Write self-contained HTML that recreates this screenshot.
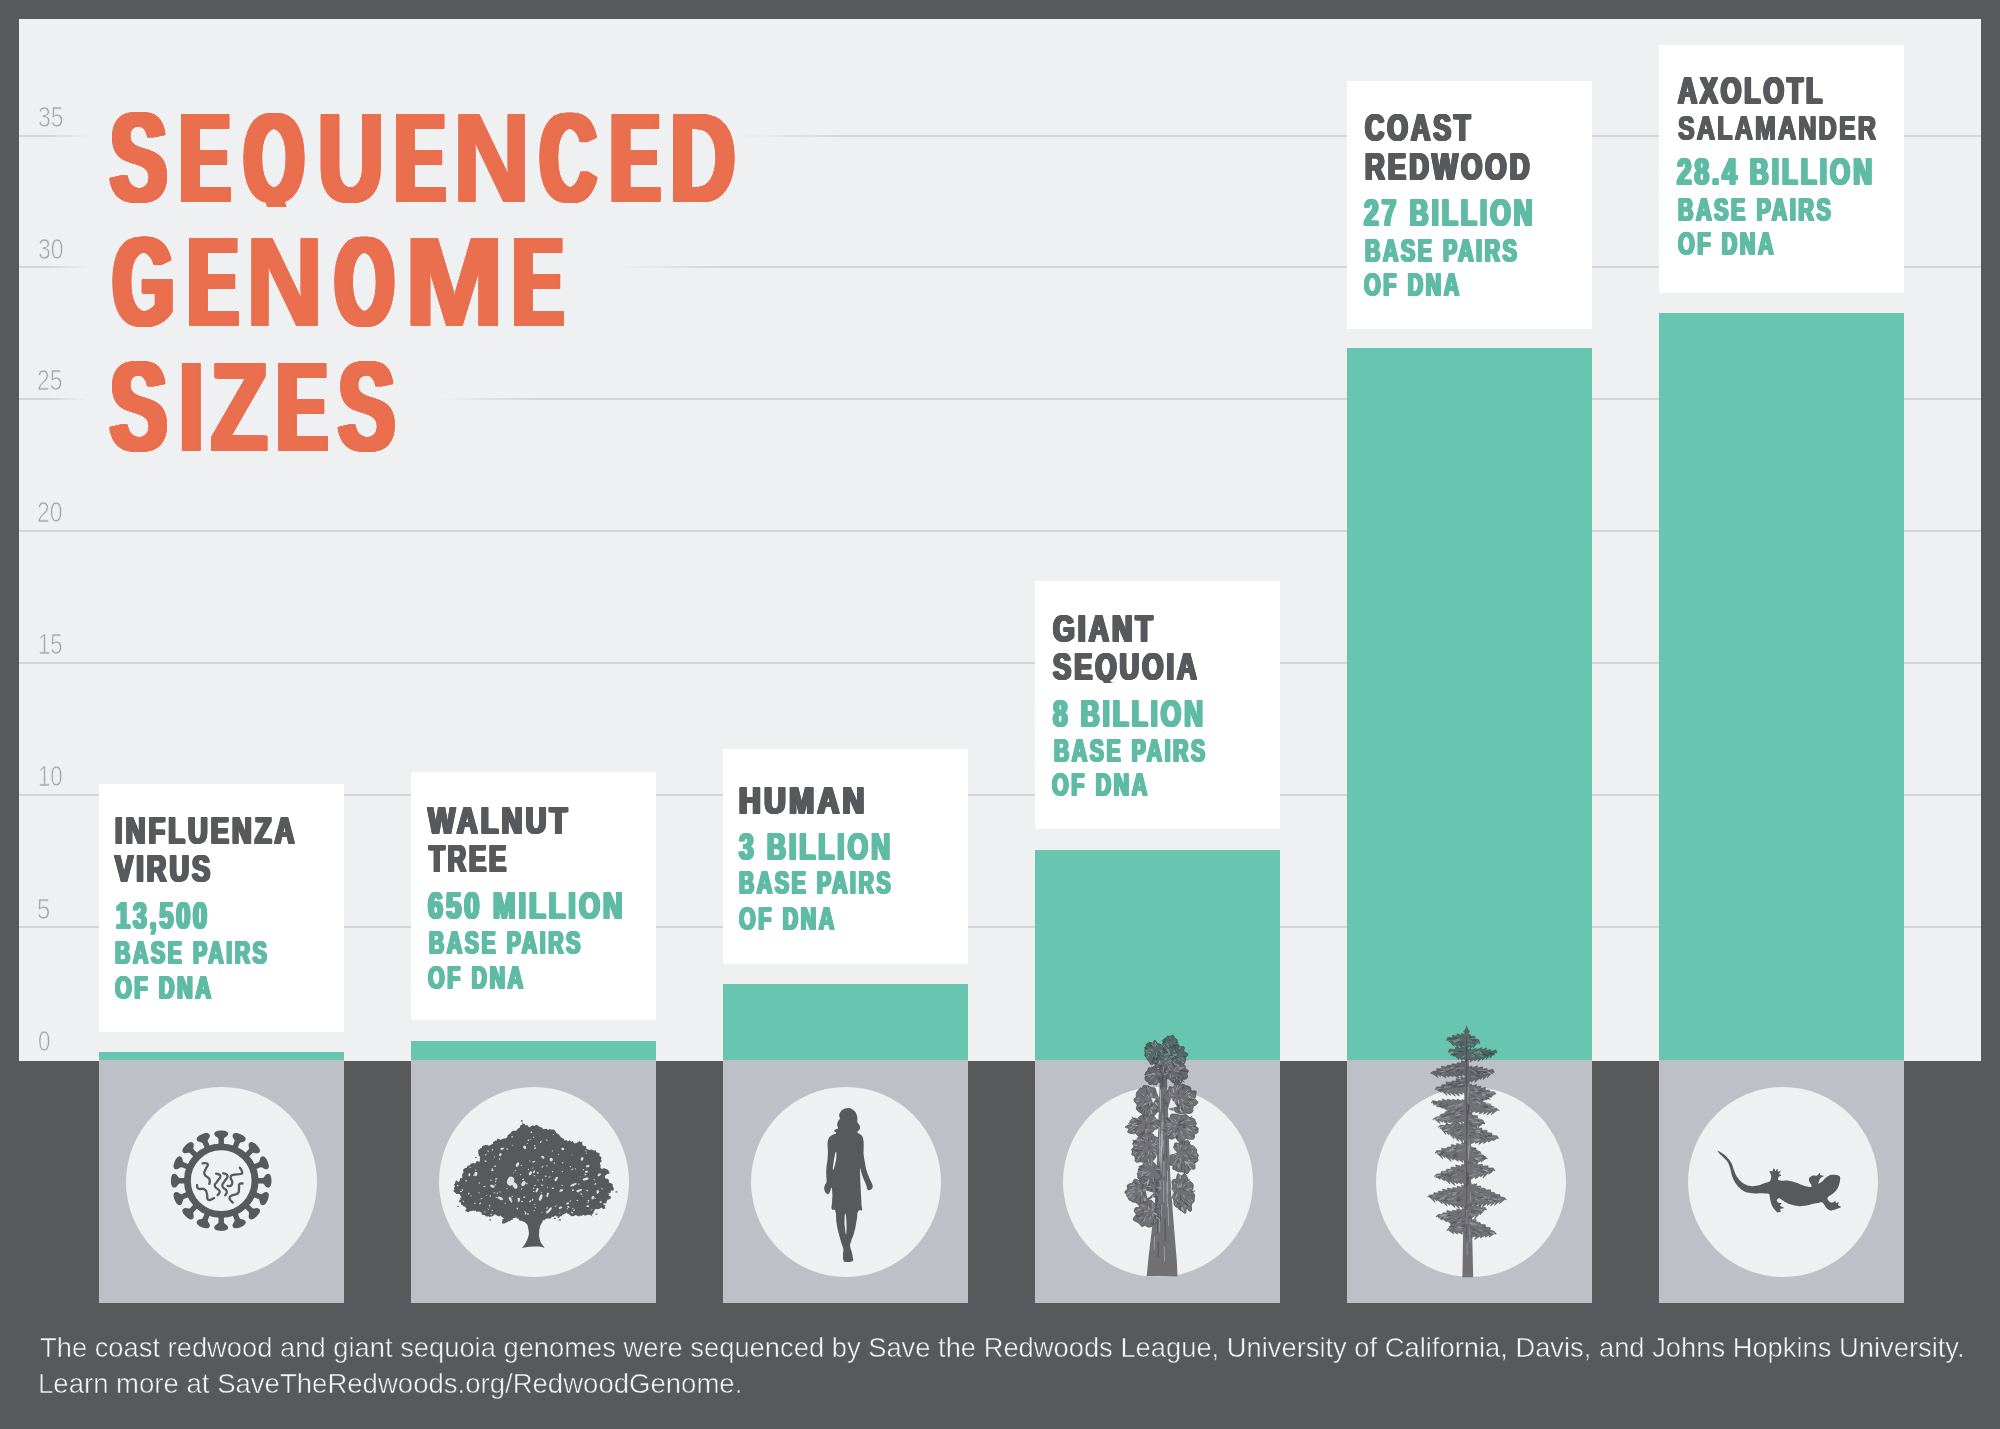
<!DOCTYPE html>
<html lang="en">
<head>
<meta charset="utf-8">
<title>Sequenced Genome Sizes</title>
<style>
html,body{margin:0;padding:0;}
body{width:2000px;height:1429px;background:#58595d;position:relative;overflow:hidden;
 font-family:"Liberation Sans",sans-serif;}
.abs{position:absolute;}
.panel{position:absolute;left:19px;top:19px;width:1962px;height:1041.5px;background:#eff0f2;}
.grid{position:absolute;left:19px;width:1962px;height:2px;background:#d4d5d9;}
.bar{position:absolute;background:#68c5b0;}
.lbl{position:absolute;background:#fff;}
.ibox{position:absolute;background:#bec0c8;}
.circ{position:absolute;width:190.1px;height:190.1px;border-radius:50%;background:#eff0f2;}
.tl{position:absolute;left:0;top:0;width:2000px;height:1429px;will-change:transform;}
.foot{-webkit-text-stroke:0.5px #58595d;}
.ax{-webkit-text-stroke:0.7px #eff0f2;}
.t{position:absolute;white-space:nowrap;line-height:1;transform-origin:0 0;letter-spacing:0;}
svg{position:absolute;overflow:visible;}
</style>
</head>
<body>
<div class="panel"></div>

<div class="grid" style="top:134.6px;background:linear-gradient(to right,#d4d5d9 0,#d4d5d9 30px,rgba(212,213,217,0) 70px,rgba(212,213,217,0) 718px,#d4d5d9 826px);"></div>
<div class="grid" style="top:266.2px;background:linear-gradient(to right,#d4d5d9 0,#d4d5d9 30px,rgba(212,213,217,0) 70px,rgba(212,213,217,0) 597px,#d4d5d9 703px);"></div>
<div class="grid" style="top:398.2px;background:linear-gradient(to right,#d4d5d9 0,#d4d5d9 30px,rgba(212,213,217,0) 70px,rgba(212,213,217,0) 414px,#d4d5d9 522px);"></div>
<div class="grid" style="top:530.2px;"></div>
<div class="grid" style="top:662.2px;"></div>
<div class="grid" style="top:794.2px;"></div>
<div class="grid" style="top:926.2px;"></div>
<div class="ibox" style="left:98.6px;top:1060px;width:245.5px;height:243.1px;"></div>
<div class="circ" style="left:126.45px;top:1086.9px;"></div>
<div class="bar" style="left:98.6px;top:1052.0px;width:245.5px;height:8.4px;"></div>
<div class="lbl" style="left:98.6px;top:784.3px;width:245.5px;height:248.1px;"></div>
<div class="ibox" style="left:410.6px;top:1060px;width:245.5px;height:243.1px;"></div>
<div class="circ" style="left:438.72px;top:1086.9px;"></div>
<div class="bar" style="left:410.6px;top:1041.3px;width:245.5px;height:19.1px;"></div>
<div class="lbl" style="left:410.6px;top:772.3px;width:245.5px;height:248.2px;"></div>
<div class="ibox" style="left:722.6px;top:1060px;width:245.5px;height:243.1px;"></div>
<div class="circ" style="left:750.99px;top:1086.9px;"></div>
<div class="bar" style="left:722.6px;top:984.4px;width:245.5px;height:76.0px;"></div>
<div class="lbl" style="left:722.6px;top:749.3px;width:245.5px;height:215.0px;"></div>
<div class="ibox" style="left:1034.6px;top:1060px;width:245.5px;height:243.1px;"></div>
<div class="circ" style="left:1063.26px;top:1086.9px;"></div>
<div class="bar" style="left:1034.6px;top:849.6px;width:245.5px;height:210.8px;"></div>
<div class="lbl" style="left:1034.6px;top:580.9px;width:245.5px;height:248.3px;"></div>
<div class="ibox" style="left:1346.6px;top:1060px;width:245.5px;height:243.1px;"></div>
<div class="circ" style="left:1375.53px;top:1086.9px;"></div>
<div class="bar" style="left:1346.6px;top:348.0px;width:245.5px;height:712.4px;"></div>
<div class="lbl" style="left:1346.6px;top:80.9px;width:245.5px;height:248.4px;"></div>
<div class="ibox" style="left:1658.6px;top:1060px;width:245.5px;height:243.1px;"></div>
<div class="circ" style="left:1687.80px;top:1086.9px;"></div>
<div class="bar" style="left:1658.6px;top:313.0px;width:245.5px;height:747.4px;"></div>
<div class="lbl" style="left:1658.6px;top:44.9px;width:245.5px;height:248.0px;"></div>
<div class="tl">
<div class="t ax" style="left:37.66px;top:103.29px;font-size:29.07px;font-weight:normal;color:#a4a5a8;transform:scaleX(0.7914);">35</div>
<div class="t ax" style="left:37.66px;top:235.29px;font-size:29.07px;font-weight:normal;color:#a4a5a8;transform:scaleX(0.7888);">30</div>
<div class="t ax" style="left:36.74px;top:366.29px;font-size:29.07px;font-weight:normal;color:#a4a5a8;transform:scaleX(0.7867);">25</div>
<div class="t ax" style="left:36.77px;top:498.29px;font-size:29.07px;font-weight:normal;color:#a4a5a8;transform:scaleX(0.7886);">20</div>
<div class="t ax" style="left:37.62px;top:630.29px;font-size:29.07px;font-weight:normal;color:#a4a5a8;transform:scaleX(0.7621);">15</div>
<div class="t ax" style="left:37.62px;top:762.29px;font-size:29.07px;font-weight:normal;color:#a4a5a8;transform:scaleX(0.7613);">10</div>
<div class="t ax" style="left:36.73px;top:895.29px;font-size:29.07px;font-weight:normal;color:#a4a5a8;transform:scaleX(0.8214);">5</div>
<div class="t ax" style="left:38.32px;top:1027.29px;font-size:29.07px;font-weight:normal;color:#a4a5a8;transform:scaleX(0.7681);">0</div>
<div class="t name" style="left:115.45px;top:811.98px;font-size:37.35px;font-weight:bold;color:#58595d;transform:scaleX(0.7318);letter-spacing:4.2px;text-shadow:-1.75px 0.00px 0 currentColor,-0.88px 0.00px 0 currentColor,0.88px 0.00px 0 currentColor,1.75px 0.00px 0 currentColor,-1.75px 1.00px 0 currentColor,-0.88px 1.00px 0 currentColor,0.00px 1.00px 0 currentColor,0.88px 1.00px 0 currentColor,1.75px 1.00px 0 currentColor;">INFLUENZA</div>
<div class="t name" style="left:115.08px;top:850.16px;font-size:37.50px;font-weight:bold;color:#58595d;transform:scaleX(0.7246);letter-spacing:4.2px;text-shadow:-1.75px 0.00px 0 currentColor,-0.88px 0.00px 0 currentColor,0.88px 0.00px 0 currentColor,1.75px 0.00px 0 currentColor,-1.75px 1.00px 0 currentColor,-0.88px 1.00px 0 currentColor,0.00px 1.00px 0 currentColor,0.88px 1.00px 0 currentColor,1.75px 1.00px 0 currentColor;">VIRUS</div>
<div class="t val" style="left:115.59px;top:897.48px;font-size:37.35px;font-weight:bold;color:#5fbba5;transform:scaleX(0.6734);letter-spacing:4.2px;text-shadow:-1.75px 0.00px 0 currentColor,-0.88px 0.00px 0 currentColor,0.88px 0.00px 0 currentColor,1.75px 0.00px 0 currentColor,-1.75px 1.00px 0 currentColor,-0.88px 1.00px 0 currentColor,0.00px 1.00px 0 currentColor,0.88px 1.00px 0 currentColor,1.75px 1.00px 0 currentColor;">13,500</div>
<div class="t sub" style="left:114.65px;top:938.12px;font-size:30.69px;font-weight:bold;color:#5fbba5;transform:scaleX(0.6918);letter-spacing:3.8px;text-shadow:-1.55px 0.00px 0 currentColor,-0.52px 0.00px 0 currentColor,0.52px 0.00px 0 currentColor,1.55px 0.00px 0 currentColor,-1.55px 1.00px 0 currentColor,-0.52px 1.00px 0 currentColor,0.52px 1.00px 0 currentColor,1.55px 1.00px 0 currentColor;">BASE PAIRS</div>
<div class="t sub" style="left:114.97px;top:972.62px;font-size:30.69px;font-weight:bold;color:#5fbba5;transform:scaleX(0.7019);letter-spacing:3.8px;text-shadow:-1.55px 0.00px 0 currentColor,-0.52px 0.00px 0 currentColor,0.52px 0.00px 0 currentColor,1.55px 0.00px 0 currentColor,-1.55px 1.00px 0 currentColor,-0.52px 1.00px 0 currentColor,0.52px 1.00px 0 currentColor,1.55px 1.00px 0 currentColor;">OF DNA</div>
<div class="t name" style="left:428.06px;top:801.66px;font-size:37.50px;font-weight:bold;color:#58595d;transform:scaleX(0.7674);letter-spacing:4.2px;text-shadow:-1.75px 0.00px 0 currentColor,-0.88px 0.00px 0 currentColor,0.88px 0.00px 0 currentColor,1.75px 0.00px 0 currentColor,-1.75px 1.00px 0 currentColor,-0.88px 1.00px 0 currentColor,0.00px 1.00px 0 currentColor,0.88px 1.00px 0 currentColor,1.75px 1.00px 0 currentColor;">WALNUT</div>
<div class="t name" style="left:428.92px;top:839.98px;font-size:37.35px;font-weight:bold;color:#58595d;transform:scaleX(0.6884);letter-spacing:4.2px;text-shadow:-1.75px 0.00px 0 currentColor,-0.88px 0.00px 0 currentColor,0.88px 0.00px 0 currentColor,1.75px 0.00px 0 currentColor,-1.75px 1.00px 0 currentColor,-0.88px 1.00px 0 currentColor,0.00px 1.00px 0 currentColor,0.88px 1.00px 0 currentColor,1.75px 1.00px 0 currentColor;">TREE</div>
<div class="t val" style="left:428.11px;top:887.48px;font-size:37.35px;font-weight:bold;color:#5fbba5;transform:scaleX(0.7260);letter-spacing:4.2px;text-shadow:-1.75px 0.00px 0 currentColor,-0.88px 0.00px 0 currentColor,0.88px 0.00px 0 currentColor,1.75px 0.00px 0 currentColor,-1.75px 1.00px 0 currentColor,-0.88px 1.00px 0 currentColor,0.00px 1.00px 0 currentColor,0.88px 1.00px 0 currentColor,1.75px 1.00px 0 currentColor;">650 MILLION</div>
<div class="t sub" style="left:429.14px;top:928.30px;font-size:30.84px;font-weight:bold;color:#5fbba5;transform:scaleX(0.6863);letter-spacing:3.8px;text-shadow:-1.55px 0.00px 0 currentColor,-0.52px 0.00px 0 currentColor,0.52px 0.00px 0 currentColor,1.55px 0.00px 0 currentColor,-1.55px 1.00px 0 currentColor,-0.52px 1.00px 0 currentColor,0.52px 1.00px 0 currentColor,1.55px 1.00px 0 currentColor;">BASE PAIRS</div>
<div class="t sub" style="left:428.47px;top:962.62px;font-size:30.69px;font-weight:bold;color:#5fbba5;transform:scaleX(0.6955);letter-spacing:3.8px;text-shadow:-1.55px 0.00px 0 currentColor,-0.52px 0.00px 0 currentColor,0.52px 0.00px 0 currentColor,1.55px 0.00px 0 currentColor,-1.55px 1.00px 0 currentColor,-0.52px 1.00px 0 currentColor,0.52px 1.00px 0 currentColor,1.55px 1.00px 0 currentColor;">OF DNA</div>
<div class="t name" style="left:738.88px;top:781.66px;font-size:37.50px;font-weight:bold;color:#58595d;transform:scaleX(0.8008);letter-spacing:4.2px;text-shadow:-1.75px 0.00px 0 currentColor,-0.88px 0.00px 0 currentColor,0.88px 0.00px 0 currentColor,1.75px 0.00px 0 currentColor,-1.75px 1.00px 0 currentColor,-0.88px 1.00px 0 currentColor,0.00px 1.00px 0 currentColor,0.88px 1.00px 0 currentColor,1.75px 1.00px 0 currentColor;">HUMAN</div>
<div class="t val" style="left:738.63px;top:827.66px;font-size:37.50px;font-weight:bold;color:#5fbba5;transform:scaleX(0.7036);letter-spacing:4.2px;text-shadow:-1.75px 0.00px 0 currentColor,-0.88px 0.00px 0 currentColor,0.88px 0.00px 0 currentColor,1.75px 0.00px 0 currentColor,-1.75px 1.00px 0 currentColor,-0.88px 1.00px 0 currentColor,0.00px 1.00px 0 currentColor,0.88px 1.00px 0 currentColor,1.75px 1.00px 0 currentColor;">3 BILLION</div>
<div class="t sub" style="left:739.15px;top:868.12px;font-size:30.69px;font-weight:bold;color:#5fbba5;transform:scaleX(0.6907);letter-spacing:3.8px;text-shadow:-1.55px 0.00px 0 currentColor,-0.52px 0.00px 0 currentColor,0.52px 0.00px 0 currentColor,1.55px 0.00px 0 currentColor,-1.55px 1.00px 0 currentColor,-0.52px 1.00px 0 currentColor,0.52px 1.00px 0 currentColor,1.55px 1.00px 0 currentColor;">BASE PAIRS</div>
<div class="t sub" style="left:738.97px;top:903.80px;font-size:30.84px;font-weight:bold;color:#5fbba5;transform:scaleX(0.6943);letter-spacing:3.8px;text-shadow:-1.55px 0.00px 0 currentColor,-0.52px 0.00px 0 currentColor,0.52px 0.00px 0 currentColor,1.55px 0.00px 0 currentColor,-1.55px 1.00px 0 currentColor,-0.52px 1.00px 0 currentColor,0.52px 1.00px 0 currentColor,1.55px 1.00px 0 currentColor;">OF DNA</div>
<div class="t name" style="left:1053.46px;top:609.83px;font-size:37.65px;font-weight:bold;color:#58595d;transform:scaleX(0.7437);letter-spacing:4.2px;text-shadow:-1.75px 0.00px 0 currentColor,-0.88px 0.00px 0 currentColor,0.88px 0.00px 0 currentColor,1.75px 0.00px 0 currentColor,-1.75px 1.00px 0 currentColor,-0.88px 1.00px 0 currentColor,0.00px 1.00px 0 currentColor,0.88px 1.00px 0 currentColor,1.75px 1.00px 0 currentColor;">GIANT</div>
<div class="t name" style="left:1053.16px;top:648.16px;font-size:37.50px;font-weight:bold;color:#58595d;transform:scaleX(0.7252);letter-spacing:4.2px;text-shadow:-1.75px 0.00px 0 currentColor,-0.88px 0.00px 0 currentColor,0.88px 0.00px 0 currentColor,1.75px 0.00px 0 currentColor,-1.75px 1.00px 0 currentColor,-0.88px 1.00px 0 currentColor,0.00px 1.00px 0 currentColor,0.88px 1.00px 0 currentColor,1.75px 1.00px 0 currentColor;">SEQUOIA</div>
<div class="t val" style="left:1053.39px;top:694.66px;font-size:37.50px;font-weight:bold;color:#5fbba5;transform:scaleX(0.6984);letter-spacing:4.2px;text-shadow:-1.75px 0.00px 0 currentColor,-0.88px 0.00px 0 currentColor,0.88px 0.00px 0 currentColor,1.75px 0.00px 0 currentColor,-1.75px 1.00px 0 currentColor,-0.88px 1.00px 0 currentColor,0.00px 1.00px 0 currentColor,0.88px 1.00px 0 currentColor,1.75px 1.00px 0 currentColor;">8 BILLION</div>
<div class="t sub" style="left:1053.65px;top:735.80px;font-size:30.84px;font-weight:bold;color:#5fbba5;transform:scaleX(0.6857);letter-spacing:3.8px;text-shadow:-1.55px 0.00px 0 currentColor,-0.52px 0.00px 0 currentColor,0.52px 0.00px 0 currentColor,1.55px 0.00px 0 currentColor,-1.55px 1.00px 0 currentColor,-0.52px 1.00px 0 currentColor,0.52px 1.00px 0 currentColor,1.55px 1.00px 0 currentColor;">BASE PAIRS</div>
<div class="t sub" style="left:1052.47px;top:770.30px;font-size:30.84px;font-weight:bold;color:#5fbba5;transform:scaleX(0.6943);letter-spacing:3.8px;text-shadow:-1.55px 0.00px 0 currentColor,-0.52px 0.00px 0 currentColor,0.52px 0.00px 0 currentColor,1.55px 0.00px 0 currentColor,-1.55px 1.00px 0 currentColor,-0.52px 1.00px 0 currentColor,0.52px 1.00px 0 currentColor,1.55px 1.00px 0 currentColor;">OF DNA</div>
<div class="t name" style="left:1364.65px;top:109.01px;font-size:37.79px;font-weight:bold;color:#58595d;transform:scaleX(0.7071);letter-spacing:4.2px;text-shadow:-1.75px 0.00px 0 currentColor,-0.88px 0.00px 0 currentColor,0.88px 0.00px 0 currentColor,1.75px 0.00px 0 currentColor,-1.75px 1.00px 0 currentColor,-0.88px 1.00px 0 currentColor,0.00px 1.00px 0 currentColor,0.88px 1.00px 0 currentColor,1.75px 1.00px 0 currentColor;">COAST</div>
<div class="t name" style="left:1365.44px;top:148.16px;font-size:37.50px;font-weight:bold;color:#58595d;transform:scaleX(0.7302);letter-spacing:4.2px;text-shadow:-1.75px 0.00px 0 currentColor,-0.88px 0.00px 0 currentColor,0.88px 0.00px 0 currentColor,1.75px 0.00px 0 currentColor,-1.75px 1.00px 0 currentColor,-0.88px 1.00px 0 currentColor,0.00px 1.00px 0 currentColor,0.88px 1.00px 0 currentColor,1.75px 1.00px 0 currentColor;">REDWOOD</div>
<div class="t val" style="left:1363.81px;top:194.48px;font-size:37.35px;font-weight:bold;color:#5fbba5;transform:scaleX(0.7056);letter-spacing:4.2px;text-shadow:-1.75px 0.00px 0 currentColor,-0.88px 0.00px 0 currentColor,0.88px 0.00px 0 currentColor,1.75px 0.00px 0 currentColor,-1.75px 1.00px 0 currentColor,-0.88px 1.00px 0 currentColor,0.00px 1.00px 0 currentColor,0.88px 1.00px 0 currentColor,1.75px 1.00px 0 currentColor;">27 BILLION</div>
<div class="t sub" style="left:1364.64px;top:235.47px;font-size:30.99px;font-weight:bold;color:#5fbba5;transform:scaleX(0.6859);letter-spacing:3.8px;text-shadow:-1.55px 0.00px 0 currentColor,-0.52px 0.00px 0 currentColor,0.52px 0.00px 0 currentColor,1.55px 0.00px 0 currentColor,-1.55px 1.00px 0 currentColor,-0.52px 1.00px 0 currentColor,0.52px 1.00px 0 currentColor,1.55px 1.00px 0 currentColor;">BASE PAIRS</div>
<div class="t sub" style="left:1364.47px;top:270.30px;font-size:30.84px;font-weight:bold;color:#5fbba5;transform:scaleX(0.6943);letter-spacing:3.8px;text-shadow:-1.55px 0.00px 0 currentColor,-0.52px 0.00px 0 currentColor,0.52px 0.00px 0 currentColor,1.55px 0.00px 0 currentColor,-1.55px 1.00px 0 currentColor,-0.52px 1.00px 0 currentColor,0.52px 1.00px 0 currentColor,1.55px 1.00px 0 currentColor;">OF DNA</div>
<div class="t name" style="left:1677.59px;top:72.30px;font-size:37.21px;font-weight:bold;color:#58595d;transform:scaleX(0.7107);letter-spacing:4.2px;text-shadow:-1.75px 0.00px 0 currentColor,-0.88px 0.00px 0 currentColor,0.88px 0.00px 0 currentColor,1.75px 0.00px 0 currentColor,-1.75px 1.00px 0 currentColor,-0.88px 1.00px 0 currentColor,0.00px 1.00px 0 currentColor,0.88px 1.00px 0 currentColor,1.75px 1.00px 0 currentColor;">AXOLOTL</div>
<div class="t name2" style="left:1677.62px;top:111.52px;font-size:32.70px;font-weight:bold;color:#58595d;transform:scaleX(0.7628);letter-spacing:3.0px;text-shadow:-1.10px 0.00px 0 currentColor,1.10px 0.00px 0 currentColor,-1.10px 1.00px 0 currentColor,0.00px 1.00px 0 currentColor,1.10px 1.00px 0 currentColor;">SALAMANDER</div>
<div class="t val" style="left:1677.31px;top:153.16px;font-size:37.50px;font-weight:bold;color:#5fbba5;transform:scaleX(0.6977);letter-spacing:4.2px;text-shadow:-1.75px 0.00px 0 currentColor,-0.88px 0.00px 0 currentColor,0.88px 0.00px 0 currentColor,1.75px 0.00px 0 currentColor,-1.75px 1.00px 0 currentColor,-0.88px 1.00px 0 currentColor,0.00px 1.00px 0 currentColor,0.88px 1.00px 0 currentColor,1.75px 1.00px 0 currentColor;">28.4 BILLION</div>
<div class="t sub" style="left:1678.14px;top:194.80px;font-size:30.84px;font-weight:bold;color:#5fbba5;transform:scaleX(0.6931);letter-spacing:3.8px;text-shadow:-1.55px 0.00px 0 currentColor,-0.52px 0.00px 0 currentColor,0.52px 0.00px 0 currentColor,1.55px 0.00px 0 currentColor,-1.55px 1.00px 0 currentColor,-0.52px 1.00px 0 currentColor,0.52px 1.00px 0 currentColor,1.55px 1.00px 0 currentColor;">BASE PAIRS</div>
<div class="t sub" style="left:1677.96px;top:229.30px;font-size:30.84px;font-weight:bold;color:#5fbba5;transform:scaleX(0.6962);letter-spacing:3.8px;text-shadow:-1.55px 0.00px 0 currentColor,-0.52px 0.00px 0 currentColor,0.52px 0.00px 0 currentColor,1.55px 0.00px 0 currentColor,-1.55px 1.00px 0 currentColor,-0.52px 1.00px 0 currentColor,0.52px 1.00px 0 currentColor,1.55px 1.00px 0 currentColor;">OF DNA</div>
<div class="t title" style="left:110.30px;top:94.96px;font-size:126.45px;font-weight:bold;color:#e96f4f;transform:scaleX(0.6778);text-shadow:-4.85px 0.00px 0 currentColor,-3.96px 0.00px 0 currentColor,-3.08px 0.00px 0 currentColor,-2.20px 0.00px 0 currentColor,-1.32px 0.00px 0 currentColor,-0.44px 0.00px 0 currentColor,0.44px 0.00px 0 currentColor,1.32px 0.00px 0 currentColor,2.20px 0.00px 0 currentColor,3.08px 0.00px 0 currentColor,3.96px 0.00px 0 currentColor,4.85px 0.00px 0 currentColor,-4.85px 1.00px 0 currentColor,-3.96px 1.00px 0 currentColor,-3.08px 1.00px 0 currentColor,-2.20px 1.00px 0 currentColor,-1.32px 1.00px 0 currentColor,-0.44px 1.00px 0 currentColor,0.44px 1.00px 0 currentColor,1.32px 1.00px 0 currentColor,2.20px 1.00px 0 currentColor,3.08px 1.00px 0 currentColor,3.96px 1.00px 0 currentColor,4.85px 1.00px 0 currentColor;">S</div>
<div class="t title" style="left:180.35px;top:94.96px;font-size:126.45px;font-weight:bold;color:#e96f4f;transform:scaleX(0.5899);text-shadow:-6.88px 0.00px 0 currentColor,-5.96px 0.00px 0 currentColor,-5.04px 0.00px 0 currentColor,-4.13px 0.00px 0 currentColor,-3.21px 0.00px 0 currentColor,-2.29px 0.00px 0 currentColor,-1.38px 0.00px 0 currentColor,-0.46px 0.00px 0 currentColor,0.46px 0.00px 0 currentColor,1.38px 0.00px 0 currentColor,2.29px 0.00px 0 currentColor,3.21px 0.00px 0 currentColor,4.13px 0.00px 0 currentColor,5.04px 0.00px 0 currentColor,5.96px 0.00px 0 currentColor,6.88px 0.00px 0 currentColor,-6.88px 1.00px 0 currentColor,-5.96px 1.00px 0 currentColor,-5.04px 1.00px 0 currentColor,-4.13px 1.00px 0 currentColor,-3.21px 1.00px 0 currentColor,-2.29px 1.00px 0 currentColor,-1.38px 1.00px 0 currentColor,-0.46px 1.00px 0 currentColor,0.46px 1.00px 0 currentColor,1.38px 1.00px 0 currentColor,2.29px 1.00px 0 currentColor,3.21px 1.00px 0 currentColor,4.13px 1.00px 0 currentColor,5.04px 1.00px 0 currentColor,5.96px 1.00px 0 currentColor,6.88px 1.00px 0 currentColor;">E</div>
<div class="t title" style="left:243.70px;top:94.96px;font-size:126.45px;font-weight:bold;color:#e96f4f;transform:scaleX(0.6100);text-shadow:-6.34px 0.00px 0 currentColor,-5.43px 0.00px 0 currentColor,-4.53px 0.00px 0 currentColor,-3.62px 0.00px 0 currentColor,-2.72px 0.00px 0 currentColor,-1.81px 0.00px 0 currentColor,-0.91px 0.00px 0 currentColor,0.91px 0.00px 0 currentColor,1.81px 0.00px 0 currentColor,2.72px 0.00px 0 currentColor,3.62px 0.00px 0 currentColor,4.53px 0.00px 0 currentColor,5.43px 0.00px 0 currentColor,6.34px 0.00px 0 currentColor,-6.34px 1.00px 0 currentColor,-5.43px 1.00px 0 currentColor,-4.53px 1.00px 0 currentColor,-3.62px 1.00px 0 currentColor,-2.72px 1.00px 0 currentColor,-1.81px 1.00px 0 currentColor,-0.91px 1.00px 0 currentColor,0.00px 1.00px 0 currentColor,0.91px 1.00px 0 currentColor,1.81px 1.00px 0 currentColor,2.72px 1.00px 0 currentColor,3.62px 1.00px 0 currentColor,4.53px 1.00px 0 currentColor,5.43px 1.00px 0 currentColor,6.34px 1.00px 0 currentColor;">Q</div>
<div class="t title" style="left:317.50px;top:94.96px;font-size:126.45px;font-weight:bold;color:#e96f4f;transform:scaleX(0.7179);text-shadow:-3.95px 0.00px 0 currentColor,-3.07px 0.00px 0 currentColor,-2.19px 0.00px 0 currentColor,-1.32px 0.00px 0 currentColor,-0.44px 0.00px 0 currentColor,0.44px 0.00px 0 currentColor,1.32px 0.00px 0 currentColor,2.19px 0.00px 0 currentColor,3.07px 0.00px 0 currentColor,3.95px 0.00px 0 currentColor,-3.95px 1.00px 0 currentColor,-3.07px 1.00px 0 currentColor,-2.19px 1.00px 0 currentColor,-1.32px 1.00px 0 currentColor,-0.44px 1.00px 0 currentColor,0.44px 1.00px 0 currentColor,1.32px 1.00px 0 currentColor,2.19px 1.00px 0 currentColor,3.07px 1.00px 0 currentColor,3.95px 1.00px 0 currentColor;">U</div>
<div class="t title" style="left:395.35px;top:94.96px;font-size:126.45px;font-weight:bold;color:#e96f4f;transform:scaleX(0.5899);text-shadow:-6.88px 0.00px 0 currentColor,-5.96px 0.00px 0 currentColor,-5.04px 0.00px 0 currentColor,-4.13px 0.00px 0 currentColor,-3.21px 0.00px 0 currentColor,-2.29px 0.00px 0 currentColor,-1.38px 0.00px 0 currentColor,-0.46px 0.00px 0 currentColor,0.46px 0.00px 0 currentColor,1.38px 0.00px 0 currentColor,2.29px 0.00px 0 currentColor,3.21px 0.00px 0 currentColor,4.13px 0.00px 0 currentColor,5.04px 0.00px 0 currentColor,5.96px 0.00px 0 currentColor,6.88px 0.00px 0 currentColor,-6.88px 1.00px 0 currentColor,-5.96px 1.00px 0 currentColor,-5.04px 1.00px 0 currentColor,-4.13px 1.00px 0 currentColor,-3.21px 1.00px 0 currentColor,-2.29px 1.00px 0 currentColor,-1.38px 1.00px 0 currentColor,-0.46px 1.00px 0 currentColor,0.46px 1.00px 0 currentColor,1.38px 1.00px 0 currentColor,2.29px 1.00px 0 currentColor,3.21px 1.00px 0 currentColor,4.13px 1.00px 0 currentColor,5.04px 1.00px 0 currentColor,5.96px 1.00px 0 currentColor,6.88px 1.00px 0 currentColor;">E</div>
<div class="t title" style="left:453.36px;top:94.96px;font-size:126.45px;font-weight:bold;color:#e96f4f;transform:scaleX(0.8460);text-shadow:-2.13px 0.00px 0 currentColor,-1.28px 0.00px 0 currentColor,-0.43px 0.00px 0 currentColor,0.43px 0.00px 0 currentColor,1.28px 0.00px 0 currentColor,2.13px 0.00px 0 currentColor,-2.13px 1.00px 0 currentColor,-1.28px 1.00px 0 currentColor,-0.43px 1.00px 0 currentColor,0.43px 1.00px 0 currentColor,1.28px 1.00px 0 currentColor,2.13px 1.00px 0 currentColor;">N</div>
<div class="t title" style="left:540.17px;top:94.96px;font-size:126.45px;font-weight:bold;color:#e96f4f;transform:scaleX(0.6130);text-shadow:-6.27px 0.00px 0 currentColor,-5.38px 0.00px 0 currentColor,-4.48px 0.00px 0 currentColor,-3.58px 0.00px 0 currentColor,-2.69px 0.00px 0 currentColor,-1.79px 0.00px 0 currentColor,-0.90px 0.00px 0 currentColor,0.90px 0.00px 0 currentColor,1.79px 0.00px 0 currentColor,2.69px 0.00px 0 currentColor,3.58px 0.00px 0 currentColor,4.48px 0.00px 0 currentColor,5.38px 0.00px 0 currentColor,6.27px 0.00px 0 currentColor,-6.27px 1.00px 0 currentColor,-5.38px 1.00px 0 currentColor,-4.48px 1.00px 0 currentColor,-3.58px 1.00px 0 currentColor,-2.69px 1.00px 0 currentColor,-1.79px 1.00px 0 currentColor,-0.90px 1.00px 0 currentColor,0.00px 1.00px 0 currentColor,0.90px 1.00px 0 currentColor,1.79px 1.00px 0 currentColor,2.69px 1.00px 0 currentColor,3.58px 1.00px 0 currentColor,4.48px 1.00px 0 currentColor,5.38px 1.00px 0 currentColor,6.27px 1.00px 0 currentColor;">C</div>
<div class="t title" style="left:610.97px;top:94.96px;font-size:126.45px;font-weight:bold;color:#e96f4f;transform:scaleX(0.5716);text-shadow:-7.26px 0.00px 0 currentColor,-6.35px 0.00px 0 currentColor,-5.44px 0.00px 0 currentColor,-4.54px 0.00px 0 currentColor,-3.63px 0.00px 0 currentColor,-2.72px 0.00px 0 currentColor,-1.81px 0.00px 0 currentColor,-0.91px 0.00px 0 currentColor,0.91px 0.00px 0 currentColor,1.81px 0.00px 0 currentColor,2.72px 0.00px 0 currentColor,3.63px 0.00px 0 currentColor,4.54px 0.00px 0 currentColor,5.44px 0.00px 0 currentColor,6.35px 0.00px 0 currentColor,7.26px 0.00px 0 currentColor,-7.26px 1.00px 0 currentColor,-6.35px 1.00px 0 currentColor,-5.44px 1.00px 0 currentColor,-4.54px 1.00px 0 currentColor,-3.63px 1.00px 0 currentColor,-2.72px 1.00px 0 currentColor,-1.81px 1.00px 0 currentColor,-0.91px 1.00px 0 currentColor,0.00px 1.00px 0 currentColor,0.91px 1.00px 0 currentColor,1.81px 1.00px 0 currentColor,2.72px 1.00px 0 currentColor,3.63px 1.00px 0 currentColor,4.54px 1.00px 0 currentColor,5.44px 1.00px 0 currentColor,6.35px 1.00px 0 currentColor,7.26px 1.00px 0 currentColor;">E</div>
<div class="t title" style="left:669.88px;top:94.96px;font-size:126.45px;font-weight:bold;color:#e96f4f;transform:scaleX(0.7159);text-shadow:-4.12px 0.00px 0 currentColor,-3.21px 0.00px 0 currentColor,-2.29px 0.00px 0 currentColor,-1.37px 0.00px 0 currentColor,-0.46px 0.00px 0 currentColor,0.46px 0.00px 0 currentColor,1.37px 0.00px 0 currentColor,2.29px 0.00px 0 currentColor,3.21px 0.00px 0 currentColor,4.12px 0.00px 0 currentColor,-4.12px 1.00px 0 currentColor,-3.21px 1.00px 0 currentColor,-2.29px 1.00px 0 currentColor,-1.37px 1.00px 0 currentColor,-0.46px 1.00px 0 currentColor,0.46px 1.00px 0 currentColor,1.37px 1.00px 0 currentColor,2.29px 1.00px 0 currentColor,3.21px 1.00px 0 currentColor,4.12px 1.00px 0 currentColor;">D</div>
<div class="t title" style="left:112.69px;top:218.75px;font-size:125.87px;font-weight:bold;color:#e96f4f;transform:scaleX(0.6200);text-shadow:-5.85px 0.00px 0 currentColor,-4.95px 0.00px 0 currentColor,-4.05px 0.00px 0 currentColor,-3.15px 0.00px 0 currentColor,-2.25px 0.00px 0 currentColor,-1.35px 0.00px 0 currentColor,-0.45px 0.00px 0 currentColor,0.45px 0.00px 0 currentColor,1.35px 0.00px 0 currentColor,2.25px 0.00px 0 currentColor,3.15px 0.00px 0 currentColor,4.05px 0.00px 0 currentColor,4.95px 0.00px 0 currentColor,5.85px 0.00px 0 currentColor,-5.85px 1.00px 0 currentColor,-4.95px 1.00px 0 currentColor,-4.05px 1.00px 0 currentColor,-3.15px 1.00px 0 currentColor,-2.25px 1.00px 0 currentColor,-1.35px 1.00px 0 currentColor,-0.45px 1.00px 0 currentColor,0.45px 1.00px 0 currentColor,1.35px 1.00px 0 currentColor,2.25px 1.00px 0 currentColor,3.15px 1.00px 0 currentColor,4.05px 1.00px 0 currentColor,4.95px 1.00px 0 currentColor,5.85px 1.00px 0 currentColor;">G</div>
<div class="t title" style="left:187.85px;top:218.75px;font-size:125.87px;font-weight:bold;color:#e96f4f;transform:scaleX(0.5926);text-shadow:-6.85px 0.00px 0 currentColor,-5.93px 0.00px 0 currentColor,-5.02px 0.00px 0 currentColor,-4.11px 0.00px 0 currentColor,-3.19px 0.00px 0 currentColor,-2.28px 0.00px 0 currentColor,-1.37px 0.00px 0 currentColor,-0.46px 0.00px 0 currentColor,0.46px 0.00px 0 currentColor,1.37px 0.00px 0 currentColor,2.28px 0.00px 0 currentColor,3.19px 0.00px 0 currentColor,4.11px 0.00px 0 currentColor,5.02px 0.00px 0 currentColor,5.93px 0.00px 0 currentColor,6.85px 0.00px 0 currentColor,-6.85px 1.00px 0 currentColor,-5.93px 1.00px 0 currentColor,-5.02px 1.00px 0 currentColor,-4.11px 1.00px 0 currentColor,-3.19px 1.00px 0 currentColor,-2.28px 1.00px 0 currentColor,-1.37px 1.00px 0 currentColor,-0.46px 1.00px 0 currentColor,0.46px 1.00px 0 currentColor,1.37px 1.00px 0 currentColor,2.28px 1.00px 0 currentColor,3.19px 1.00px 0 currentColor,4.11px 1.00px 0 currentColor,5.02px 1.00px 0 currentColor,5.93px 1.00px 0 currentColor,6.85px 1.00px 0 currentColor;">E</div>
<div class="t title" style="left:245.86px;top:218.75px;font-size:125.87px;font-weight:bold;color:#e96f4f;transform:scaleX(0.8500);text-shadow:-2.12px 0.00px 0 currentColor,-1.27px 0.00px 0 currentColor,-0.42px 0.00px 0 currentColor,0.42px 0.00px 0 currentColor,1.27px 0.00px 0 currentColor,2.12px 0.00px 0 currentColor,-2.12px 1.00px 0 currentColor,-1.27px 1.00px 0 currentColor,-0.42px 1.00px 0 currentColor,0.42px 1.00px 0 currentColor,1.27px 1.00px 0 currentColor,2.12px 1.00px 0 currentColor;">N</div>
<div class="t title" style="left:334.50px;top:218.75px;font-size:125.87px;font-weight:bold;color:#e96f4f;transform:scaleX(0.6011);text-shadow:-6.39px 0.00px 0 currentColor,-5.48px 0.00px 0 currentColor,-4.57px 0.00px 0 currentColor,-3.65px 0.00px 0 currentColor,-2.74px 0.00px 0 currentColor,-1.83px 0.00px 0 currentColor,-0.91px 0.00px 0 currentColor,0.91px 0.00px 0 currentColor,1.83px 0.00px 0 currentColor,2.74px 0.00px 0 currentColor,3.65px 0.00px 0 currentColor,4.57px 0.00px 0 currentColor,5.48px 0.00px 0 currentColor,6.39px 0.00px 0 currentColor,-6.39px 1.00px 0 currentColor,-5.48px 1.00px 0 currentColor,-4.57px 1.00px 0 currentColor,-3.65px 1.00px 0 currentColor,-2.74px 1.00px 0 currentColor,-1.83px 1.00px 0 currentColor,-0.91px 1.00px 0 currentColor,0.00px 1.00px 0 currentColor,0.91px 1.00px 0 currentColor,1.83px 1.00px 0 currentColor,2.74px 1.00px 0 currentColor,3.65px 1.00px 0 currentColor,4.57px 1.00px 0 currentColor,5.48px 1.00px 0 currentColor,6.39px 1.00px 0 currentColor;">O</div>
<div class="t title" style="left:404.90px;top:218.75px;font-size:125.87px;font-weight:bold;color:#e96f4f;transform:scaleX(0.9413);text-shadow:-2.32px 0.00px 0 currentColor,-1.39px 0.00px 0 currentColor,-0.46px 0.00px 0 currentColor,0.46px 0.00px 0 currentColor,1.39px 0.00px 0 currentColor,2.32px 0.00px 0 currentColor,-2.32px 1.00px 0 currentColor,-1.39px 1.00px 0 currentColor,-0.46px 1.00px 0 currentColor,0.46px 1.00px 0 currentColor,1.39px 1.00px 0 currentColor,2.32px 1.00px 0 currentColor;">M</div>
<div class="t title" style="left:512.85px;top:218.75px;font-size:125.87px;font-weight:bold;color:#e96f4f;transform:scaleX(0.5926);text-shadow:-6.85px 0.00px 0 currentColor,-5.93px 0.00px 0 currentColor,-5.02px 0.00px 0 currentColor,-4.11px 0.00px 0 currentColor,-3.19px 0.00px 0 currentColor,-2.28px 0.00px 0 currentColor,-1.37px 0.00px 0 currentColor,-0.46px 0.00px 0 currentColor,0.46px 0.00px 0 currentColor,1.37px 0.00px 0 currentColor,2.28px 0.00px 0 currentColor,3.19px 0.00px 0 currentColor,4.11px 0.00px 0 currentColor,5.02px 0.00px 0 currentColor,5.93px 0.00px 0 currentColor,6.85px 0.00px 0 currentColor,-6.85px 1.00px 0 currentColor,-5.93px 1.00px 0 currentColor,-5.02px 1.00px 0 currentColor,-4.11px 1.00px 0 currentColor,-3.19px 1.00px 0 currentColor,-2.28px 1.00px 0 currentColor,-1.37px 1.00px 0 currentColor,-0.46px 1.00px 0 currentColor,0.46px 1.00px 0 currentColor,1.37px 1.00px 0 currentColor,2.28px 1.00px 0 currentColor,3.19px 1.00px 0 currentColor,4.11px 1.00px 0 currentColor,5.02px 1.00px 0 currentColor,5.93px 1.00px 0 currentColor,6.85px 1.00px 0 currentColor;">E</div>
<div class="t title" style="left:110.30px;top:344.43px;font-size:126.02px;font-weight:bold;color:#e96f4f;transform:scaleX(0.6796);text-shadow:-4.83px 0.00px 0 currentColor,-3.95px 0.00px 0 currentColor,-3.07px 0.00px 0 currentColor,-2.20px 0.00px 0 currentColor,-1.32px 0.00px 0 currentColor,-0.44px 0.00px 0 currentColor,0.44px 0.00px 0 currentColor,1.32px 0.00px 0 currentColor,2.20px 0.00px 0 currentColor,3.07px 0.00px 0 currentColor,3.95px 0.00px 0 currentColor,4.83px 0.00px 0 currentColor,-4.83px 1.00px 0 currentColor,-3.95px 1.00px 0 currentColor,-3.07px 1.00px 0 currentColor,-2.20px 1.00px 0 currentColor,-1.32px 1.00px 0 currentColor,-0.44px 1.00px 0 currentColor,0.44px 1.00px 0 currentColor,1.32px 1.00px 0 currentColor,2.20px 1.00px 0 currentColor,3.07px 1.00px 0 currentColor,3.95px 1.00px 0 currentColor,4.83px 1.00px 0 currentColor;">S</div>
<div class="t title" style="left:178.90px;top:344.43px;font-size:126.02px;font-weight:bold;color:#e96f4f;transform:scaleX(0.7005);text-shadow:-4.32px 0.00px 0 currentColor,-3.46px 0.00px 0 currentColor,-2.59px 0.00px 0 currentColor,-1.73px 0.00px 0 currentColor,-0.86px 0.00px 0 currentColor,0.86px 0.00px 0 currentColor,1.73px 0.00px 0 currentColor,2.59px 0.00px 0 currentColor,3.46px 0.00px 0 currentColor,4.32px 0.00px 0 currentColor,-4.32px 1.00px 0 currentColor,-3.46px 1.00px 0 currentColor,-2.59px 1.00px 0 currentColor,-1.73px 1.00px 0 currentColor,-0.86px 1.00px 0 currentColor,0.00px 1.00px 0 currentColor,0.86px 1.00px 0 currentColor,1.73px 1.00px 0 currentColor,2.59px 1.00px 0 currentColor,3.46px 1.00px 0 currentColor,4.32px 1.00px 0 currentColor;">I</div>
<div class="t title" style="left:211.33px;top:344.43px;font-size:126.02px;font-weight:bold;color:#e96f4f;transform:scaleX(0.7329);text-shadow:-3.85px 0.00px 0 currentColor,-2.99px 0.00px 0 currentColor,-2.14px 0.00px 0 currentColor,-1.28px 0.00px 0 currentColor,-0.43px 0.00px 0 currentColor,0.43px 0.00px 0 currentColor,1.28px 0.00px 0 currentColor,2.14px 0.00px 0 currentColor,2.99px 0.00px 0 currentColor,3.85px 0.00px 0 currentColor,-3.85px 1.00px 0 currentColor,-2.99px 1.00px 0 currentColor,-2.14px 1.00px 0 currentColor,-1.28px 1.00px 0 currentColor,-0.43px 1.00px 0 currentColor,0.43px 1.00px 0 currentColor,1.28px 1.00px 0 currentColor,2.14px 1.00px 0 currentColor,2.99px 1.00px 0 currentColor,3.85px 1.00px 0 currentColor;">Z</div>
<div class="t title" style="left:277.06px;top:344.43px;font-size:126.02px;font-weight:bold;color:#e96f4f;transform:scaleX(0.5924);text-shadow:-6.85px 0.00px 0 currentColor,-5.94px 0.00px 0 currentColor,-5.03px 0.00px 0 currentColor,-4.11px 0.00px 0 currentColor,-3.20px 0.00px 0 currentColor,-2.28px 0.00px 0 currentColor,-1.37px 0.00px 0 currentColor,-0.46px 0.00px 0 currentColor,0.46px 0.00px 0 currentColor,1.37px 0.00px 0 currentColor,2.28px 0.00px 0 currentColor,3.20px 0.00px 0 currentColor,4.11px 0.00px 0 currentColor,5.03px 0.00px 0 currentColor,5.94px 0.00px 0 currentColor,6.85px 0.00px 0 currentColor,-6.85px 1.00px 0 currentColor,-5.94px 1.00px 0 currentColor,-5.03px 1.00px 0 currentColor,-4.11px 1.00px 0 currentColor,-3.20px 1.00px 0 currentColor,-2.28px 1.00px 0 currentColor,-1.37px 1.00px 0 currentColor,-0.46px 1.00px 0 currentColor,0.46px 1.00px 0 currentColor,1.37px 1.00px 0 currentColor,2.28px 1.00px 0 currentColor,3.20px 1.00px 0 currentColor,4.11px 1.00px 0 currentColor,5.03px 1.00px 0 currentColor,5.94px 1.00px 0 currentColor,6.85px 1.00px 0 currentColor;">E</div>
<div class="t title" style="left:338.14px;top:344.43px;font-size:126.02px;font-weight:bold;color:#e96f4f;transform:scaleX(0.6808);text-shadow:-4.58px 0.00px 0 currentColor,-3.66px 0.00px 0 currentColor,-2.75px 0.00px 0 currentColor,-1.83px 0.00px 0 currentColor,-0.92px 0.00px 0 currentColor,0.92px 0.00px 0 currentColor,1.83px 0.00px 0 currentColor,2.75px 0.00px 0 currentColor,3.66px 0.00px 0 currentColor,4.58px 0.00px 0 currentColor,-4.58px 1.00px 0 currentColor,-3.66px 1.00px 0 currentColor,-2.75px 1.00px 0 currentColor,-1.83px 1.00px 0 currentColor,-0.92px 1.00px 0 currentColor,0.00px 1.00px 0 currentColor,0.92px 1.00px 0 currentColor,1.83px 1.00px 0 currentColor,2.75px 1.00px 0 currentColor,3.66px 1.00px 0 currentColor,4.58px 1.00px 0 currentColor;">S</div>
<div class="t foot" style="left:39.69px;top:1333.87px;font-size:27.33px;font-weight:normal;color:#f4f4f6;transform:scaleX(1.0002);">The coast redwood and giant sequoia genomes were sequenced by Save the Redwoods League, University of California, Davis, and Johns Hopkins University.</div>
<div class="t foot" style="left:38.32px;top:1371.11px;font-size:27.03px;font-weight:normal;color:#f4f4f6;transform:scaleX(1.0196);">Learn more at SaveTheRedwoods.org/RedwoodGenome.</div>
</div>
<div class="abs" style="left:262px;top:206.5px;width:58px;height:27px;background:#eff0f2;"></div>
<div class="abs" style="left:1085px;top:683.2px;width:40px;height:9px;background:#fff;"></div>
<svg width="2000" height="1429" viewBox="0 0 2000 1429" style="left:0;top:0;">
<g transform="translate(221.2,1180.7)" fill="#58595d" stroke="none">
<circle r="33.8" fill="none" stroke="#58595d" stroke-width="6.9"/>
<g transform="rotate(0.0)"><path d="M-2.7,-35 L-2.7,-41.5 C-2.9,-43.6 -6.9,-43.8 -6.9,-46.9 C-6.9,-49.6 -3.4,-50.3 0,-50.3 C3.4,-50.3 6.9,-49.6 6.9,-46.9 C6.9,-43.8 2.9,-43.6 2.7,-41.5 L2.7,-35Z"/></g>
<g transform="rotate(22.5)"><path d="M-2.7,-35 L-2.7,-41.5 C-2.9,-43.6 -6.9,-43.8 -6.9,-46.9 C-6.9,-49.6 -3.4,-50.3 0,-50.3 C3.4,-50.3 6.9,-49.6 6.9,-46.9 C6.9,-43.8 2.9,-43.6 2.7,-41.5 L2.7,-35Z"/></g>
<g transform="rotate(45.0)"><path d="M-2.7,-35 L-2.7,-41.5 C-2.9,-43.6 -6.9,-43.8 -6.9,-46.9 C-6.9,-49.6 -3.4,-50.3 0,-50.3 C3.4,-50.3 6.9,-49.6 6.9,-46.9 C6.9,-43.8 2.9,-43.6 2.7,-41.5 L2.7,-35Z"/></g>
<g transform="rotate(67.5)"><path d="M-2.7,-35 L-2.7,-41.5 C-2.9,-43.6 -6.9,-43.8 -6.9,-46.9 C-6.9,-49.6 -3.4,-50.3 0,-50.3 C3.4,-50.3 6.9,-49.6 6.9,-46.9 C6.9,-43.8 2.9,-43.6 2.7,-41.5 L2.7,-35Z"/></g>
<g transform="rotate(90.0)"><path d="M-2.7,-35 L-2.7,-41.5 C-2.9,-43.6 -6.9,-43.8 -6.9,-46.9 C-6.9,-49.6 -3.4,-50.3 0,-50.3 C3.4,-50.3 6.9,-49.6 6.9,-46.9 C6.9,-43.8 2.9,-43.6 2.7,-41.5 L2.7,-35Z"/></g>
<g transform="rotate(112.5)"><path d="M-2.7,-35 L-2.7,-41.5 C-2.9,-43.6 -6.9,-43.8 -6.9,-46.9 C-6.9,-49.6 -3.4,-50.3 0,-50.3 C3.4,-50.3 6.9,-49.6 6.9,-46.9 C6.9,-43.8 2.9,-43.6 2.7,-41.5 L2.7,-35Z"/></g>
<g transform="rotate(135.0)"><path d="M-2.7,-35 L-2.7,-41.5 C-2.9,-43.6 -6.9,-43.8 -6.9,-46.9 C-6.9,-49.6 -3.4,-50.3 0,-50.3 C3.4,-50.3 6.9,-49.6 6.9,-46.9 C6.9,-43.8 2.9,-43.6 2.7,-41.5 L2.7,-35Z"/></g>
<g transform="rotate(157.5)"><path d="M-2.7,-35 L-2.7,-41.5 C-2.9,-43.6 -6.9,-43.8 -6.9,-46.9 C-6.9,-49.6 -3.4,-50.3 0,-50.3 C3.4,-50.3 6.9,-49.6 6.9,-46.9 C6.9,-43.8 2.9,-43.6 2.7,-41.5 L2.7,-35Z"/></g>
<g transform="rotate(180.0)"><path d="M-2.7,-35 L-2.7,-41.5 C-2.9,-43.6 -6.9,-43.8 -6.9,-46.9 C-6.9,-49.6 -3.4,-50.3 0,-50.3 C3.4,-50.3 6.9,-49.6 6.9,-46.9 C6.9,-43.8 2.9,-43.6 2.7,-41.5 L2.7,-35Z"/></g>
<g transform="rotate(202.5)"><path d="M-2.7,-35 L-2.7,-41.5 C-2.9,-43.6 -6.9,-43.8 -6.9,-46.9 C-6.9,-49.6 -3.4,-50.3 0,-50.3 C3.4,-50.3 6.9,-49.6 6.9,-46.9 C6.9,-43.8 2.9,-43.6 2.7,-41.5 L2.7,-35Z"/></g>
<g transform="rotate(225.0)"><path d="M-2.7,-35 L-2.7,-41.5 C-2.9,-43.6 -6.9,-43.8 -6.9,-46.9 C-6.9,-49.6 -3.4,-50.3 0,-50.3 C3.4,-50.3 6.9,-49.6 6.9,-46.9 C6.9,-43.8 2.9,-43.6 2.7,-41.5 L2.7,-35Z"/></g>
<g transform="rotate(247.5)"><path d="M-2.7,-35 L-2.7,-41.5 C-2.9,-43.6 -6.9,-43.8 -6.9,-46.9 C-6.9,-49.6 -3.4,-50.3 0,-50.3 C3.4,-50.3 6.9,-49.6 6.9,-46.9 C6.9,-43.8 2.9,-43.6 2.7,-41.5 L2.7,-35Z"/></g>
<g transform="rotate(270.0)"><path d="M-2.7,-35 L-2.7,-41.5 C-2.9,-43.6 -6.9,-43.8 -6.9,-46.9 C-6.9,-49.6 -3.4,-50.3 0,-50.3 C3.4,-50.3 6.9,-49.6 6.9,-46.9 C6.9,-43.8 2.9,-43.6 2.7,-41.5 L2.7,-35Z"/></g>
<g transform="rotate(292.5)"><path d="M-2.7,-35 L-2.7,-41.5 C-2.9,-43.6 -6.9,-43.8 -6.9,-46.9 C-6.9,-49.6 -3.4,-50.3 0,-50.3 C3.4,-50.3 6.9,-49.6 6.9,-46.9 C6.9,-43.8 2.9,-43.6 2.7,-41.5 L2.7,-35Z"/></g>
<g transform="rotate(315.0)"><path d="M-2.7,-35 L-2.7,-41.5 C-2.9,-43.6 -6.9,-43.8 -6.9,-46.9 C-6.9,-49.6 -3.4,-50.3 0,-50.3 C3.4,-50.3 6.9,-49.6 6.9,-46.9 C6.9,-43.8 2.9,-43.6 2.7,-41.5 L2.7,-35Z"/></g>
<g transform="rotate(337.5)"><path d="M-2.7,-35 L-2.7,-41.5 C-2.9,-43.6 -6.9,-43.8 -6.9,-46.9 C-6.9,-49.6 -3.4,-50.3 0,-50.3 C3.4,-50.3 6.9,-49.6 6.9,-46.9 C6.9,-43.8 2.9,-43.6 2.7,-41.5 L2.7,-35Z"/></g>
<path d="M-18.6,-17.4 C-17.0,-17.2 -14.2,-18.5 -13.4,-16.6 C-12.6,-14.7 -14.8,-14.2 -15.8,-11.1 C-16.8,-8.0 -17.8,-9.2 -16.6,-6.3 C-15.4,-3.4 -13.3,-4.5 -11.9,-1.6 C-10.5,1.2 -11.9,1.8 -11.9,3.2" fill="none" stroke="#58595d" stroke-width="2.3" stroke-linecap="round" stroke-linejoin="round"/>
<path d="M-24.1,4.4 C-23.7,5.5 -25.1,6.6 -22.9,7.9 C-20.6,9.2 -19.2,7.0 -16.6,8.7 C-14.0,10.3 -15.2,10.3 -14.2,13.4 C-13.1,16.5 -15.2,17.8 -13.1,19.0 C-11.0,20.2 -8.9,17.9 -7.1,17.4" fill="none" stroke="#58595d" stroke-width="2.3" stroke-linecap="round" stroke-linejoin="round"/>
<path d="M-5.1,-7.1 C-3.8,-6.4 -1.1,-7.1 -0.8,-4.7 C-0.5,-2.3 -2.3,-2.3 -4.0,0.8 C-5.7,3.9 -7.0,2.6 -6.3,5.5 C-5.6,8.3 -2.4,7.6 -1.6,10.3 C-0.8,13.0 -3.0,13.3 -3.6,14.6" fill="none" stroke="#58595d" stroke-width="2.3" stroke-linecap="round" stroke-linejoin="round"/>
<path d="M2.0,-7.5 C3.3,-6.7 5.9,-7.2 6.3,-4.7 C6.7,-2.2 4.7,-2.3 3.2,0.8 C1.7,3.9 0.5,2.6 1.2,5.5 C1.9,8.3 4.7,7.6 5.5,10.3 C6.3,13.0 4.5,13.3 4.0,14.6" fill="none" stroke="#58595d" stroke-width="2.3" stroke-linecap="round" stroke-linejoin="round"/>
<path d="M18.6,-13.1 C19.3,-11.8 20.9,-10.6 21.0,-8.7 C21.1,-6.8 21.7,-7.5 19.0,-6.7 C16.3,-5.9 14.8,-7.0 11.9,-5.9 C9.1,-4.9 9.7,-5.5 9.5,-3.2 C9.3,-1.0 11.1,-0.9 11.1,1.6 C11.1,4.1 10.9,4.0 9.5,5.1 C8.1,6.1 7.3,5.1 6.3,5.1" fill="none" stroke="#58595d" stroke-width="2.3" stroke-linecap="round" stroke-linejoin="round"/>
<path d="M21.4,2.8 C20.4,3.0 19.3,2.1 18.2,3.6 C17.1,5.1 18.3,5.2 17.8,7.9 C17.3,10.6 18.6,10.7 16.6,12.7 C14.6,14.7 13.6,13.2 11.1,14.6 C8.6,16.0 8.2,15.2 8.3,17.4 C8.4,19.6 10.5,20.5 11.5,21.8" fill="none" stroke="#58595d" stroke-width="2.3" stroke-linecap="round" stroke-linejoin="round"/>
</g>
<path d="M521.6,1121.8 L522.9,1123.6 L524.7,1123.9 L525.4,1125.4 L527.4,1125.1 L528.7,1126.9 L529.8,1127.2 L531.4,1125.7 L533.0,1125.5 L534.6,1126.1 L536.2,1124.7 L537.6,1125.3 L539.2,1126.5 L539.9,1126.8 L541.0,1127.5 L542.6,1127.8 L542.6,1129.5 L543.9,1128.8 L544.3,1128.9 L546.3,1128.7 L548.2,1129.9 L549.3,1128.9 L550.9,1129.4 L552.2,1129.6 L553.4,1129.6 L555.2,1130.5 L555.7,1131.9 L556.5,1133.3 L557.4,1133.2 L558.0,1134.4 L559.0,1134.2 L559.9,1136.1 L561.0,1137.3 L562.3,1138.2 L563.9,1138.7 L564.5,1140.4 L566.6,1139.9 L567.7,1141.6 L569.8,1140.3 L571.2,1141.8 L572.9,1141.1 L573.6,1142.6 L574.2,1143.4 L576.5,1143.0 L577.8,1142.3 L579.7,1141.1 L580.1,1141.8 L581.0,1141.9 L582.2,1141.6 L582.2,1143.4 L582.4,1145.0 L584.2,1146.2 L586.1,1146.0 L586.2,1148.4 L588.0,1149.6 L589.5,1149.9 L591.7,1149.5 L593.4,1150.5 L595.6,1150.2 L596.3,1152.2 L597.4,1152.6 L599.7,1153.6 L599.4,1156.0 L600.5,1156.4 L601.7,1157.8 L600.8,1159.4 L601.5,1160.3 L601.5,1161.8 L599.8,1162.7 L600.4,1165.2 L600.9,1165.4 L600.5,1166.5 L600.5,1168.1 L602.1,1168.9 L604.2,1168.0 L605.3,1168.8 L607.4,1169.5 L608.0,1171.0 L609.4,1171.5 L609.2,1173.8 L607.3,1173.9 L606.0,1175.1 L605.0,1175.5 L604.9,1176.4 L605.0,1177.7 L606.0,1178.7 L607.9,1178.8 L609.2,1180.8 L608.7,1181.8 L609.4,1182.8 L610.6,1183.1 L612.8,1184.3 L612.7,1186.9 L613.7,1187.7 L613.8,1189.9 L612.6,1190.7 L610.8,1190.5 L610.7,1193.0 L609.3,1193.1 L607.3,1193.1 L609.6,1193.7 L608.5,1196.0 L610.2,1196.0 L611.0,1197.1 L610.7,1198.1 L610.6,1198.5 L609.1,1199.4 L607.4,1199.7 L606.7,1201.6 L606.2,1203.2 L605.0,1203.5 L603.4,1203.0 L603.6,1204.7 L605.3,1205.1 L604.6,1207.2 L605.3,1207.4 L605.8,1208.3 L605.1,1208.4 L603.1,1208.9 L601.4,1207.4 L599.8,1208.7 L598.0,1209.3 L596.5,1209.0 L594.5,1209.5 L594.7,1210.5 L593.5,1211.5 L593.6,1212.7 L592.8,1213.9 L591.6,1214.6 L592.6,1216.7 L590.8,1215.2 L589.3,1214.7 L587.1,1214.9 L586.2,1215.3 L584.9,1215.8 L582.8,1214.5 L582.1,1216.1 L580.0,1215.4 L579.1,1216.5 L576.9,1215.6 L575.2,1215.1 L574.1,1216.1 L571.6,1216.3 L570.2,1215.3 L568.4,1213.7 L567.6,1213.8 L566.4,1212.6 L565.3,1213.4 L563.8,1214.2 L562.4,1214.7 L561.4,1216.5 L560.7,1216.0 L559.7,1216.5 L559.5,1217.7 L557.7,1217.9 L557.6,1215.9 L556.0,1216.4 L555.2,1215.2 L554.4,1216.3 L553.2,1216.9 L551.8,1216.8 L550.8,1218.5 L548.5,1218.4 L547.5,1218.4 L546.0,1218.7 L544.3,1220.3 L543.3,1220.0 L542.7,1221.1 L542.2,1222.3 L540.5,1224.9 L539.3,1229.9 L539.0,1234.9 L539.6,1238.9 L540.5,1242.1 L542.6,1245.3 L544.8,1247.8 L539.0,1246.4 L533.3,1246.4 L527.5,1247.1 L521.8,1248.1 L524.4,1245.0 L526.1,1242.1 L528.0,1237.8 L529.0,1233.5 L528.4,1229.2 L527.5,1224.9 L525.0,1222.3 L521.6,1220.7 L520.1,1220.8 L519.0,1220.1 L518.9,1218.8 L517.0,1218.4 L516.1,1216.9 L514.5,1218.2 L513.1,1218.1 L512.6,1219.8 L510.7,1220.0 L510.2,1221.5 L508.5,1221.1 L507.5,1222.0 L504.3,1223.5 L501.7,1223.5 L502.5,1220.5 L502.0,1219.5 L504.1,1218.8 L503.0,1217.7 L501.8,1217.1 L500.7,1215.6 L498.7,1216.6 L497.4,1215.7 L496.1,1215.0 L494.6,1214.2 L493.5,1215.6 L492.4,1216.3 L490.3,1216.7 L489.8,1217.2 L488.6,1216.2 L487.7,1216.4 L485.8,1216.2 L484.8,1215.0 L483.4,1215.0 L481.7,1214.5 L481.5,1212.6 L479.8,1211.7 L479.1,1211.4 L477.9,1211.6 L476.7,1212.1 L475.7,1210.5 L474.3,1210.9 L473.2,1210.5 L471.7,1211.1 L470.0,1210.9 L468.7,1212.0 L467.3,1212.2 L465.9,1210.8 L464.7,1212.5 L465.7,1211.4 L465.0,1209.9 L465.9,1209.7 L466.5,1208.2 L465.2,1207.2 L465.3,1206.2 L464.1,1206.7 L463.0,1205.5 L461.2,1204.8 L461.1,1203.3 L460.4,1202.0 L458.2,1202.2 L459.5,1201.1 L459.2,1199.7 L461.0,1199.7 L459.8,1198.0 L461.9,1197.3 L460.7,1196.2 L460.0,1194.6 L458.7,1194.0 L456.5,1193.9 L455.8,1193.2 L454.6,1192.3 L453.2,1190.9 L454.5,1189.7 L453.8,1187.7 L455.3,1186.4 L454.0,1185.0 L454.9,1183.4 L455.3,1181.9 L456.1,1180.2 L458.4,1181.9 L459.8,1180.8 L460.0,1178.4 L461.5,1178.1 L462.3,1177.9 L462.2,1176.2 L462.1,1174.8 L462.6,1173.8 L463.6,1172.0 L463.0,1170.3 L463.2,1169.5 L465.1,1168.1 L466.9,1167.8 L467.4,1165.7 L469.4,1165.5 L470.4,1164.3 L471.0,1163.8 L473.1,1163.1 L474.8,1163.6 L475.6,1163.0 L477.0,1160.8 L479.3,1161.9 L480.1,1160.1 L479.7,1158.9 L480.3,1157.1 L478.4,1155.5 L478.7,1154.6 L478.3,1153.2 L478.2,1151.2 L478.3,1150.1 L479.4,1149.4 L480.2,1148.3 L481.7,1148.0 L482.0,1146.6 L483.1,1145.5 L484.5,1145.4 L485.9,1144.8 L487.0,1145.0 L488.9,1145.7 L490.3,1145.2 L491.2,1144.5 L493.2,1144.1 L492.8,1142.0 L494.7,1141.3 L495.2,1140.4 L496.9,1140.4 L497.3,1138.8 L499.1,1139.0 L500.8,1139.9 L502.2,1139.0 L504.2,1138.5 L505.9,1138.2 L507.3,1137.2 L507.6,1135.3 L509.0,1134.3 L510.0,1133.7 L511.5,1131.8 L512.9,1130.8 L514.0,1130.7 L515.8,1130.7 L516.8,1130.3 L517.5,1129.1 L518.2,1128.3 L519.5,1128.1 L519.9,1127.3 L520.2,1125.5 L522.5,1124.4Z" fill="#58595d"/>
<g fill="#58595d"><ellipse cx="616.5" cy="1191.9" rx="1.29" ry="0.57"/><ellipse cx="607.2" cy="1170.4" rx="1.43" ry="0.57"/><ellipse cx="458.1" cy="1206.2" rx="1.15" ry="0.57"/><ellipse cx="559.8" cy="1219.9" rx="1.43" ry="0.57"/><ellipse cx="554.8" cy="1218.4" rx="1.15" ry="0.57"/><ellipse cx="596.4" cy="1214.1" rx="1.29" ry="0.57"/><ellipse cx="490.2" cy="1219.9" rx="1.15" ry="0.57"/><ellipse cx="475.9" cy="1157.5" rx="1.00" ry="0.57"/><ellipse cx="521.8" cy="1120.9" rx="0.86" ry="0.86"/></g>
<g fill="#eff0f2" opacity="0.9"><ellipse cx="510.6" cy="1181.1" rx="3.44" ry="4.59" transform="rotate(20 510.6 1181.1)"/><ellipse cx="514.9" cy="1185.4" rx="2.15" ry="3.44" transform="rotate(-30 514.9 1185.4)"/><ellipse cx="523.5" cy="1183.6" rx="1.86" ry="2.73" transform="rotate(40 523.5 1183.6)"/><ellipse cx="517.5" cy="1164.6" rx="1.43" ry="2.44" transform="rotate(30 517.5 1164.6)"/><ellipse cx="492.4" cy="1186.2" rx="2.44" ry="1.29" transform="rotate(20 492.4 1186.2)"/><ellipse cx="500.3" cy="1198.3" rx="2.87" ry="1.43" transform="rotate(25 500.3 1198.3)"/><ellipse cx="510.3" cy="1199.1" rx="1.29" ry="2.44" transform="rotate(-20 510.3 1199.1)"/><ellipse cx="518.9" cy="1199.8" rx="1.15" ry="2.15" transform="rotate(10 518.9 1199.8)"/><ellipse cx="540.7" cy="1197.6" rx="1.43" ry="3.44" transform="rotate(20 540.7 1197.6)"/><ellipse cx="547.6" cy="1194.8" rx="1.00" ry="2.44" transform="rotate(15 547.6 1194.8)"/><ellipse cx="549.1" cy="1210.5" rx="1.15" ry="4.02" transform="rotate(40 549.1 1210.5)"/><ellipse cx="536.9" cy="1190.5" rx="1.00" ry="2.15" transform="rotate(30 536.9 1190.5)"/><ellipse cx="556.2" cy="1179.0" rx="1.15" ry="2.44" transform="rotate(35 556.2 1179.0)"/><ellipse cx="561.3" cy="1190.5" rx="2.15" ry="1.00" transform="rotate(-25 561.3 1190.5)"/><ellipse cx="573.5" cy="1184.7" rx="3.44" ry="1.00" transform="rotate(-25 573.5 1184.7)"/><ellipse cx="579.2" cy="1190.5" rx="3.16" ry="1.00" transform="rotate(-20 579.2 1190.5)"/><ellipse cx="585.6" cy="1179.0" rx="3.16" ry="1.29" transform="rotate(-15 585.6 1179.0)"/><ellipse cx="587.8" cy="1166.1" rx="1.86" ry="1.15" transform="rotate(-10 587.8 1166.1)"/><ellipse cx="582.1" cy="1158.9" rx="1.29" ry="1.86" transform="rotate(20 582.1 1158.9)"/><ellipse cx="586.4" cy="1171.8" rx="1.58" ry="1.00" transform="rotate(0 586.4 1171.8)"/><ellipse cx="562.7" cy="1148.9" rx="1.58" ry="1.15" transform="rotate(20 562.7 1148.9)"/><ellipse cx="524.7" cy="1147.4" rx="1.43" ry="1.86" transform="rotate(-30 524.7 1147.4)"/><ellipse cx="501.7" cy="1148.9" rx="1.29" ry="1.15" transform="rotate(0 501.7 1148.9)"/><ellipse cx="500.3" cy="1154.6" rx="1.15" ry="1.58" transform="rotate(30 500.3 1154.6)"/><ellipse cx="551.2" cy="1159.6" rx="1.58" ry="1.86" transform="rotate(0 551.2 1159.6)"/><ellipse cx="543.3" cy="1157.5" rx="1.00" ry="1.29" transform="rotate(0 543.3 1157.5)"/><ellipse cx="475.9" cy="1174.0" rx="1.58" ry="2.15" transform="rotate(20 475.9 1174.0)"/><ellipse cx="469.4" cy="1174.7" rx="1.00" ry="1.58" transform="rotate(10 469.4 1174.7)"/><ellipse cx="599.3" cy="1174.7" rx="1.86" ry="1.15" transform="rotate(-30 599.3 1174.7)"/><ellipse cx="597.8" cy="1191.9" rx="1.29" ry="1.86" transform="rotate(20 597.8 1191.9)"/><ellipse cx="592.8" cy="1197.6" rx="1.15" ry="1.86" transform="rotate(30 592.8 1197.6)"/><ellipse cx="530.4" cy="1173.2" rx="1.29" ry="2.15" transform="rotate(35 530.4 1173.2)"/><ellipse cx="534.0" cy="1171.8" rx="0.86" ry="1.58" transform="rotate(30 534.0 1171.8)"/><ellipse cx="567.7" cy="1203.4" rx="1.58" ry="1.00" transform="rotate(-20 567.7 1203.4)"/><ellipse cx="560.5" cy="1207.7" rx="1.86" ry="1.00" transform="rotate(-25 560.5 1207.7)"/><ellipse cx="587.8" cy="1206.2" rx="1.43" ry="0.86" transform="rotate(-10 587.8 1206.2)"/><ellipse cx="515.5" cy="1170.2" rx="0.90" ry="0.45" transform="rotate(1 515.5 1170.2)"/><ellipse cx="503.4" cy="1148.4" rx="0.92" ry="0.68" transform="rotate(19 503.4 1148.4)"/><ellipse cx="567.8" cy="1206.8" rx="0.81" ry="0.50" transform="rotate(58 567.8 1206.8)"/><ellipse cx="479.2" cy="1192.8" rx="1.01" ry="0.38" transform="rotate(40 479.2 1192.8)"/><ellipse cx="595.3" cy="1184.0" rx="1.08" ry="0.71" transform="rotate(-43 595.3 1184.0)"/><ellipse cx="537.7" cy="1172.9" rx="1.16" ry="0.70" transform="rotate(39 537.7 1172.9)"/><ellipse cx="547.1" cy="1208.0" rx="1.04" ry="0.66" transform="rotate(-32 547.1 1208.0)"/><ellipse cx="512.2" cy="1136.8" rx="0.94" ry="0.63" transform="rotate(15 512.2 1136.8)"/><ellipse cx="562.3" cy="1171.6" rx="0.50" ry="0.70" transform="rotate(30 562.3 1171.6)"/><ellipse cx="534.5" cy="1175.7" rx="1.02" ry="0.39" transform="rotate(28 534.5 1175.7)"/><ellipse cx="497.3" cy="1193.3" rx="0.66" ry="0.68" transform="rotate(57 497.3 1193.3)"/><ellipse cx="533.1" cy="1161.9" rx="1.04" ry="0.69" transform="rotate(14 533.1 1161.9)"/><ellipse cx="572.0" cy="1154.9" rx="0.51" ry="0.38" transform="rotate(-28 572.0 1154.9)"/><ellipse cx="560.9" cy="1189.9" rx="1.04" ry="0.48" transform="rotate(2 560.9 1189.9)"/><ellipse cx="528.5" cy="1169.5" rx="0.60" ry="0.74" transform="rotate(-36 528.5 1169.5)"/><ellipse cx="546.7" cy="1140.1" rx="1.25" ry="0.42" transform="rotate(38 546.7 1140.1)"/><ellipse cx="535.4" cy="1207.5" rx="1.06" ry="0.46" transform="rotate(48 535.4 1207.5)"/><ellipse cx="532.7" cy="1168.1" rx="0.74" ry="0.42" transform="rotate(-19 532.7 1168.1)"/><ellipse cx="505.2" cy="1203.3" rx="0.50" ry="0.68" transform="rotate(41 505.2 1203.3)"/><ellipse cx="567.3" cy="1208.8" rx="0.73" ry="0.52" transform="rotate(-13 567.3 1208.8)"/><ellipse cx="586.3" cy="1153.2" rx="0.70" ry="0.47" transform="rotate(1 586.3 1153.2)"/><ellipse cx="485.5" cy="1161.1" rx="1.20" ry="0.71" transform="rotate(16 485.5 1161.1)"/><ellipse cx="541.7" cy="1192.4" rx="0.54" ry="0.67" transform="rotate(-6 541.7 1192.4)"/><ellipse cx="573.5" cy="1185.6" rx="0.73" ry="0.38" transform="rotate(51 573.5 1185.6)"/><ellipse cx="475.7" cy="1170.0" rx="0.77" ry="0.49" transform="rotate(29 475.7 1170.0)"/><ellipse cx="558.4" cy="1154.5" rx="0.81" ry="0.43" transform="rotate(-41 558.4 1154.5)"/><ellipse cx="488.3" cy="1209.2" rx="0.89" ry="0.45" transform="rotate(49 488.3 1209.2)"/><ellipse cx="496.2" cy="1178.8" rx="1.20" ry="0.68" transform="rotate(-10 496.2 1178.8)"/><ellipse cx="520.5" cy="1174.7" rx="0.80" ry="0.50" transform="rotate(-53 520.5 1174.7)"/><ellipse cx="475.5" cy="1172.8" rx="1.00" ry="0.73" transform="rotate(-34 475.5 1172.8)"/><ellipse cx="525.5" cy="1213.6" rx="1.17" ry="0.73" transform="rotate(-57 525.5 1213.6)"/><ellipse cx="460.9" cy="1191.5" rx="1.21" ry="0.56" transform="rotate(10 460.9 1191.5)"/><ellipse cx="600.7" cy="1202.0" rx="1.18" ry="0.78" transform="rotate(-30 600.7 1202.0)"/><ellipse cx="537.5" cy="1189.0" rx="1.24" ry="0.67" transform="rotate(18 537.5 1189.0)"/><ellipse cx="575.4" cy="1168.7" rx="0.94" ry="0.38" transform="rotate(34 575.4 1168.7)"/><ellipse cx="492.2" cy="1210.5" rx="1.01" ry="0.49" transform="rotate(-45 492.2 1210.5)"/><ellipse cx="495.2" cy="1184.8" rx="1.05" ry="0.41" transform="rotate(-52 495.2 1184.8)"/><ellipse cx="537.8" cy="1180.0" rx="0.81" ry="0.45" transform="rotate(12 537.8 1180.0)"/><ellipse cx="527.9" cy="1214.0" rx="1.01" ry="0.74" transform="rotate(-3 527.9 1214.0)"/><ellipse cx="492.5" cy="1149.7" rx="1.06" ry="0.49" transform="rotate(-57 492.5 1149.7)"/><ellipse cx="533.7" cy="1188.3" rx="0.83" ry="0.47" transform="rotate(20 533.7 1188.3)"/><ellipse cx="521.6" cy="1189.0" rx="0.66" ry="0.70" transform="rotate(29 521.6 1189.0)"/><ellipse cx="534.8" cy="1145.9" rx="0.75" ry="0.71" transform="rotate(-32 534.8 1145.9)"/><ellipse cx="490.4" cy="1196.1" rx="0.73" ry="0.77" transform="rotate(-1 490.4 1196.1)"/><ellipse cx="559.8" cy="1213.1" rx="0.62" ry="0.53" transform="rotate(-34 559.8 1213.1)"/><ellipse cx="517.3" cy="1208.5" rx="1.20" ry="0.67" transform="rotate(60 517.3 1208.5)"/><ellipse cx="484.8" cy="1211.9" rx="1.09" ry="0.37" transform="rotate(20 484.8 1211.9)"/><ellipse cx="499.6" cy="1159.1" rx="0.60" ry="0.77" transform="rotate(-35 499.6 1159.1)"/><ellipse cx="511.6" cy="1201.6" rx="1.15" ry="0.54" transform="rotate(-54 511.6 1201.6)"/><ellipse cx="529.9" cy="1161.0" rx="0.65" ry="0.52" transform="rotate(48 529.9 1161.0)"/><ellipse cx="582.8" cy="1196.6" rx="0.53" ry="0.37" transform="rotate(-52 582.8 1196.6)"/><ellipse cx="572.7" cy="1208.5" rx="0.77" ry="0.48" transform="rotate(55 572.7 1208.5)"/><ellipse cx="552.3" cy="1151.0" rx="0.75" ry="0.48" transform="rotate(-60 552.3 1151.0)"/><ellipse cx="574.0" cy="1210.2" rx="1.00" ry="0.76" transform="rotate(-57 574.0 1210.2)"/><ellipse cx="492.4" cy="1170.3" rx="1.26" ry="0.77" transform="rotate(-14 492.4 1170.3)"/><ellipse cx="495.1" cy="1166.2" rx="0.89" ry="0.76" transform="rotate(-38 495.1 1166.2)"/><ellipse cx="581.3" cy="1194.1" rx="1.15" ry="0.69" transform="rotate(13 581.3 1194.1)"/><ellipse cx="486.7" cy="1195.4" rx="0.70" ry="0.39" transform="rotate(-56 486.7 1195.4)"/><ellipse cx="542.2" cy="1156.8" rx="1.20" ry="0.78" transform="rotate(-28 542.2 1156.8)"/><ellipse cx="533.8" cy="1191.5" rx="0.85" ry="0.46" transform="rotate(-10 533.8 1191.5)"/><ellipse cx="552.8" cy="1188.3" rx="1.09" ry="0.72" transform="rotate(20 552.8 1188.3)"/><ellipse cx="474.8" cy="1203.3" rx="0.73" ry="0.60" transform="rotate(-15 474.8 1203.3)"/><ellipse cx="594.1" cy="1179.6" rx="0.76" ry="0.53" transform="rotate(59 594.1 1179.6)"/><ellipse cx="535.1" cy="1148.2" rx="1.02" ry="0.79" transform="rotate(-48 535.1 1148.2)"/><ellipse cx="530.1" cy="1201.4" rx="1.17" ry="0.75" transform="rotate(-55 530.1 1201.4)"/><ellipse cx="547.0" cy="1211.4" rx="0.80" ry="0.73" transform="rotate(-6 547.0 1211.4)"/><ellipse cx="496.5" cy="1197.6" rx="1.25" ry="0.40" transform="rotate(12 496.5 1197.6)"/><ellipse cx="495.7" cy="1181.5" rx="1.02" ry="0.45" transform="rotate(-59 495.7 1181.5)"/><ellipse cx="507.0" cy="1188.6" rx="0.65" ry="0.49" transform="rotate(-36 507.0 1188.6)"/><ellipse cx="580.2" cy="1176.9" rx="0.55" ry="0.40" transform="rotate(-13 580.2 1176.9)"/><ellipse cx="541.8" cy="1185.1" rx="0.57" ry="0.43" transform="rotate(23 541.8 1185.1)"/><ellipse cx="512.7" cy="1145.2" rx="0.66" ry="0.36" transform="rotate(48 512.7 1145.2)"/><ellipse cx="522.1" cy="1201.5" rx="0.82" ry="0.74" transform="rotate(-5 522.1 1201.5)"/><ellipse cx="542.1" cy="1185.2" rx="1.22" ry="0.40" transform="rotate(15 542.1 1185.2)"/><ellipse cx="513.8" cy="1172.9" rx="0.62" ry="0.48" transform="rotate(3 513.8 1172.9)"/><ellipse cx="532.5" cy="1200.1" rx="1.26" ry="0.44" transform="rotate(-45 532.5 1200.1)"/><ellipse cx="531.3" cy="1132.2" rx="0.81" ry="0.75" transform="rotate(14 531.3 1132.2)"/><ellipse cx="588.2" cy="1202.3" rx="0.65" ry="0.45" transform="rotate(-12 588.2 1202.3)"/><ellipse cx="494.5" cy="1192.8" rx="1.21" ry="0.38" transform="rotate(7 494.5 1192.8)"/><ellipse cx="549.6" cy="1177.0" rx="1.00" ry="0.49" transform="rotate(-10 549.6 1177.0)"/><ellipse cx="546.9" cy="1165.8" rx="0.85" ry="0.55" transform="rotate(-57 546.9 1165.8)"/><ellipse cx="552.6" cy="1171.6" rx="0.69" ry="0.69" transform="rotate(34 552.6 1171.6)"/><ellipse cx="527.5" cy="1143.6" rx="0.59" ry="0.41" transform="rotate(-8 527.5 1143.6)"/><ellipse cx="470.2" cy="1167.3" rx="0.90" ry="0.38" transform="rotate(16 470.2 1167.3)"/><ellipse cx="468.7" cy="1193.6" rx="1.12" ry="0.58" transform="rotate(-53 468.7 1193.6)"/><ellipse cx="534.6" cy="1161.5" rx="0.61" ry="0.73" transform="rotate(60 534.6 1161.5)"/><ellipse cx="570.3" cy="1201.0" rx="0.65" ry="0.78" transform="rotate(-1 570.3 1201.0)"/><ellipse cx="481.6" cy="1198.6" rx="1.24" ry="0.39" transform="rotate(-18 481.6 1198.6)"/><ellipse cx="534.3" cy="1210.5" rx="0.67" ry="0.47" transform="rotate(1 534.3 1210.5)"/><ellipse cx="602.2" cy="1188.8" rx="1.21" ry="0.43" transform="rotate(34 602.2 1188.8)"/><ellipse cx="473.8" cy="1175.3" rx="1.00" ry="0.51" transform="rotate(45 473.8 1175.3)"/><ellipse cx="542.6" cy="1179.8" rx="1.20" ry="0.40" transform="rotate(59 542.6 1179.8)"/><ellipse cx="554.3" cy="1163.0" rx="0.71" ry="0.78" transform="rotate(9 554.3 1163.0)"/><ellipse cx="512.2" cy="1196.4" rx="0.85" ry="0.43" transform="rotate(29 512.2 1196.4)"/><ellipse cx="463.4" cy="1201.4" rx="0.70" ry="0.63" transform="rotate(58 463.4 1201.4)"/><ellipse cx="547.4" cy="1187.3" rx="0.75" ry="0.36" transform="rotate(-56 547.4 1187.3)"/><ellipse cx="479.2" cy="1183.0" rx="0.84" ry="0.58" transform="rotate(47 479.2 1183.0)"/><ellipse cx="490.9" cy="1180.1" rx="0.97" ry="0.45" transform="rotate(15 490.9 1180.1)"/><ellipse cx="530.1" cy="1139.5" rx="0.69" ry="0.42" transform="rotate(-49 530.1 1139.5)"/><ellipse cx="555.6" cy="1206.1" rx="1.12" ry="0.53" transform="rotate(-28 555.6 1206.1)"/><ellipse cx="457.6" cy="1185.6" rx="0.95" ry="0.51" transform="rotate(17 457.6 1185.6)"/><ellipse cx="525.2" cy="1212.0" rx="1.08" ry="0.47" transform="rotate(48 525.2 1212.0)"/><ellipse cx="542.0" cy="1212.4" rx="0.61" ry="0.44" transform="rotate(13 542.0 1212.4)"/><ellipse cx="535.1" cy="1185.3" rx="1.14" ry="0.43" transform="rotate(-23 535.1 1185.3)"/><ellipse cx="594.9" cy="1198.1" rx="1.07" ry="0.36" transform="rotate(41 594.9 1198.1)"/><ellipse cx="572.3" cy="1169.4" rx="1.09" ry="0.55" transform="rotate(-33 572.3 1169.4)"/><ellipse cx="573.0" cy="1190.2" rx="1.17" ry="0.66" transform="rotate(-28 573.0 1190.2)"/><ellipse cx="542.4" cy="1166.7" rx="1.12" ry="0.58" transform="rotate(-28 542.4 1166.7)"/><ellipse cx="489.8" cy="1206.9" rx="0.51" ry="0.47" transform="rotate(-32 489.8 1206.9)"/><ellipse cx="572.1" cy="1212.7" rx="1.09" ry="0.50" transform="rotate(46 572.1 1212.7)"/><ellipse cx="507.2" cy="1149.0" rx="1.00" ry="0.66" transform="rotate(20 507.2 1149.0)"/><ellipse cx="587.1" cy="1190.4" rx="1.18" ry="0.55" transform="rotate(27 587.1 1190.4)"/><ellipse cx="553.2" cy="1134.4" rx="0.62" ry="0.37" transform="rotate(-47 553.2 1134.4)"/><ellipse cx="462.3" cy="1189.9" rx="1.00" ry="0.66" transform="rotate(28 462.3 1189.9)"/><ellipse cx="466.1" cy="1180.7" rx="0.79" ry="0.71" transform="rotate(38 466.1 1180.7)"/><ellipse cx="591.5" cy="1210.0" rx="1.25" ry="0.40" transform="rotate(-35 591.5 1210.0)"/><ellipse cx="588.4" cy="1200.7" rx="1.00" ry="0.71" transform="rotate(16 588.4 1200.7)"/><ellipse cx="471.1" cy="1195.8" rx="0.66" ry="0.50" transform="rotate(-9 471.1 1195.8)"/><ellipse cx="500.0" cy="1192.0" rx="0.79" ry="0.50" transform="rotate(56 500.0 1192.0)"/><ellipse cx="534.6" cy="1204.3" rx="0.99" ry="0.37" transform="rotate(-10 534.6 1204.3)"/><ellipse cx="524.1" cy="1197.2" rx="0.78" ry="0.66" transform="rotate(5 524.1 1197.2)"/><ellipse cx="489.7" cy="1205.3" rx="0.57" ry="0.71" transform="rotate(-40 489.7 1205.3)"/><ellipse cx="532.7" cy="1199.3" rx="0.65" ry="0.57" transform="rotate(-18 532.7 1199.3)"/><ellipse cx="585.9" cy="1150.9" rx="0.73" ry="0.45" transform="rotate(24 585.9 1150.9)"/><ellipse cx="533.7" cy="1137.3" rx="0.57" ry="0.70" transform="rotate(24 533.7 1137.3)"/><ellipse cx="578.9" cy="1184.1" rx="0.78" ry="0.53" transform="rotate(-13 578.9 1184.1)"/><ellipse cx="488.1" cy="1151.1" rx="0.90" ry="0.52" transform="rotate(46 488.1 1151.1)"/><ellipse cx="492.3" cy="1169.0" rx="0.92" ry="0.68" transform="rotate(30 492.3 1169.0)"/><ellipse cx="480.1" cy="1203.5" rx="1.02" ry="0.68" transform="rotate(-40 480.1 1203.5)"/><ellipse cx="524.4" cy="1197.2" rx="0.96" ry="0.41" transform="rotate(-5 524.4 1197.2)"/><ellipse cx="485.8" cy="1154.6" rx="1.17" ry="0.43" transform="rotate(-41 485.8 1154.6)"/><ellipse cx="494.5" cy="1156.9" rx="0.63" ry="0.50" transform="rotate(-37 494.5 1156.9)"/><ellipse cx="570.5" cy="1166.6" rx="0.66" ry="0.63" transform="rotate(-47 570.5 1166.6)"/><ellipse cx="518.2" cy="1198.8" rx="1.05" ry="0.57" transform="rotate(16 518.2 1198.8)"/><ellipse cx="528.3" cy="1140.2" rx="0.82" ry="0.68" transform="rotate(49 528.3 1140.2)"/><ellipse cx="523.1" cy="1179.2" rx="1.09" ry="0.54" transform="rotate(-33 523.1 1179.2)"/><ellipse cx="568.7" cy="1206.9" rx="1.11" ry="0.66" transform="rotate(42 568.7 1206.9)"/><ellipse cx="562.1" cy="1185.3" rx="0.86" ry="0.49" transform="rotate(15 562.1 1185.3)"/><ellipse cx="578.2" cy="1191.8" rx="1.00" ry="0.47" transform="rotate(-9 578.2 1191.8)"/><ellipse cx="527.0" cy="1183.5" rx="0.83" ry="0.65" transform="rotate(52 527.0 1183.5)"/><ellipse cx="484.4" cy="1186.5" rx="1.12" ry="0.53" transform="rotate(-1 484.4 1186.5)"/><ellipse cx="540.8" cy="1141.9" rx="1.24" ry="0.58" transform="rotate(-48 540.8 1141.9)"/><ellipse cx="545.7" cy="1176.2" rx="1.07" ry="0.58" transform="rotate(17 545.7 1176.2)"/><ellipse cx="585.4" cy="1174.5" rx="0.83" ry="0.77" transform="rotate(-35 585.4 1174.5)"/><ellipse cx="562.8" cy="1162.8" rx="0.60" ry="0.78" transform="rotate(-17 562.8 1162.8)"/><ellipse cx="521.3" cy="1165.3" rx="0.78" ry="0.47" transform="rotate(-33 521.3 1165.3)"/><ellipse cx="571.8" cy="1212.3" rx="0.92" ry="0.45" transform="rotate(36 571.8 1212.3)"/><ellipse cx="577.3" cy="1200.5" rx="1.00" ry="0.56" transform="rotate(7 577.3 1200.5)"/><ellipse cx="491.2" cy="1214.4" rx="0.78" ry="0.63" transform="rotate(38 491.2 1214.4)"/><ellipse cx="583.4" cy="1169.6" rx="0.73" ry="0.59" transform="rotate(-45 583.4 1169.6)"/></g>
<path d="M847.8,1107.9 C850.0,1107.8 849.9,1108.0 851.8,1108.9 C853.6,1109.8 853.4,1109.7 854.7,1111.3 C856.0,1112.8 855.9,1112.6 856.6,1114.6 C857.3,1116.5 857.2,1116.6 857.4,1118.6 C857.6,1120.5 856.9,1120.2 857.4,1121.9 C857.9,1123.6 858.5,1123.3 859.2,1124.8 C859.9,1126.3 860.0,1126.1 860.0,1127.5 C860.0,1128.9 859.9,1128.9 859.2,1130.1 C858.5,1131.4 857.2,1131.2 857.4,1132.3 C857.5,1133.3 858.5,1133.1 859.8,1134.1 C861.0,1135.2 861.2,1134.7 862.1,1136.3 C863.1,1137.8 862.9,1137.6 863.3,1139.8 C863.8,1142.0 863.7,1141.8 863.7,1144.5 C863.8,1147.2 863.6,1147.0 863.6,1149.8 C863.6,1152.7 863.4,1151.9 863.7,1155.1 C864.1,1158.3 864.1,1157.9 864.8,1161.8 C865.5,1165.7 865.3,1165.9 866.4,1169.8 C867.5,1173.7 867.4,1173.0 868.8,1176.4 C870.1,1179.8 870.4,1179.9 871.5,1182.4 C872.5,1184.9 872.5,1184.0 872.6,1185.7 C872.8,1187.4 872.7,1187.5 872.0,1188.6 C871.2,1189.8 871.1,1189.7 869.9,1190.0 C868.7,1190.2 868.4,1190.6 867.5,1189.4 C866.5,1188.3 867.2,1187.9 866.4,1185.7 C865.6,1183.5 865.7,1184.1 864.5,1181.1 C863.3,1178.0 863.1,1177.8 861.9,1174.4 C860.7,1171.0 860.6,1167.9 860.2,1168.4 C859.7,1169.0 860.0,1171.8 860.2,1176.4 C860.3,1181.0 860.3,1180.4 860.6,1185.7 C860.8,1191.0 860.8,1191.0 861.1,1196.3 C861.4,1201.7 861.4,1202.0 861.6,1205.6 C861.8,1209.3 862.8,1208.4 861.9,1209.9 C861.0,1211.4 859.4,1209.2 858.2,1211.2 C856.9,1213.3 857.7,1213.8 857.1,1217.6 C856.5,1221.4 856.6,1221.3 855.8,1225.6 C854.9,1229.8 855.1,1229.3 853.9,1233.6 C852.7,1237.8 852.1,1238.2 851.1,1241.5 C850.1,1244.9 850.0,1243.4 850.2,1246.2 C850.4,1249.0 851.1,1249.1 851.8,1252.2 C852.5,1255.3 852.6,1255.4 852.8,1257.8 C853.1,1260.1 853.9,1259.8 852.6,1260.9 C851.3,1262.0 850.4,1261.9 848.1,1261.9 C845.7,1261.9 845.2,1262.8 843.8,1260.9 C842.5,1259.1 843.1,1258.1 843.0,1254.8 C842.9,1251.6 843.7,1252.0 843.3,1248.8 C842.8,1245.7 842.6,1246.9 841.4,1242.9 C840.2,1238.8 840.0,1238.9 838.8,1233.6 C837.5,1228.2 837.5,1228.9 836.6,1222.9 C835.7,1217.0 836.6,1214.9 835.3,1211.2 C834.0,1207.5 832.7,1211.7 831.8,1209.1 C831.0,1206.5 832.0,1205.4 832.1,1201.7 C832.2,1197.9 832.5,1198.7 832.4,1195.0 C832.2,1191.3 832.1,1188.8 831.6,1187.7 C831.0,1186.6 831.1,1189.3 830.2,1191.0 C829.4,1192.7 829.5,1193.5 828.4,1194.1 C827.3,1194.6 827.1,1194.4 826.0,1193.0 C824.9,1191.7 824.5,1191.2 824.3,1189.0 C824.0,1186.9 824.3,1187.0 824.9,1185.0 C825.5,1183.1 826.2,1184.4 826.5,1181.7 C826.9,1179.1 826.3,1179.0 826.3,1175.1 C826.3,1171.2 826.2,1171.4 826.5,1167.1 C826.9,1162.8 827.2,1163.4 827.6,1159.1 C827.9,1154.9 827.9,1155.4 827.9,1151.1 C827.9,1146.9 827.4,1146.5 827.6,1143.2 C827.8,1139.8 827.8,1140.5 828.7,1138.5 C829.5,1136.6 829.2,1137.0 830.8,1135.9 C832.3,1134.7 833.0,1134.9 834.5,1134.1 C836.0,1133.3 836.4,1133.7 836.4,1132.8 C836.3,1132.0 834.4,1131.9 834.2,1130.9 C834.1,1130.0 834.8,1130.1 835.8,1129.3 C836.8,1128.6 837.6,1129.5 838.0,1128.3 C838.3,1127.1 837.2,1126.6 837.2,1124.8 C837.2,1123.1 837.2,1123.3 838.0,1121.6 C838.7,1120.0 839.5,1120.3 839.8,1118.6 C840.1,1116.9 839.0,1117.0 839.2,1115.3 C839.3,1113.5 839.3,1113.5 840.5,1111.9 C841.7,1110.3 841.6,1110.3 843.5,1109.3 C845.5,1108.2 845.6,1108.1 847.8,1107.9Z" fill="#58595d"/>
<path d="M835.6,1152.2 C836.3,1150.8 836.5,1153.2 836.4,1156.5 C836.2,1159.7 836.0,1160.9 835.0,1164.4 C834.1,1168.0 833.3,1170.5 832.9,1169.8 C832.5,1169.0 833.0,1166.5 833.7,1161.8 C834.4,1157.1 834.9,1153.6 835.6,1152.2Z" fill="#eff0f2"/>
<path d="M845.4,1213.6 C845.9,1214.7 846.3,1217.4 846.5,1222.9 C846.6,1228.4 846.5,1233.2 846.1,1234.2 C845.6,1235.3 845.3,1231.0 844.9,1226.9 C844.5,1222.8 844.5,1222.5 844.6,1218.9 C844.7,1215.4 844.9,1212.6 845.4,1213.6Z" fill="#eff0f2"/>
<path d="M1718.4,1151.0 C1719.1,1151.1 1719.7,1151.7 1721.0,1152.6 C1722.3,1153.4 1722.5,1153.5 1724.0,1154.6 C1725.5,1155.8 1725.9,1156.0 1727.2,1157.4 C1728.5,1158.7 1728.7,1158.9 1729.8,1160.4 C1730.8,1161.9 1730.9,1162.0 1731.7,1163.6 C1732.4,1165.2 1732.4,1165.5 1733.0,1167.2 C1733.6,1168.9 1733.6,1169.2 1734.2,1170.8 C1734.9,1172.4 1734.8,1172.6 1735.6,1174.2 C1736.4,1175.7 1736.6,1176.1 1737.6,1177.6 C1738.6,1179.1 1738.8,1179.3 1740.0,1180.6 C1741.2,1181.8 1741.4,1182.0 1742.8,1183.0 C1744.2,1183.9 1744.4,1184.0 1746.0,1184.7 C1747.6,1185.4 1747.9,1185.5 1749.6,1185.8 C1751.3,1186.2 1751.4,1186.3 1753.2,1186.2 C1755.0,1186.2 1755.3,1186.0 1757.2,1185.6 C1759.1,1185.2 1759.2,1185.1 1761.2,1184.4 C1763.2,1183.7 1763.7,1183.5 1765.6,1182.8 C1767.5,1182.1 1768.2,1182.2 1769.4,1181.4 C1770.6,1180.5 1770.3,1180.3 1770.7,1179.2 C1771.1,1178.1 1771.2,1178.0 1771.2,1176.8 C1771.2,1175.6 1771.1,1175.2 1770.7,1174.0 C1770.3,1172.8 1769.4,1172.5 1769.4,1171.8 C1769.4,1171.1 1770.1,1171.0 1770.7,1171.0 C1771.4,1170.9 1771.6,1171.9 1772.2,1171.6 C1772.7,1171.3 1772.5,1170.6 1773.0,1169.8 C1773.4,1169.1 1773.5,1168.2 1773.9,1168.2 C1774.4,1168.2 1774.5,1169.1 1774.9,1169.8 C1775.3,1170.5 1775.1,1171.3 1775.5,1171.3 C1775.9,1171.3 1776.0,1170.4 1776.5,1169.8 C1776.9,1169.2 1777.1,1168.6 1777.4,1168.7 C1777.8,1168.9 1777.8,1169.7 1777.9,1170.5 C1778.1,1171.2 1777.7,1171.8 1778.1,1171.9 C1778.5,1172.1 1778.8,1171.4 1779.5,1171.1 C1780.2,1170.9 1780.8,1170.5 1781.0,1170.8 C1781.1,1171.1 1780.4,1171.7 1780.0,1172.4 C1779.6,1173.1 1779.1,1173.1 1779.2,1173.7 C1779.3,1174.2 1779.8,1174.3 1780.3,1174.8 C1780.8,1175.3 1781.4,1175.4 1781.3,1175.8 C1781.1,1176.1 1780.3,1176.0 1779.7,1176.2 C1779.1,1176.5 1779.1,1176.2 1778.7,1176.7 C1778.4,1177.2 1778.3,1177.7 1778.2,1178.5 C1778.2,1179.3 1777.6,1179.6 1778.4,1180.1 C1779.2,1180.6 1779.7,1180.6 1781.6,1180.7 C1783.5,1180.8 1784.2,1180.3 1786.4,1180.4 C1788.6,1180.5 1789.0,1180.7 1791.2,1181.2 C1793.4,1181.7 1793.8,1181.9 1796.0,1182.6 C1798.2,1183.4 1798.6,1183.7 1800.8,1184.6 C1803.0,1185.4 1803.3,1185.6 1805.6,1186.2 C1807.9,1186.7 1809.4,1187.2 1810.7,1187.0 C1812.1,1186.7 1811.5,1186.2 1811.4,1185.2 C1811.2,1184.2 1810.6,1183.9 1810.1,1182.8 C1809.5,1181.7 1809.1,1181.5 1809.0,1180.4 C1808.8,1179.3 1808.8,1178.9 1809.3,1178.0 C1809.7,1177.1 1809.9,1177.0 1810.9,1176.4 C1811.9,1175.8 1812.4,1175.7 1813.6,1175.6 C1814.8,1175.5 1815.2,1175.9 1816.2,1175.8 C1817.1,1175.6 1817.0,1175.4 1817.6,1175.0 C1818.2,1174.5 1818.3,1174.2 1818.9,1173.7 C1819.5,1173.2 1819.9,1172.6 1820.2,1172.7 C1820.4,1172.8 1819.9,1173.6 1820.0,1174.2 C1820.1,1174.8 1820.0,1174.9 1820.5,1175.3 C1821.0,1175.6 1821.5,1175.4 1822.2,1175.6 C1823.0,1175.8 1823.9,1175.7 1823.8,1176.1 C1823.8,1176.4 1822.8,1176.6 1822.1,1177.0 C1821.3,1177.5 1821.2,1177.4 1820.6,1178.0 C1820.1,1178.6 1820.1,1178.8 1819.7,1179.6 C1819.3,1180.4 1819.4,1180.5 1819.0,1181.4 C1818.7,1182.3 1817.9,1183.2 1818.2,1183.4 C1818.6,1183.7 1819.6,1183.0 1820.6,1182.4 C1821.7,1181.8 1821.8,1181.8 1822.7,1181.0 C1823.6,1180.2 1823.5,1179.9 1824.5,1179.0 C1825.4,1178.0 1825.6,1177.9 1826.7,1177.0 C1827.8,1176.2 1827.9,1176.0 1829.3,1175.4 C1830.6,1174.9 1830.9,1174.9 1832.5,1174.8 C1834.0,1174.7 1834.5,1174.7 1836.0,1175.0 C1837.5,1175.2 1837.9,1175.1 1838.9,1175.8 C1839.9,1176.4 1839.9,1176.6 1840.2,1177.7 C1840.4,1178.8 1840.1,1179.1 1840.0,1180.4 C1839.9,1181.7 1839.9,1181.8 1839.5,1183.1 C1839.2,1184.4 1839.1,1184.6 1838.6,1186.0 C1838.0,1187.4 1838.0,1187.7 1837.1,1189.0 C1836.3,1190.4 1836.0,1190.6 1834.9,1191.8 C1833.8,1192.9 1833.6,1193.1 1832.3,1194.0 C1831.1,1194.9 1830.7,1194.9 1829.6,1195.8 C1828.5,1196.7 1827.8,1196.8 1827.5,1197.8 C1827.2,1198.9 1827.7,1199.3 1828.3,1200.2 C1828.9,1201.2 1829.1,1201.4 1830.1,1202.0 C1831.0,1202.6 1831.4,1202.7 1832.3,1202.6 C1833.3,1202.6 1833.4,1202.1 1834.1,1201.7 C1834.8,1201.2 1835.0,1200.6 1835.4,1200.7 C1835.7,1200.8 1835.3,1201.4 1835.5,1202.0 C1835.7,1202.6 1835.8,1203.0 1836.3,1203.1 C1836.8,1203.3 1837.1,1202.8 1837.8,1202.6 C1838.4,1202.5 1838.9,1202.1 1839.0,1202.3 C1839.2,1202.6 1838.6,1203.1 1838.4,1203.8 C1838.2,1204.4 1837.9,1204.7 1838.2,1205.2 C1838.5,1205.7 1839.0,1205.6 1839.7,1206.0 C1840.3,1206.4 1841.1,1206.5 1841.0,1207.0 C1840.8,1207.4 1840.0,1207.5 1839.0,1207.9 C1838.0,1208.4 1837.9,1208.4 1836.6,1208.9 C1835.4,1209.3 1835.1,1209.5 1833.8,1209.8 C1832.5,1210.2 1832.2,1210.5 1831.0,1210.5 C1829.8,1210.4 1829.7,1210.2 1828.6,1209.7 C1827.6,1209.1 1827.4,1208.9 1826.6,1208.1 C1825.7,1207.2 1825.7,1207.0 1825.0,1206.0 C1824.3,1205.0 1824.3,1204.7 1823.5,1203.8 C1822.7,1202.9 1823.0,1202.3 1821.6,1202.2 C1820.2,1202.0 1819.5,1202.7 1817.6,1203.1 C1815.7,1203.5 1815.7,1203.3 1813.6,1203.8 C1811.5,1204.2 1811.0,1204.6 1808.8,1205.0 C1806.6,1205.5 1806.2,1205.6 1804.0,1205.8 C1801.8,1206.1 1801.4,1206.2 1799.2,1206.2 C1797.0,1206.1 1796.6,1206.0 1794.4,1205.5 C1792.2,1205.0 1791.7,1204.9 1789.6,1204.1 C1787.5,1203.3 1787.3,1203.1 1785.6,1202.2 C1783.9,1201.3 1783.9,1201.2 1782.4,1200.2 C1780.9,1199.3 1780.6,1198.3 1779.4,1198.2 C1778.1,1198.0 1777.6,1198.8 1777.1,1199.6 C1776.6,1200.4 1776.9,1200.8 1777.3,1201.5 C1777.6,1202.3 1777.9,1202.4 1778.6,1202.8 C1779.3,1203.2 1779.6,1203.0 1780.3,1203.1 C1781.1,1203.2 1781.7,1202.8 1781.8,1203.1 C1781.8,1203.4 1781.0,1203.8 1780.6,1204.4 C1780.3,1205.0 1779.9,1205.1 1780.2,1205.7 C1780.5,1206.2 1781.1,1206.3 1781.9,1206.8 C1782.7,1207.3 1783.7,1207.5 1783.7,1207.9 C1783.6,1208.3 1782.6,1208.3 1781.8,1208.6 C1780.9,1208.8 1780.5,1208.5 1780.2,1208.9 C1779.9,1209.3 1780.3,1209.6 1780.5,1210.3 C1780.6,1211.0 1781.1,1211.4 1780.8,1211.8 C1780.5,1212.1 1780.0,1211.8 1779.2,1211.9 C1778.4,1212.1 1778.1,1212.7 1777.3,1212.4 C1776.5,1212.1 1776.5,1211.7 1775.7,1210.8 C1774.9,1209.9 1774.7,1209.8 1773.9,1208.7 C1773.1,1207.6 1773.0,1207.4 1772.3,1206.2 C1771.7,1204.9 1771.6,1204.8 1771.2,1203.4 C1770.8,1202.1 1770.7,1201.9 1770.4,1200.4 C1770.1,1198.9 1770.1,1198.7 1769.8,1197.2 C1769.4,1195.7 1770.1,1194.9 1769.0,1194.0 C1767.8,1193.1 1766.7,1193.5 1764.8,1193.4 C1762.9,1193.2 1762.8,1193.2 1760.8,1193.2 C1758.8,1193.2 1758.5,1193.4 1756.4,1193.4 C1754.3,1193.4 1754.0,1193.4 1752.0,1193.2 C1750.0,1193.0 1749.8,1193.0 1748.0,1192.6 C1746.2,1192.1 1746.0,1192.1 1744.5,1191.4 C1742.9,1190.7 1742.7,1190.5 1741.4,1189.5 C1740.1,1188.5 1740.0,1188.5 1738.9,1187.3 C1737.7,1186.1 1737.5,1185.8 1736.5,1184.4 C1735.4,1183.0 1735.3,1182.8 1734.4,1181.2 C1733.5,1179.6 1733.5,1179.4 1732.8,1177.7 C1732.1,1176.0 1732.0,1175.6 1731.5,1173.8 C1731.0,1172.0 1731.0,1171.8 1730.6,1170.0 C1730.1,1168.2 1730.0,1167.7 1729.4,1166.0 C1728.8,1164.3 1728.8,1164.2 1728.0,1162.8 C1727.2,1161.4 1727.1,1161.3 1726.1,1160.1 C1725.1,1158.9 1725.0,1158.8 1723.8,1157.7 C1722.7,1156.6 1722.4,1156.3 1721.3,1155.3 C1720.2,1154.2 1719.9,1154.0 1719.2,1153.2 C1718.5,1152.4 1718.3,1152.3 1718.1,1151.8 C1717.9,1151.2 1717.7,1150.8 1718.4,1151.0Z" fill="#58595d"/>
<g opacity="0.8"><path d="M1161.2,1045.4 L1166.0,1045.4 L1167.1,1080.6 L1168.6,1128.8 L1170.1,1173.3 L1172.7,1210.4 L1174.9,1238.2 L1176.8,1260.5 L1177.5,1276.3 L1146.7,1276.3 L1148.6,1256.8 L1151.9,1229.0 L1154.9,1201.2 L1156.4,1173.3 L1158.2,1128.8 L1159.7,1080.6Z" fill="#505156"/><path d="M1177.6,1046.4 C1177.5,1047.5 1178.0,1047.4 1177.4,1048.2 C1176.8,1049.0 1176.3,1048.3 1175.7,1049.1 C1175.1,1049.9 1175.6,1049.8 1175.3,1050.8 C1175.0,1051.8 1175.3,1051.8 1174.7,1052.4 C1174.0,1053.0 1174.0,1052.6 1173.2,1052.8 C1172.3,1053.0 1172.6,1052.7 1171.9,1053.2 C1171.2,1053.6 1171.5,1053.7 1170.8,1054.3 C1170.0,1055.0 1170.2,1055.4 1169.4,1055.3 C1168.6,1055.2 1168.8,1054.6 1168.2,1054.0 C1167.5,1053.3 1167.8,1053.5 1167.1,1053.1 C1166.4,1052.8 1166.8,1052.7 1165.9,1052.8 C1165.0,1052.8 1164.9,1053.5 1164.1,1053.2 C1163.3,1052.8 1163.4,1052.8 1163.4,1051.6 C1163.3,1050.5 1164.3,1050.2 1163.9,1049.3 C1163.5,1048.5 1162.8,1049.4 1162.0,1048.8 C1161.2,1048.1 1161.3,1048.2 1161.2,1047.2 C1161.2,1046.2 1161.3,1046.4 1161.8,1045.4 C1162.2,1044.3 1162.3,1044.7 1162.7,1043.8 C1163.1,1042.9 1162.8,1043.2 1163.1,1042.3 C1163.3,1041.4 1163.2,1041.7 1163.5,1040.7 C1163.7,1039.8 1163.3,1039.6 1164.0,1039.1 C1164.6,1038.5 1165.0,1039.4 1165.7,1038.9 C1166.4,1038.5 1165.9,1038.3 1166.4,1037.5 C1166.9,1036.7 1166.7,1036.6 1167.4,1036.3 C1168.1,1035.9 1168.0,1036.3 1168.8,1036.3 C1169.6,1036.3 1169.3,1036.4 1170.0,1036.3 C1170.8,1036.2 1170.5,1036.2 1171.3,1035.9 C1172.2,1035.5 1172.2,1035.0 1172.9,1035.2 C1173.7,1035.4 1173.4,1035.7 1173.9,1036.5 C1174.4,1037.4 1174.1,1037.3 1174.6,1038.0 C1175.2,1038.6 1175.0,1038.3 1175.7,1038.8 C1176.4,1039.3 1176.6,1038.9 1177.0,1039.7 C1177.4,1040.5 1177.3,1040.4 1177.1,1041.5 C1177.0,1042.5 1176.3,1042.3 1176.5,1043.3 C1176.8,1044.2 1177.6,1043.7 1177.9,1044.7 C1178.2,1045.6 1177.8,1045.4 1177.6,1046.4Z" fill="#505156" stroke="#2a2b2f" stroke-width="0.9"/><path d="M1163.5,1049.2 C1164.0,1050.4 1164.4,1049.8 1164.9,1050.9 C1165.5,1052.1 1165.2,1051.8 1165.2,1053.0 C1165.2,1054.3 1165.3,1053.9 1164.8,1055.0 C1164.4,1056.1 1164.1,1055.5 1163.8,1056.6 C1163.6,1057.7 1163.7,1057.2 1164.0,1058.6 C1164.2,1060.0 1165.0,1060.3 1164.6,1061.3 C1164.2,1062.3 1163.7,1061.5 1162.7,1062.0 C1161.7,1062.5 1162.1,1062.3 1161.2,1062.9 C1160.4,1063.5 1160.7,1063.1 1160.0,1064.0 C1159.2,1065.0 1159.8,1065.6 1158.8,1066.1 C1157.9,1066.6 1158.0,1066.6 1156.8,1065.7 C1155.6,1064.7 1156.0,1063.5 1154.9,1062.9 C1153.8,1062.4 1154.3,1063.3 1153.2,1063.8 C1152.0,1064.3 1152.0,1065.1 1151.0,1064.6 C1149.9,1064.1 1150.5,1063.5 1149.7,1062.3 C1148.9,1061.1 1149.2,1061.7 1148.4,1060.7 C1147.6,1059.7 1147.7,1060.2 1147.1,1059.1 C1146.4,1058.1 1146.8,1058.4 1146.2,1057.3 C1145.5,1056.2 1145.2,1056.6 1144.9,1055.4 C1144.7,1054.3 1145.3,1054.6 1145.3,1053.3 C1145.2,1052.1 1145.0,1052.5 1144.9,1051.4 C1144.8,1050.2 1144.8,1050.5 1145.0,1049.4 C1145.1,1048.2 1145.0,1048.6 1145.4,1047.5 C1145.8,1046.5 1145.8,1047.0 1146.2,1045.9 C1146.6,1044.8 1146.0,1044.7 1146.7,1043.9 C1147.3,1043.1 1147.4,1043.6 1148.4,1043.2 C1149.4,1042.8 1148.9,1042.5 1149.9,1042.5 C1151.0,1042.6 1150.9,1043.4 1151.9,1043.3 C1152.9,1043.2 1152.3,1043.0 1153.2,1042.2 C1154.2,1041.3 1153.9,1040.4 1154.9,1040.5 C1155.9,1040.6 1155.7,1041.6 1156.6,1042.6 C1157.6,1043.5 1157.1,1043.3 1158.2,1043.7 C1159.2,1044.2 1159.1,1043.6 1160.1,1044.1 C1161.1,1044.6 1160.6,1044.7 1161.5,1045.5 C1162.4,1046.4 1162.6,1045.8 1163.2,1046.9 C1163.7,1048.0 1162.9,1048.0 1163.5,1049.2Z" fill="#505156" stroke="#2a2b2f" stroke-width="0.9"/><path d="M1185.8,1059.6 C1185.6,1060.8 1185.4,1060.3 1185.0,1061.5 C1184.6,1062.6 1185.2,1062.7 1184.5,1063.5 C1183.7,1064.4 1183.4,1063.6 1182.4,1064.3 C1181.4,1064.9 1181.8,1064.4 1181.2,1065.6 C1180.6,1066.9 1181.2,1067.5 1180.4,1068.5 C1179.6,1069.6 1179.6,1069.3 1178.4,1069.0 C1177.1,1068.8 1177.5,1067.8 1176.3,1067.7 C1175.1,1067.6 1175.5,1068.7 1174.4,1068.8 C1173.3,1068.9 1173.7,1068.4 1172.7,1068.1 C1171.6,1067.8 1171.8,1068.2 1170.8,1067.8 C1169.8,1067.4 1170.1,1067.5 1169.2,1066.7 C1168.4,1066.0 1168.7,1066.2 1168.0,1065.2 C1167.3,1064.3 1168.0,1064.4 1167.0,1063.6 C1166.0,1062.9 1165.0,1063.8 1164.7,1062.7 C1164.5,1061.6 1165.8,1061.3 1166.1,1059.9 C1166.4,1058.5 1166.3,1059.2 1165.8,1058.1 C1165.2,1057.0 1164.3,1057.3 1164.2,1056.1 C1164.1,1054.9 1164.6,1055.2 1165.3,1054.1 C1166.1,1053.1 1166.0,1053.5 1166.8,1052.5 C1167.5,1051.6 1167.4,1052.1 1167.9,1051.1 C1168.4,1050.0 1168.0,1050.3 1168.5,1049.1 C1169.0,1047.9 1168.5,1047.6 1169.5,1047.0 C1170.4,1046.5 1170.6,1047.6 1171.7,1047.2 C1172.9,1046.9 1172.2,1046.6 1173.2,1045.9 C1174.2,1045.3 1173.9,1045.4 1175.0,1045.1 C1176.1,1044.8 1175.8,1044.9 1176.9,1044.9 C1178.1,1045.0 1177.8,1044.7 1178.8,1045.2 C1179.8,1045.7 1179.2,1046.2 1180.3,1046.6 C1181.3,1047.0 1181.2,1046.4 1182.3,1046.7 C1183.5,1047.0 1183.7,1046.5 1184.2,1047.6 C1184.6,1048.8 1183.7,1049.2 1183.8,1050.6 C1184.0,1051.9 1183.6,1051.3 1184.6,1052.2 C1185.6,1053.0 1186.3,1052.3 1187.1,1053.3 C1187.9,1054.3 1187.8,1054.2 1187.3,1055.5 C1186.8,1056.8 1185.9,1056.3 1185.5,1057.6 C1185.0,1058.8 1185.9,1058.4 1185.8,1059.6Z" fill="#505156" stroke="#2a2b2f" stroke-width="0.9"/><path d="M1175.8,1060.2 C1176.2,1061.2 1177.0,1061.0 1176.7,1061.9 C1176.3,1062.8 1175.4,1062.3 1174.6,1063.1 C1173.8,1063.9 1174.4,1063.7 1174.0,1064.6 C1173.6,1065.5 1173.9,1065.3 1173.3,1066.1 C1172.6,1066.9 1172.9,1066.8 1171.9,1067.3 C1170.9,1067.9 1171.2,1067.8 1169.9,1067.9 C1168.6,1067.9 1168.8,1067.4 1167.6,1067.4 C1166.4,1067.5 1167.0,1067.3 1166.0,1068.1 C1165.0,1068.9 1165.3,1069.8 1164.2,1070.0 C1163.0,1070.2 1163.4,1069.2 1162.2,1068.7 C1161.1,1068.1 1161.5,1068.5 1160.4,1068.1 C1159.4,1067.8 1160.0,1067.6 1158.8,1067.4 C1157.5,1067.2 1157.2,1068.0 1156.2,1067.6 C1155.1,1067.1 1155.4,1067.1 1155.1,1066.1 C1154.9,1065.0 1155.5,1065.1 1155.2,1064.2 C1155.0,1063.3 1155.1,1063.7 1154.2,1063.0 C1153.2,1062.3 1152.3,1062.7 1152.1,1061.9 C1151.8,1061.0 1152.7,1061.1 1153.3,1060.2 C1153.9,1059.3 1154.1,1059.8 1154.1,1058.9 C1154.2,1058.0 1153.8,1058.3 1153.5,1057.3 C1153.3,1056.2 1152.9,1056.3 1153.3,1055.4 C1153.8,1054.6 1153.8,1054.8 1155.1,1054.4 C1156.4,1054.0 1156.6,1054.8 1157.6,1054.2 C1158.5,1053.6 1157.4,1052.9 1158.2,1052.3 C1159.0,1051.7 1159.1,1052.1 1160.3,1052.1 C1161.5,1052.0 1161.1,1052.0 1162.3,1052.1 C1163.5,1052.2 1163.0,1052.4 1164.2,1052.4 C1165.3,1052.3 1165.0,1051.9 1166.1,1051.8 C1167.2,1051.8 1166.9,1051.9 1168.0,1052.3 C1169.0,1052.6 1168.8,1052.3 1169.7,1052.9 C1170.6,1053.4 1169.9,1053.6 1170.9,1054.1 C1171.8,1054.6 1172.0,1054.1 1172.9,1054.6 C1173.8,1055.2 1173.3,1055.2 1173.9,1055.9 C1174.5,1056.7 1174.4,1056.4 1174.9,1057.2 C1175.3,1058.1 1175.0,1057.8 1175.3,1058.7 C1175.6,1059.6 1175.4,1059.3 1175.8,1060.2Z" fill="#505156" stroke="#2a2b2f" stroke-width="0.9"/><path d="M1187.0,1074.6 C1187.0,1075.7 1187.5,1075.4 1187.5,1076.5 C1187.4,1077.6 1187.7,1077.5 1186.9,1078.3 C1186.2,1079.0 1186.1,1078.7 1184.9,1079.1 C1183.7,1079.4 1183.8,1078.9 1182.9,1079.4 C1182.0,1079.9 1182.5,1079.7 1182.0,1080.9 C1181.5,1082.0 1182.1,1082.6 1181.2,1083.3 C1180.2,1083.9 1180.2,1083.2 1179.0,1083.0 C1177.7,1082.8 1178.1,1082.9 1177.0,1082.6 C1175.8,1082.2 1176.4,1081.8 1175.2,1081.8 C1174.0,1081.9 1174.1,1082.8 1173.0,1082.7 C1171.8,1082.6 1172.2,1082.2 1171.4,1081.4 C1170.6,1080.6 1171.0,1080.7 1170.2,1079.9 C1169.4,1079.2 1169.9,1079.4 1168.7,1078.9 C1167.5,1078.4 1166.7,1079.1 1166.2,1078.2 C1165.7,1077.3 1166.9,1077.1 1167.1,1075.9 C1167.3,1074.7 1167.3,1075.2 1166.8,1074.3 C1166.3,1073.3 1166.0,1073.7 1165.4,1072.6 C1164.8,1071.6 1164.6,1071.8 1164.8,1070.7 C1164.9,1069.7 1165.0,1069.9 1165.9,1069.1 C1166.8,1068.3 1167.1,1068.9 1167.7,1068.0 C1168.3,1067.1 1167.5,1067.2 1167.9,1066.0 C1168.2,1064.9 1167.8,1064.8 1168.8,1064.3 C1169.8,1063.7 1169.9,1064.3 1171.2,1064.3 C1172.5,1064.2 1172.1,1064.5 1173.1,1064.0 C1174.1,1063.5 1173.5,1063.1 1174.6,1062.5 C1175.6,1061.8 1175.4,1061.7 1176.6,1061.9 C1177.7,1062.1 1177.4,1062.5 1178.5,1063.1 C1179.6,1063.8 1179.0,1063.8 1180.2,1064.0 C1181.4,1064.2 1181.2,1063.6 1182.4,1063.9 C1183.6,1064.2 1183.2,1064.2 1184.1,1065.0 C1185.0,1065.7 1185.0,1065.4 1185.3,1066.4 C1185.7,1067.5 1184.7,1067.6 1185.2,1068.5 C1185.8,1069.5 1186.3,1068.8 1187.1,1069.6 C1188.0,1070.4 1188.2,1070.2 1188.2,1071.2 C1188.2,1072.2 1187.5,1072.0 1187.2,1073.0 C1186.8,1074.0 1186.9,1073.6 1187.0,1074.6Z" fill="#505156" stroke="#2a2b2f" stroke-width="0.9"/><path d="M1162.7,1076.0 C1162.7,1076.9 1162.2,1076.6 1161.7,1077.5 C1161.3,1078.4 1161.6,1078.1 1161.3,1079.0 C1161.0,1079.9 1161.1,1079.5 1160.8,1080.4 C1160.5,1081.3 1160.9,1081.4 1160.3,1082.0 C1159.6,1082.6 1159.5,1082.1 1158.6,1082.5 C1157.8,1082.8 1158.0,1082.5 1157.4,1083.2 C1156.8,1084.0 1157.3,1084.6 1156.5,1084.9 C1155.8,1085.3 1155.8,1084.4 1154.8,1084.3 C1153.9,1084.2 1154.2,1084.8 1153.4,1084.7 C1152.6,1084.5 1153.0,1083.7 1152.1,1083.7 C1151.2,1083.7 1151.3,1084.6 1150.4,1084.6 C1149.5,1084.7 1149.7,1084.5 1149.1,1083.8 C1148.5,1083.0 1149.1,1082.8 1148.5,1082.1 C1147.9,1081.5 1147.8,1082.1 1147.0,1081.6 C1146.3,1081.1 1146.5,1081.3 1145.9,1080.5 C1145.4,1079.8 1145.4,1080.0 1145.2,1079.1 C1144.9,1078.2 1144.9,1078.5 1145.1,1077.5 C1145.2,1076.6 1145.5,1076.9 1145.6,1076.0 C1145.8,1075.1 1145.6,1075.4 1145.5,1074.5 C1145.5,1073.6 1145.3,1073.9 1145.6,1073.0 C1145.8,1072.2 1145.7,1072.4 1146.3,1071.7 C1146.9,1071.1 1147.0,1071.5 1147.5,1070.8 C1148.1,1070.1 1147.7,1070.3 1148.1,1069.4 C1148.5,1068.5 1148.1,1068.1 1148.8,1067.7 C1149.6,1067.3 1149.7,1067.9 1150.6,1068.0 C1151.6,1068.0 1151.2,1068.2 1152.0,1067.8 C1152.9,1067.3 1152.6,1066.5 1153.4,1066.4 C1154.3,1066.3 1154.0,1066.9 1154.9,1067.4 C1155.7,1067.8 1155.5,1067.5 1156.2,1068.0 C1156.9,1068.5 1156.5,1068.7 1157.3,1069.0 C1158.1,1069.4 1158.0,1068.9 1158.9,1069.1 C1159.8,1069.4 1159.8,1069.2 1160.3,1069.9 C1160.9,1070.7 1160.4,1070.7 1160.8,1071.6 C1161.1,1072.5 1161.1,1072.1 1161.4,1072.9 C1161.8,1073.8 1161.4,1073.5 1161.8,1074.4 C1162.2,1075.4 1162.7,1075.1 1162.7,1076.0Z" fill="#505156" stroke="#2a2b2f" stroke-width="0.9"/><path d="M1196.4,1104.4 C1195.3,1105.7 1195.0,1105.0 1194.0,1106.1 C1192.9,1107.2 1193.3,1106.6 1192.8,1108.2 C1192.4,1109.9 1193.3,1110.0 1192.5,1111.5 C1191.7,1113.1 1191.8,1112.8 1190.2,1113.3 C1188.5,1113.8 1188.7,1113.0 1186.9,1113.2 C1185.1,1113.3 1185.8,1113.6 1184.2,1113.8 C1182.5,1113.9 1183.0,1113.8 1181.3,1113.7 C1179.7,1113.5 1180.2,1113.7 1178.6,1113.3 C1176.9,1112.9 1177.4,1113.2 1175.9,1112.3 C1174.5,1111.4 1175.4,1111.2 1173.9,1110.4 C1172.4,1109.6 1172.7,1110.4 1171.0,1109.8 C1169.4,1109.1 1169.6,1109.5 1168.5,1108.3 C1167.3,1107.1 1167.7,1107.4 1167.2,1105.8 C1166.6,1104.3 1167.3,1104.7 1166.7,1103.2 C1166.1,1101.7 1166.1,1102.4 1165.1,1100.9 C1164.0,1099.4 1163.5,1099.9 1163.2,1098.3 C1162.9,1096.7 1163.1,1097.0 1164.1,1095.6 C1165.1,1094.2 1165.5,1094.9 1166.5,1093.6 C1167.4,1092.3 1166.6,1092.5 1167.2,1091.2 C1167.8,1089.9 1167.8,1090.5 1168.6,1089.1 C1169.4,1087.8 1168.3,1087.2 1169.8,1086.6 C1171.2,1086.0 1172.0,1088.1 1173.4,1087.2 C1174.8,1086.3 1173.3,1084.9 1174.5,1083.7 C1175.7,1082.5 1175.6,1082.9 1177.4,1083.2 C1179.2,1083.5 1178.7,1084.2 1180.4,1084.6 C1182.1,1084.9 1181.6,1084.0 1183.1,1084.3 C1184.7,1084.6 1184.1,1085.0 1185.7,1085.6 C1187.2,1086.2 1186.9,1085.6 1188.4,1086.3 C1189.8,1087.0 1189.7,1086.6 1190.6,1088.0 C1191.5,1089.3 1189.9,1089.7 1191.4,1090.7 C1192.9,1091.7 1194.4,1090.1 1195.7,1091.2 C1197.0,1092.2 1195.9,1092.4 1195.8,1094.1 C1195.8,1095.8 1195.7,1095.3 1195.5,1096.8 C1195.2,1098.4 1194.4,1097.7 1195.0,1099.2 C1195.7,1100.8 1197.2,1100.5 1197.6,1102.0 C1198.0,1103.6 1197.5,1103.2 1196.4,1104.4Z" fill="#505156" stroke="#2a2b2f" stroke-width="0.9"/><path d="M1160.3,1098.6 C1161.1,1100.1 1160.8,1099.8 1160.7,1101.5 C1160.6,1103.2 1160.0,1102.5 1160.0,1104.2 C1160.0,1105.9 1160.7,1105.5 1160.8,1107.2 C1160.9,1108.9 1161.1,1108.7 1160.3,1110.0 C1159.6,1111.3 1159.4,1110.6 1158.3,1111.5 C1157.1,1112.3 1157.5,1111.9 1156.6,1112.9 C1155.7,1113.8 1156.1,1113.6 1155.3,1114.5 C1154.4,1115.5 1154.7,1115.1 1153.7,1116.1 C1152.8,1117.0 1153.2,1117.3 1152.0,1117.6 C1150.9,1117.9 1151.1,1117.4 1149.8,1117.1 C1148.5,1116.8 1149.0,1116.6 1147.7,1116.5 C1146.4,1116.5 1146.8,1117.2 1145.5,1117.0 C1144.3,1116.7 1144.6,1116.7 1143.5,1115.7 C1142.4,1114.8 1142.9,1114.8 1141.8,1113.8 C1140.7,1112.7 1141.1,1113.2 1139.8,1112.3 C1138.6,1111.4 1138.7,1111.9 1137.6,1110.7 C1136.6,1109.4 1136.5,1109.8 1136.4,1108.1 C1136.2,1106.3 1137.5,1106.5 1137.1,1104.8 C1136.8,1103.1 1136.1,1104.0 1135.2,1102.4 C1134.3,1100.8 1133.8,1100.9 1134.1,1099.4 C1134.4,1097.8 1135.5,1098.7 1136.2,1097.2 C1136.8,1095.7 1136.1,1096.1 1136.3,1094.5 C1136.5,1092.9 1136.2,1093.2 1136.9,1092.0 C1137.6,1090.7 1137.7,1091.4 1138.6,1090.4 C1139.4,1089.3 1138.8,1089.1 1139.9,1088.4 C1140.9,1087.7 1141.0,1088.9 1142.1,1088.1 C1143.2,1087.3 1142.4,1086.4 1143.5,1085.8 C1144.6,1085.1 1144.4,1085.8 1145.8,1085.9 C1147.1,1085.9 1146.7,1085.5 1148.0,1085.9 C1149.3,1086.3 1148.8,1086.7 1150.1,1087.3 C1151.4,1087.8 1150.9,1087.4 1152.4,1087.7 C1153.8,1088.0 1153.8,1087.1 1154.9,1088.2 C1156.0,1089.3 1155.4,1089.6 1156.1,1091.4 C1156.7,1093.1 1156.4,1092.6 1157.0,1094.1 C1157.6,1095.7 1157.1,1095.2 1158.1,1096.5 C1159.1,1097.9 1159.6,1097.1 1160.3,1098.6Z" fill="#505156" stroke="#2a2b2f" stroke-width="0.9"/><path d="M1159.8,1121.5 C1159.7,1122.5 1158.2,1122.4 1157.9,1123.4 C1157.7,1124.5 1159.1,1124.0 1159.0,1125.0 C1158.9,1125.9 1158.1,1125.6 1157.6,1126.6 C1157.1,1127.7 1158.3,1127.6 1157.3,1128.5 C1156.4,1129.4 1155.7,1128.8 1154.4,1129.7 C1153.2,1130.6 1154.3,1130.7 1153.1,1131.6 C1151.9,1132.5 1152.1,1132.0 1150.5,1132.7 C1148.8,1133.4 1149.5,1133.7 1147.8,1133.8 C1146.0,1133.9 1146.3,1132.7 1144.5,1133.1 C1142.8,1133.5 1143.6,1134.3 1141.9,1135.1 C1140.2,1135.8 1140.4,1135.8 1138.8,1135.6 C1137.2,1135.5 1137.6,1135.3 1136.6,1134.4 C1135.5,1133.6 1136.6,1133.2 1135.3,1132.9 C1133.9,1132.6 1133.8,1133.3 1132.0,1133.4 C1130.2,1133.4 1130.6,1133.4 1129.3,1132.9 C1128.0,1132.4 1127.9,1132.7 1127.7,1131.7 C1127.5,1130.7 1128.6,1130.7 1128.7,1129.6 C1128.8,1128.6 1129.1,1129.0 1128.1,1128.3 C1127.1,1127.5 1125.3,1128.0 1125.3,1127.1 C1125.3,1126.2 1127.0,1126.3 1128.1,1125.3 C1129.1,1124.2 1128.0,1124.6 1128.6,1123.7 C1129.2,1122.7 1129.4,1123.2 1130.1,1122.2 C1130.8,1121.2 1130.2,1121.4 1130.9,1120.4 C1131.7,1119.4 1131.0,1119.2 1132.7,1118.8 C1134.4,1118.3 1134.8,1119.3 1136.5,1118.9 C1138.3,1118.5 1137.2,1118.3 1138.5,1117.4 C1139.8,1116.5 1139.3,1116.4 1140.9,1115.8 C1142.5,1115.2 1142.1,1115.3 1143.8,1115.3 C1145.5,1115.3 1144.7,1115.8 1146.4,1115.9 C1148.1,1115.9 1147.5,1115.7 1149.4,1115.5 C1151.2,1115.2 1151.3,1114.7 1152.7,1115.1 C1154.1,1115.4 1153.1,1115.9 1154.0,1116.7 C1154.8,1117.5 1154.9,1117.1 1155.5,1117.9 C1156.2,1118.6 1155.4,1118.6 1156.2,1119.3 C1157.1,1120.0 1157.2,1119.6 1158.2,1120.2 C1159.3,1120.9 1159.9,1120.6 1159.8,1121.5Z" fill="#505156" stroke="#2a2b2f" stroke-width="0.9"/><path d="M1197.9,1130.4 C1197.8,1131.8 1198.4,1131.6 1197.6,1132.7 C1196.7,1133.8 1195.9,1133.0 1195.0,1134.1 C1194.0,1135.2 1195.0,1135.1 1194.5,1136.5 C1194.0,1137.9 1194.8,1138.1 1193.4,1138.9 C1192.0,1139.7 1192.0,1139.2 1189.9,1139.1 C1187.8,1139.0 1188.1,1138.2 1186.4,1138.5 C1184.7,1138.9 1185.8,1139.3 1184.2,1140.3 C1182.7,1141.2 1183.2,1141.5 1181.3,1141.7 C1179.5,1141.9 1179.7,1142.0 1178.1,1140.8 C1176.5,1139.7 1177.8,1138.4 1175.9,1137.9 C1174.1,1137.3 1174.1,1139.0 1172.0,1139.0 C1169.8,1139.0 1170.0,1139.1 1168.7,1138.0 C1167.4,1136.8 1168.2,1136.7 1167.7,1135.1 C1167.2,1133.6 1167.7,1134.1 1166.9,1132.8 C1166.1,1131.5 1166.3,1132.1 1165.0,1131.0 C1163.8,1129.8 1163.2,1130.2 1162.7,1128.9 C1162.2,1127.6 1162.7,1127.9 1163.2,1126.6 C1163.7,1125.3 1163.9,1125.8 1164.4,1124.5 C1164.9,1123.3 1165.3,1124.0 1164.9,1122.5 C1164.6,1120.9 1162.7,1120.5 1163.2,1119.3 C1163.8,1118.1 1164.7,1118.8 1166.7,1118.4 C1168.7,1117.9 1168.7,1118.9 1169.9,1117.8 C1171.0,1116.8 1169.5,1116.1 1170.6,1115.0 C1171.7,1113.9 1171.6,1114.3 1173.5,1114.1 C1175.3,1114.0 1174.8,1114.2 1176.7,1114.4 C1178.6,1114.7 1178.0,1114.7 1179.7,1115.0 C1181.5,1115.3 1180.7,1115.4 1182.6,1115.3 C1184.5,1115.3 1184.2,1114.4 1185.9,1114.8 C1187.7,1115.1 1186.9,1115.6 1188.3,1116.6 C1189.8,1117.6 1189.1,1117.3 1190.9,1118.0 C1192.6,1118.7 1193.0,1117.9 1194.3,1119.0 C1195.6,1120.0 1194.6,1120.1 1195.2,1121.5 C1195.8,1122.9 1196.4,1122.3 1196.4,1123.7 C1196.4,1125.0 1194.7,1124.7 1195.2,1126.1 C1195.6,1127.4 1197.0,1126.8 1197.9,1128.1 C1198.7,1129.4 1198.0,1129.0 1197.9,1130.4Z" fill="#505156" stroke="#2a2b2f" stroke-width="0.9"/><path d="M1158.7,1153.1 C1157.5,1154.4 1157.2,1153.5 1156.2,1154.9 C1155.3,1156.3 1156.2,1156.2 1155.4,1157.6 C1154.7,1159.1 1154.8,1158.5 1153.7,1159.7 C1152.5,1160.8 1153.0,1160.5 1151.7,1161.4 C1150.4,1162.3 1150.8,1162.2 1149.5,1162.7 C1148.1,1163.2 1148.5,1162.2 1147.1,1163.0 C1145.7,1163.8 1146.0,1165.5 1144.7,1165.3 C1143.4,1165.1 1143.9,1163.6 1142.7,1162.5 C1141.5,1161.4 1142.1,1161.8 1140.8,1161.7 C1139.4,1161.5 1139.8,1162.0 1138.2,1162.0 C1136.7,1162.0 1136.5,1162.8 1135.6,1161.7 C1134.6,1160.7 1135.5,1160.2 1135.1,1158.5 C1134.8,1156.9 1135.4,1157.3 1134.5,1156.1 C1133.5,1155.0 1132.6,1156.0 1132.0,1154.7 C1131.4,1153.4 1132.4,1153.5 1132.4,1151.8 C1132.3,1150.1 1131.3,1150.7 1131.8,1149.2 C1132.3,1147.6 1133.6,1148.3 1133.9,1146.7 C1134.3,1145.0 1132.7,1145.3 1132.8,1143.7 C1132.9,1142.0 1133.2,1142.5 1134.3,1141.2 C1135.3,1140.0 1135.2,1140.6 1136.4,1139.5 C1137.5,1138.4 1137.1,1138.9 1138.0,1137.6 C1139.0,1136.2 1138.4,1136.2 1139.5,1135.0 C1140.6,1133.8 1140.3,1134.0 1141.7,1133.6 C1143.1,1133.1 1142.7,1133.5 1144.2,1133.5 C1145.6,1133.5 1145.1,1133.7 1146.4,1133.6 C1147.8,1133.5 1147.3,1133.3 1148.7,1133.2 C1150.1,1133.2 1149.7,1133.1 1151.1,1133.4 C1152.4,1133.7 1152.1,1133.4 1153.2,1134.3 C1154.3,1135.2 1153.5,1135.4 1154.6,1136.3 C1155.7,1137.2 1155.6,1136.5 1156.9,1137.3 C1158.2,1138.1 1158.5,1137.5 1159.0,1138.9 C1159.6,1140.4 1158.7,1140.4 1158.7,1142.2 C1158.7,1143.9 1158.9,1143.2 1159.0,1144.8 C1159.1,1146.4 1158.7,1145.8 1159.0,1147.5 C1159.2,1149.1 1160.0,1148.7 1159.9,1150.3 C1159.9,1152.0 1159.8,1151.7 1158.7,1153.1Z" fill="#505156" stroke="#2a2b2f" stroke-width="0.9"/><path d="M1197.8,1160.8 C1197.1,1162.3 1196.0,1161.3 1195.1,1162.7 C1194.2,1164.1 1195.1,1163.7 1194.9,1165.6 C1194.7,1167.6 1195.6,1168.1 1194.4,1169.1 C1193.2,1170.1 1192.5,1168.3 1190.9,1169.0 C1189.4,1169.6 1190.4,1169.9 1189.2,1171.2 C1188.1,1172.6 1188.6,1173.1 1187.1,1173.4 C1185.7,1173.8 1185.9,1172.9 1184.4,1172.5 C1182.9,1172.0 1183.4,1172.1 1182.0,1172.0 C1180.6,1171.8 1181.1,1172.1 1179.6,1171.9 C1178.2,1171.7 1178.6,1171.9 1177.3,1171.3 C1176.0,1170.7 1176.6,1170.7 1175.3,1170.0 C1174.0,1169.3 1173.7,1170.2 1172.9,1169.0 C1172.1,1167.7 1173.6,1167.1 1172.7,1165.8 C1171.7,1164.5 1170.5,1165.9 1169.7,1164.6 C1168.9,1163.3 1170.0,1163.2 1170.1,1161.5 C1170.1,1159.8 1169.9,1160.4 1169.9,1158.8 C1169.9,1157.2 1169.8,1157.7 1170.1,1156.2 C1170.4,1154.6 1170.5,1155.2 1170.8,1153.6 C1171.1,1152.0 1170.7,1152.4 1171.1,1150.8 C1171.5,1149.2 1171.3,1149.6 1172.2,1148.2 C1173.0,1146.9 1173.1,1147.8 1174.0,1146.2 C1174.9,1144.7 1173.9,1144.1 1175.2,1143.1 C1176.4,1142.2 1176.6,1143.5 1178.2,1143.2 C1179.8,1142.8 1179.1,1142.5 1180.5,1142.1 C1181.9,1141.7 1181.4,1142.1 1182.9,1141.8 C1184.4,1141.4 1183.8,1141.2 1185.4,1140.9 C1186.9,1140.5 1186.8,1139.7 1188.1,1140.5 C1189.3,1141.3 1188.8,1141.9 1189.7,1143.4 C1190.6,1144.9 1189.9,1144.7 1191.1,1145.5 C1192.2,1146.3 1192.4,1145.3 1193.6,1146.0 C1194.8,1146.7 1194.2,1146.7 1195.1,1147.9 C1196.1,1149.1 1196.2,1148.5 1196.6,1150.0 C1197.0,1151.4 1196.1,1151.2 1196.6,1152.8 C1197.1,1154.3 1198.0,1153.6 1198.3,1155.1 C1198.5,1156.7 1197.6,1156.2 1197.5,1157.9 C1197.4,1159.6 1198.6,1159.4 1197.8,1160.8Z" fill="#505156" stroke="#2a2b2f" stroke-width="0.9"/><path d="M1159.7,1173.7 C1160.3,1174.9 1160.9,1174.6 1161.3,1176.0 C1161.6,1177.3 1161.5,1177.1 1160.7,1178.1 C1160.0,1179.2 1159.9,1178.8 1158.8,1179.6 C1157.7,1180.3 1157.8,1179.8 1157.0,1180.7 C1156.2,1181.6 1156.6,1181.2 1156.1,1182.5 C1155.5,1183.7 1156.2,1184.4 1155.2,1184.9 C1154.1,1185.3 1153.9,1183.8 1152.6,1184.0 C1151.3,1184.2 1152.1,1185.1 1151.0,1185.6 C1149.9,1186.1 1150.2,1185.7 1149.0,1185.7 C1147.8,1185.6 1148.0,1186.0 1147.0,1185.5 C1145.9,1185.0 1146.4,1184.7 1145.3,1184.1 C1144.3,1183.5 1144.7,1183.9 1143.4,1183.6 C1142.2,1183.4 1142.0,1184.1 1141.2,1183.3 C1140.4,1182.4 1141.2,1182.0 1140.7,1180.9 C1140.2,1179.7 1140.3,1180.3 1139.4,1179.4 C1138.6,1178.5 1138.4,1179.0 1137.9,1177.9 C1137.4,1176.8 1138.0,1177.0 1137.8,1175.7 C1137.7,1174.5 1137.3,1174.9 1137.4,1173.7 C1137.5,1172.5 1137.7,1172.9 1138.1,1171.7 C1138.4,1170.6 1138.3,1171.0 1138.6,1169.8 C1138.9,1168.7 1138.6,1168.9 1139.2,1167.9 C1139.7,1166.8 1139.6,1167.2 1140.5,1166.4 C1141.4,1165.6 1141.1,1165.8 1142.1,1165.3 C1143.1,1164.7 1143.0,1165.6 1143.8,1164.4 C1144.6,1163.3 1143.7,1162.4 1144.7,1161.5 C1145.6,1160.5 1145.6,1161.0 1146.8,1161.3 C1148.1,1161.6 1147.7,1162.2 1149.0,1162.3 C1150.2,1162.5 1149.8,1161.8 1151.0,1161.7 C1152.3,1161.6 1152.0,1161.4 1153.1,1162.0 C1154.2,1162.5 1153.9,1162.5 1154.7,1163.4 C1155.6,1164.4 1155.1,1164.3 1155.9,1165.1 C1156.8,1166.0 1156.3,1165.7 1157.6,1166.3 C1158.8,1166.9 1159.1,1166.2 1160.0,1167.1 C1160.9,1168.1 1160.7,1168.0 1160.4,1169.4 C1160.1,1170.8 1159.3,1170.6 1159.1,1171.9 C1158.8,1173.2 1159.0,1172.5 1159.7,1173.7Z" fill="#505156" stroke="#2a2b2f" stroke-width="0.9"/><path d="M1151.4,1189.7 C1151.7,1190.9 1151.6,1190.4 1152.0,1191.7 C1152.4,1193.0 1153.0,1192.7 1152.7,1193.9 C1152.5,1195.1 1151.9,1194.7 1151.1,1195.8 C1150.3,1196.9 1150.7,1196.5 1150.0,1197.6 C1149.4,1198.8 1149.7,1198.4 1149.0,1199.6 C1148.3,1200.7 1148.7,1200.5 1147.7,1201.4 C1146.7,1202.4 1147.0,1202.3 1145.7,1202.7 C1144.3,1203.1 1144.5,1202.7 1143.1,1202.7 C1141.7,1202.8 1142.2,1202.5 1140.9,1203.0 C1139.6,1203.6 1140.0,1204.6 1138.7,1204.6 C1137.5,1204.6 1137.8,1203.8 1136.6,1203.1 C1135.4,1202.4 1135.9,1202.5 1134.7,1202.2 C1133.5,1201.8 1133.7,1202.3 1132.5,1201.9 C1131.4,1201.4 1131.9,1201.4 1130.9,1200.7 C1129.8,1200.0 1129.7,1200.5 1128.9,1199.7 C1128.1,1198.8 1128.7,1198.8 1128.1,1197.7 C1127.5,1196.7 1127.4,1197.2 1126.9,1196.1 C1126.3,1195.0 1126.9,1195.3 1126.3,1194.1 C1125.7,1192.9 1124.7,1193.3 1124.8,1192.1 C1124.9,1190.9 1125.9,1191.2 1126.7,1190.1 C1127.5,1188.9 1127.4,1189.5 1127.5,1188.2 C1127.7,1186.9 1126.8,1187.0 1127.2,1185.8 C1127.6,1184.6 1127.6,1184.9 1128.8,1184.2 C1130.1,1183.4 1130.0,1184.0 1131.2,1183.4 C1132.5,1182.8 1132.0,1183.3 1132.9,1182.2 C1133.8,1181.0 1133.1,1180.3 1134.2,1179.5 C1135.4,1178.8 1135.3,1179.5 1136.8,1179.7 C1138.3,1180.0 1137.8,1180.3 1139.1,1180.4 C1140.5,1180.5 1139.9,1180.3 1141.4,1180.1 C1142.9,1179.8 1142.9,1178.8 1144.1,1179.4 C1145.2,1180.0 1144.3,1181.0 1145.2,1182.1 C1146.1,1183.1 1145.9,1182.5 1147.1,1183.1 C1148.2,1183.7 1148.1,1183.2 1149.0,1184.1 C1150.0,1184.9 1149.5,1184.7 1150.2,1185.8 C1150.9,1186.9 1150.9,1186.4 1151.3,1187.6 C1151.6,1188.8 1151.2,1188.5 1151.4,1189.7Z" fill="#505156" stroke="#2a2b2f" stroke-width="0.9"/><path d="M1159.3,1188.2 C1159.4,1189.1 1160.1,1188.8 1160.2,1189.8 C1160.3,1190.7 1160.0,1190.4 1159.6,1191.2 C1159.1,1192.1 1159.1,1191.7 1158.7,1192.5 C1158.2,1193.3 1158.5,1193.1 1158.1,1194.0 C1157.6,1194.8 1157.8,1194.6 1157.2,1195.3 C1156.6,1196.1 1156.8,1195.8 1156.0,1196.4 C1155.1,1197.0 1155.5,1197.2 1154.5,1197.2 C1153.5,1197.3 1153.7,1196.3 1152.7,1196.6 C1151.7,1196.9 1152.1,1197.8 1151.2,1198.2 C1150.2,1198.5 1150.5,1198.1 1149.5,1197.7 C1148.5,1197.4 1148.6,1197.9 1148.0,1197.0 C1147.3,1196.2 1148.1,1195.5 1147.2,1195.0 C1146.4,1194.5 1146.2,1195.5 1145.1,1195.4 C1144.0,1195.2 1144.0,1195.4 1143.6,1194.5 C1143.3,1193.6 1144.2,1193.3 1143.9,1192.4 C1143.7,1191.4 1143.1,1192.1 1142.7,1191.3 C1142.3,1190.5 1142.8,1190.6 1142.5,1189.7 C1142.2,1188.8 1141.6,1189.1 1141.7,1188.2 C1141.8,1187.3 1142.3,1187.6 1142.8,1186.7 C1143.2,1185.8 1143.2,1186.2 1143.2,1185.3 C1143.3,1184.3 1142.7,1184.3 1143.0,1183.5 C1143.4,1182.6 1143.8,1183.3 1144.4,1182.5 C1145.0,1181.7 1144.2,1181.3 1145.0,1180.8 C1145.8,1180.3 1146.1,1181.3 1147.0,1180.9 C1147.9,1180.5 1147.2,1180.1 1148.0,1179.4 C1148.8,1178.7 1148.6,1178.7 1149.5,1178.7 C1150.5,1178.7 1150.3,1178.9 1151.2,1179.4 C1152.1,1179.8 1151.6,1180.1 1152.6,1180.1 C1153.6,1180.1 1153.4,1179.3 1154.4,1179.2 C1155.5,1179.2 1155.3,1179.2 1156.0,1179.9 C1156.7,1180.5 1156.2,1180.7 1156.8,1181.5 C1157.4,1182.3 1157.2,1181.9 1157.9,1182.5 C1158.6,1183.2 1158.5,1182.9 1159.0,1183.7 C1159.4,1184.5 1159.2,1184.3 1159.5,1185.2 C1159.7,1186.1 1159.8,1185.8 1159.7,1186.7 C1159.7,1187.6 1159.1,1187.2 1159.3,1188.2Z" fill="#505156" stroke="#2a2b2f" stroke-width="0.9"/><path d="M1192.3,1191.5 C1192.8,1193.4 1194.0,1192.7 1194.5,1194.7 C1195.1,1196.6 1194.3,1195.9 1194.2,1197.9 C1194.0,1199.9 1194.6,1199.7 1194.0,1201.3 C1193.5,1202.9 1193.2,1202.0 1192.4,1203.3 C1191.6,1204.6 1191.6,1203.4 1191.3,1205.5 C1191.0,1207.6 1192.0,1208.6 1191.4,1210.2 C1190.8,1211.9 1190.7,1211.4 1189.3,1211.0 C1187.9,1210.5 1187.7,1208.0 1186.6,1208.6 C1185.5,1209.3 1186.5,1212.0 1185.6,1213.1 C1184.6,1214.2 1184.7,1212.9 1183.4,1212.2 C1182.2,1211.5 1182.6,1211.5 1181.5,1210.8 C1180.3,1210.0 1180.7,1210.6 1179.6,1209.8 C1178.5,1208.9 1179.0,1208.8 1177.8,1207.8 C1176.7,1206.9 1176.9,1207.8 1175.7,1206.7 C1174.6,1205.6 1174.7,1206.1 1174.1,1204.2 C1173.5,1202.3 1174.3,1202.3 1173.8,1200.4 C1173.2,1198.4 1173.3,1199.4 1172.3,1197.6 C1171.3,1195.9 1170.9,1196.5 1170.5,1194.5 C1170.1,1192.5 1170.6,1192.9 1171.1,1191.0 C1171.6,1189.1 1171.8,1189.9 1172.2,1188.1 C1172.6,1186.3 1172.5,1187.2 1172.4,1185.1 C1172.4,1183.0 1171.6,1182.8 1172.0,1181.2 C1172.4,1179.6 1172.7,1180.2 1173.8,1179.6 C1175.0,1179.0 1175.0,1180.0 1175.9,1179.1 C1176.8,1178.2 1176.2,1178.2 1176.8,1176.6 C1177.5,1175.0 1177.0,1174.1 1178.0,1173.7 C1179.0,1173.3 1179.0,1174.7 1180.2,1175.3 C1181.5,1175.8 1180.9,1176.0 1182.1,1175.6 C1183.2,1175.1 1182.8,1174.0 1184.0,1173.8 C1185.2,1173.7 1185.0,1173.9 1186.0,1175.1 C1187.0,1176.4 1186.6,1176.5 1187.5,1178.1 C1188.4,1179.7 1187.9,1179.2 1189.0,1180.4 C1190.0,1181.5 1189.7,1180.9 1190.9,1182.0 C1192.0,1183.2 1192.3,1182.4 1192.9,1184.2 C1193.5,1186.0 1193.1,1185.9 1193.0,1188.1 C1192.8,1190.2 1191.8,1189.5 1192.3,1191.5Z" fill="#505156" stroke="#2a2b2f" stroke-width="0.9"/><path d="M1160.7,1209.1 C1161.1,1210.4 1161.8,1209.7 1162.2,1211.0 C1162.5,1212.2 1162.2,1211.9 1161.8,1213.3 C1161.3,1214.6 1161.1,1214.1 1160.7,1215.4 C1160.2,1216.7 1160.4,1216.1 1160.3,1217.5 C1160.1,1218.9 1160.6,1218.6 1160.2,1220.0 C1159.8,1221.3 1160.0,1221.2 1158.8,1222.1 C1157.7,1223.0 1157.8,1222.7 1156.3,1223.0 C1154.7,1223.4 1154.8,1222.3 1153.6,1223.2 C1152.4,1224.1 1153.4,1224.8 1152.3,1225.9 C1151.2,1227.0 1151.4,1226.6 1149.9,1226.9 C1148.4,1227.1 1148.8,1227.2 1147.4,1226.7 C1145.9,1226.3 1146.7,1225.6 1145.2,1225.5 C1143.7,1225.4 1143.8,1226.5 1142.4,1226.4 C1141.0,1226.2 1141.6,1225.8 1140.5,1225.0 C1139.5,1224.1 1139.9,1224.3 1138.9,1223.5 C1137.9,1222.6 1138.4,1222.8 1137.2,1222.1 C1135.9,1221.4 1135.9,1221.9 1134.8,1221.0 C1133.6,1220.1 1133.2,1220.5 1133.3,1219.1 C1133.3,1217.7 1134.2,1217.7 1135.0,1216.3 C1135.9,1214.8 1136.2,1215.4 1136.1,1214.2 C1136.0,1212.9 1135.2,1213.4 1134.7,1212.1 C1134.2,1210.8 1134.2,1211.1 1134.6,1209.7 C1134.9,1208.4 1134.4,1208.5 1135.8,1207.7 C1137.1,1206.9 1138.0,1208.1 1139.0,1207.1 C1140.1,1206.1 1138.5,1205.4 1139.2,1204.2 C1140.0,1203.1 1140.1,1203.7 1141.5,1203.3 C1142.9,1202.8 1142.4,1203.0 1143.8,1202.7 C1145.2,1202.3 1144.7,1202.7 1146.1,1202.2 C1147.4,1201.6 1146.9,1201.4 1148.3,1200.9 C1149.8,1200.4 1149.5,1200.1 1150.9,1200.3 C1152.3,1200.6 1151.9,1200.9 1153.0,1201.8 C1154.1,1202.8 1153.4,1202.9 1154.5,1203.6 C1155.7,1204.3 1155.4,1203.7 1156.8,1204.1 C1158.1,1204.6 1157.8,1204.3 1159.0,1205.1 C1160.2,1205.8 1160.1,1205.5 1160.6,1206.7 C1161.1,1207.9 1160.2,1207.8 1160.7,1209.1Z" fill="#505156" stroke="#2a2b2f" stroke-width="0.9"/><path d="M1165.8,1040.2L1165.2,1038.1M1173.3,1044.7L1175.9,1046.2M1171.0,1043.5L1172.8,1043.9M1172.3,1046.7L1175.5,1047.2M1172.1,1048.7L1174.8,1050.8M1175.3,1042.3L1178.0,1042.9M1172.2,1042.6L1174.7,1042.2M1164.6,1042.3L1162.1,1040.6M1147.6,1049.1L1144.7,1047.6M1161.0,1057.4L1163.8,1060.0M1155.0,1057.9L1153.5,1061.1M1152.2,1046.9L1150.2,1044.8M1151.1,1045.1L1149.2,1042.0M1153.1,1044.4L1151.3,1042.5M1156.7,1057.1L1156.6,1059.8M1150.6,1046.1L1148.5,1045.8M1157.6,1055.9L1157.9,1058.1M1154.2,1057.3L1153.0,1060.5M1160.8,1046.9L1162.3,1044.9M1161.8,1050.3L1164.4,1049.8M1155.0,1054.2L1153.3,1056.5M1157.5,1057.9L1156.4,1060.0M1172.3,1056.1L1174.0,1059.2M1174.7,1065.1L1175.2,1066.9M1173.1,1065.1L1172.2,1067.6M1172.2,1056.3L1172.6,1059.9M1174.5,1051.2L1175.1,1047.9M1175.1,1056.0L1177.2,1057.6M1183.5,1056.4L1185.6,1057.0M1172.8,1062.1L1173.8,1065.2M1168.7,1053.7L1166.7,1052.3M1174.7,1052.9L1177.2,1052.1M1179.7,1061.3L1180.4,1063.0M1178.0,1051.4L1180.1,1050.0M1177.4,1049.2L1178.3,1046.2M1171.1,1061.7L1169.5,1064.9M1170.7,1055.2L1168.4,1056.9M1166.3,1057.5L1170.3,1057.6M1162.4,1056.3L1158.6,1055.6M1169.9,1057.2L1172.9,1057.1M1161.5,1058.7L1158.1,1059.9M1166.9,1065.2L1168.6,1065.9M1161.4,1065.8L1159.6,1068.7M1160.7,1060.8L1158.2,1061.6M1160.4,1065.3L1159.0,1066.3M1157.8,1063.3L1154.6,1064.0M1167.9,1056.6L1170.6,1056.2M1168.6,1057.9L1170.3,1058.3M1161.7,1065.5L1161.2,1067.2M1174.5,1067.3L1174.8,1065.0M1184.1,1071.4L1187.8,1071.4M1179.1,1071.4L1182.6,1070.5M1175.2,1077.3L1174.9,1079.1M1178.3,1073.3L1182.0,1074.4M1178.1,1077.1L1179.0,1080.9M1180.8,1079.6L1184.2,1081.9M1182.9,1077.1L1184.2,1079.2M1182.4,1070.8L1184.2,1070.3M1177.5,1079.5L1179.3,1082.5M1174.0,1080.3L1174.9,1083.5M1170.2,1071.8L1168.5,1072.2M1175.0,1079.8L1175.9,1081.9M1158.0,1077.0L1159.6,1080.1M1150.9,1072.6L1148.0,1071.0M1146.7,1075.1L1144.7,1074.8M1154.3,1069.6L1151.7,1067.1M1158.6,1077.2L1160.0,1080.3M1148.9,1076.1L1146.5,1077.5M1147.5,1074.3L1145.4,1075.2M1149.9,1075.4L1147.4,1077.3M1173.9,1102.7L1172.1,1103.9M1186.5,1105.3L1189.8,1106.4M1178.2,1106.4L1179.2,1108.0M1180.7,1107.9L1181.3,1110.1M1178.8,1097.2L1180.9,1098.8M1170.1,1092.6L1167.6,1091.5M1177.5,1103.1L1178.5,1105.9M1168.1,1102.8L1164.9,1103.5M1176.2,1103.7L1176.5,1105.4M1179.9,1106.1L1179.5,1108.1M1188.5,1099.7L1191.0,1099.3M1188.9,1101.4L1191.1,1101.3M1172.0,1103.0L1170.4,1104.2M1182.9,1105.0L1184.9,1107.7M1177.3,1103.5L1178.1,1105.1M1177.6,1108.4L1178.7,1112.1M1181.9,1108.5L1182.7,1110.2M1173.7,1098.9L1172.1,1100.2M1187.5,1102.8L1190.1,1103.3M1189.2,1099.9L1191.7,1099.5M1173.3,1100.2L1172.4,1102.3M1178.0,1094.2L1178.8,1091.5M1182.3,1089.2L1183.8,1086.4M1171.3,1106.7L1171.0,1108.4M1184.4,1103.2L1185.6,1105.0M1181.5,1107.4L1182.5,1110.5M1176.9,1105.1L1177.3,1108.8M1183.3,1094.4L1186.3,1093.3M1174.4,1097.5L1172.4,1098.6M1150.8,1103.7L1151.7,1107.0M1154.1,1092.8L1154.4,1091.0M1147.8,1113.1L1147.5,1115.6M1140.4,1107.3L1137.4,1108.1M1148.4,1107.6L1147.7,1109.1M1140.9,1107.1L1138.3,1107.5M1153.0,1103.8L1152.8,1107.2M1141.7,1102.8L1139.3,1102.8M1148.8,1088.9L1148.8,1086.3M1155.5,1109.9L1156.4,1112.0M1152.8,1110.2L1153.7,1112.3M1156.6,1106.9L1158.7,1108.0M1152.6,1095.1L1154.1,1092.9M1144.1,1097.1L1141.1,1094.5M1148.6,1103.9L1148.2,1105.9M1146.8,1101.8L1144.7,1101.8M1147.3,1093.6L1146.4,1090.1M1140.9,1108.3L1138.8,1109.0M1142.3,1109.8L1140.3,1112.8M1146.5,1105.6L1144.5,1107.1M1149.3,1105.8L1149.0,1107.8M1144.6,1110.7L1143.7,1114.5M1154.4,1101.3L1158.4,1101.9M1137.0,1118.5L1134.6,1118.2M1135.0,1129.3L1133.0,1130.2M1138.7,1124.1L1135.0,1123.9M1144.2,1130.9L1143.4,1133.9M1132.0,1121.0L1130.0,1120.8M1151.4,1124.8L1155.2,1124.7M1135.1,1119.2L1132.1,1117.1M1141.2,1121.5L1137.7,1120.6M1140.6,1123.5L1137.6,1123.0M1144.2,1119.6L1143.2,1115.8M1135.7,1130.9L1133.8,1134.1M1145.8,1124.0L1145.6,1128.0M1138.5,1120.8L1136.8,1120.6M1140.9,1122.1L1139.0,1121.4M1136.6,1122.3L1134.8,1121.1M1138.5,1126.7L1135.8,1128.3M1150.3,1123.5L1153.6,1123.2M1171.0,1133.3L1169.3,1135.9M1188.0,1125.7L1191.3,1126.5M1180.4,1134.3L1180.4,1136.8M1183.9,1125.4L1186.4,1125.2M1182.6,1126.8L1185.7,1127.7M1169.3,1120.9L1167.0,1117.5M1184.2,1127.3L1186.9,1127.9M1176.7,1130.3L1175.9,1132.8M1180.1,1122.0L1183.1,1120.0M1189.4,1119.3L1191.8,1116.3M1182.4,1121.7L1184.1,1119.3M1177.0,1136.4L1177.2,1138.7M1167.6,1129.8L1165.7,1130.1M1170.2,1120.9L1166.7,1119.1M1179.2,1123.2L1180.1,1120.5M1182.3,1125.5L1184.8,1124.6M1168.8,1128.0L1165.0,1127.5M1176.7,1136.1L1176.9,1138.4M1177.4,1128.1L1179.3,1131.3M1187.7,1131.2L1189.8,1132.3M1168.6,1133.2L1167.3,1134.2M1176.9,1135.3L1177.4,1138.3M1186.6,1130.3L1188.2,1132.0M1178.7,1124.5L1182.7,1124.3M1178.3,1125.4L1181.7,1124.5M1194.3,1128.8L1197.7,1129.8M1194.3,1126.3L1196.0,1126.9M1142.1,1150.1L1139.8,1150.8M1142.1,1147.0L1140.2,1147.6M1138.7,1153.2L1136.6,1156.3M1139.1,1155.9L1136.4,1158.6M1145.4,1142.9L1142.6,1141.6M1138.8,1147.3L1135.8,1146.6M1141.3,1158.0L1140.6,1160.2M1148.7,1141.1L1148.3,1137.7M1138.2,1150.8L1136.0,1151.2M1143.0,1138.9L1140.7,1136.9M1153.6,1155.0L1155.1,1156.6M1136.6,1142.1L1133.1,1140.2M1151.5,1139.5L1151.8,1137.2M1145.6,1153.1L1144.9,1155.9M1151.1,1158.7L1151.3,1162.4M1154.1,1142.7L1155.3,1140.7M1139.2,1150.7L1135.8,1150.6M1149.1,1146.9L1149.1,1150.9M1153.6,1157.3L1153.7,1159.7M1135.8,1142.7L1133.1,1140.8M1148.8,1157.1L1148.8,1159.6M1152.4,1152.7L1152.4,1155.7M1142.5,1136.1L1142.0,1132.1M1137.2,1149.0L1133.9,1149.4M1147.5,1147.7L1145.8,1148.6M1183.7,1156.7L1185.0,1158.0M1182.8,1158.3L1185.5,1160.7M1178.2,1158.8L1177.7,1162.6M1180.8,1162.6L1181.8,1165.7M1184.4,1164.2L1184.8,1166.7M1184.1,1150.5L1185.4,1148.8M1190.9,1156.5L1192.7,1157.4M1181.6,1166.9L1182.0,1170.4M1193.9,1162.1L1195.8,1162.4M1187.6,1154.9L1190.6,1156.4M1182.0,1144.3L1182.1,1141.5M1186.4,1164.2L1187.6,1165.5M1174.4,1152.3L1172.4,1150.0M1184.4,1144.3L1184.5,1141.5M1191.4,1155.5L1194.3,1156.7M1193.7,1158.8L1196.3,1158.4M1189.1,1157.8L1192.5,1158.9M1182.8,1159.6L1183.7,1161.7M1176.8,1166.8L1176.2,1169.8M1184.8,1169.7L1184.5,1173.4M1188.4,1166.9L1189.4,1168.9M1181.0,1149.8L1181.4,1146.8M1177.6,1157.2L1175.1,1158.9M1176.4,1146.9L1175.2,1144.9M1185.4,1150.7L1188.4,1148.2M1177.4,1157.8L1174.8,1160.5M1187.4,1144.7L1190.2,1142.0M1152.8,1181.6L1153.5,1183.9M1150.9,1166.4L1151.5,1162.5M1157.7,1172.7L1160.1,1172.5M1154.6,1179.6L1154.5,1181.4M1156.0,1171.0L1158.8,1170.3M1150.0,1181.5L1148.5,1184.8M1144.3,1167.2L1140.5,1166.0M1142.2,1167.2L1138.8,1166.4M1153.5,1168.3L1155.0,1165.9M1147.8,1176.0L1146.7,1177.4M1145.1,1176.3L1142.4,1176.7M1141.9,1171.1L1138.3,1169.4M1152.0,1181.6L1152.6,1183.3M1145.5,1181.5L1143.1,1183.7M1157.5,1171.1L1159.1,1170.3M1142.6,1177.0L1139.8,1179.0M1138.0,1188.5L1136.3,1188.1M1147.2,1197.8L1149.2,1200.9M1137.3,1196.2L1135.0,1199.2M1141.3,1183.9L1140.4,1181.3M1134.0,1194.7L1131.0,1196.7M1147.4,1186.1L1150.1,1183.8M1147.2,1189.4L1150.4,1189.1M1145.2,1191.2L1148.5,1191.2M1140.2,1197.9L1140.4,1202.0M1142.4,1186.7L1143.2,1183.7M1136.7,1184.9L1135.6,1182.1M1144.3,1190.3L1147.1,1191.3M1136.0,1187.4L1132.5,1186.5M1147.0,1191.5L1150.9,1192.3M1135.4,1183.6L1133.1,1182.4M1136.7,1188.7L1134.6,1187.5M1147.1,1196.3L1149.8,1198.6M1142.1,1188.4L1142.2,1185.1M1149.2,1192.8L1146.8,1195.5M1149.1,1186.2L1145.1,1187.0M1149.8,1185.4L1147.4,1184.6M1148.8,1190.9L1147.5,1194.0M1149.2,1187.0L1147.5,1187.6M1152.1,1188.8L1150.8,1191.9M1147.2,1189.0L1144.6,1190.6M1155.4,1188.6L1157.0,1191.3M1148.5,1194.8L1146.2,1197.4M1147.1,1191.6L1144.8,1193.2M1187.7,1194.0L1189.0,1195.1M1186.6,1181.7L1189.3,1179.7M1191.4,1192.0L1194.9,1190.9M1179.6,1206.4L1178.3,1209.0M1177.1,1200.9L1176.6,1202.7M1179.4,1189.6L1180.6,1187.0M1179.1,1203.0L1180.5,1205.9M1183.1,1183.7L1185.2,1180.4M1181.4,1179.3L1180.9,1177.6M1186.0,1202.1L1188.5,1205.1M1176.1,1182.7L1175.5,1181.1M1185.3,1203.0L1187.8,1206.0M1184.4,1199.9L1184.8,1202.2M1177.0,1201.7L1177.6,1204.5M1191.6,1195.5L1194.1,1196.1M1176.3,1192.8L1173.3,1194.6M1183.8,1190.6L1185.9,1190.6M1182.4,1189.3L1185.0,1186.8M1180.7,1196.0L1180.6,1197.7M1181.8,1199.5L1182.8,1201.1M1180.2,1197.1L1180.6,1200.1M1184.6,1201.4L1184.7,1203.0M1186.5,1200.0L1188.9,1202.4M1180.6,1205.9L1180.2,1209.5M1183.0,1187.6L1186.6,1185.8M1154.9,1209.0L1158.7,1208.7M1140.7,1218.2L1138.8,1218.8M1143.9,1210.9L1141.4,1209.8M1151.8,1222.7L1151.8,1224.8M1145.0,1218.6L1141.9,1221.2M1146.0,1204.3L1143.5,1201.3M1138.5,1215.7L1136.4,1215.8M1155.2,1215.2L1156.3,1217.0M1149.6,1214.9L1147.7,1216.9M1154.9,1219.2L1156.1,1220.5M1154.1,1219.6L1155.9,1222.8M1139.5,1211.1L1135.8,1210.3M1146.7,1214.0L1144.6,1215.9M1154.0,1219.7L1153.5,1223.0M1150.3,1207.6L1149.4,1203.8M1154.9,1215.6L1155.9,1217.2M1148.5,1206.9L1147.1,1205.0M1143.6,1214.2L1141.6,1214.1M1139.3,1216.5L1137.5,1216.4M1157.0,1215.7L1158.5,1218.1M1141.6,1214.8L1138.4,1217.1M1156.8,1189.3L1156.1,1212.3M1162.8,1075.4L1162.8,1086.7M1164.1,1099.5L1164.2,1120.0M1161.0,1085.7L1160.8,1107.3M1157.8,1182.2L1157.3,1201.9M1163.8,1144.6L1163.9,1159.4M1165.0,1218.9L1165.3,1240.7M1158.4,1241.9L1158.1,1256.8M1158.1,1211.2L1157.5,1233.5M1155.4,1205.5L1154.6,1224.3M1156.4,1181.7L1155.9,1197.7M1166.0,1135.7L1166.4,1157.8" fill="none" stroke="#2a2b2f" stroke-width="0.9" stroke-linecap="round"/><path d="M1170.6,1043.2L1172.4,1044.0M1169.4,1052.1L1169.9,1054.6M1173.3,1042.6L1175.7,1041.5M1164.5,1045.6L1162.7,1047.2M1168.0,1051.3L1169.2,1054.4M1173.7,1049.5L1174.9,1052.3M1168.5,1049.2L1168.2,1051.8M1167.1,1048.8L1168.2,1051.1M1167.3,1043.8L1168.6,1047.0M1154.7,1054.7L1152.5,1056.7M1160.5,1056.1L1163.1,1058.5M1152.8,1050.3L1149.5,1049.4M1155.4,1046.9L1155.0,1044.4M1152.9,1043.9L1152.0,1041.4M1161.0,1046.8L1162.9,1044.2M1159.2,1060.1L1160.1,1064.0M1156.9,1052.7L1156.2,1055.0M1148.9,1055.2L1146.4,1058.1M1153.6,1045.6L1151.7,1044.4M1147.8,1050.5L1145.1,1051.0M1160.4,1051.3L1162.5,1050.7M1150.6,1052.7L1146.6,1052.9M1156.9,1045.0L1155.2,1042.4M1168.7,1056.1L1165.3,1058.4M1179.2,1048.8L1180.8,1045.5M1167.2,1058.8L1164.3,1059.7M1182.4,1061.7L1184.1,1063.0M1174.8,1059.4L1175.9,1061.5M1171.0,1061.0L1168.9,1064.4M1176.2,1064.2L1178.3,1066.0M1174.3,1062.7L1175.6,1065.4M1178.0,1064.8L1178.2,1067.3M1178.4,1058.9L1179.8,1060.2M1173.5,1055.3L1175.6,1055.6M1170.0,1060.0L1168.0,1062.5M1181.2,1057.5L1183.6,1059.9M1173.2,1061.9L1174.7,1064.7M1173.0,1054.4L1176.5,1054.4M1162.0,1053.2L1160.3,1050.9M1165.0,1062.2L1166.5,1063.9M1160.9,1060.8L1158.0,1063.6M1163.4,1067.1L1163.2,1071.2M1167.9,1058.1L1170.7,1059.1M1168.2,1066.7L1170.2,1070.1M1157.1,1056.7L1155.4,1057.0M1167.3,1064.9L1168.8,1066.6M1169.8,1065.8L1172.3,1067.8M1164.2,1055.2L1168.1,1053.8M1169.8,1057.3L1172.7,1056.9M1170.7,1056.6L1173.8,1056.9M1170.7,1074.7L1170.3,1077.3M1173.3,1075.3L1172.5,1076.9M1178.2,1069.2L1181.6,1068.5M1168.1,1071.0L1166.5,1071.5M1179.1,1068.1L1181.5,1067.3M1168.0,1072.9L1164.3,1074.6M1179.6,1079.9L1181.0,1082.0M1174.1,1070.2L1176.1,1067.0M1182.0,1067.8L1184.0,1067.5M1174.1,1079.3L1174.9,1081.3M1172.3,1066.3L1170.7,1063.6M1175.0,1070.9L1179.0,1071.5M1175.8,1076.8L1178.3,1079.4M1150.6,1075.1L1146.9,1074.0M1157.8,1073.8L1159.9,1074.0M1148.5,1075.5L1144.8,1075.5M1156.2,1080.9L1156.1,1083.1M1150.2,1076.2L1147.3,1077.3M1155.5,1073.8L1153.7,1074.8M1154.0,1074.1L1150.1,1074.4M1152.9,1077.4L1150.9,1078.8M1154.6,1073.3L1152.4,1073.5M1176.4,1088.4L1174.4,1085.4M1190.0,1101.0L1192.4,1103.6M1181.6,1110.4L1182.4,1112.2M1192.7,1098.5L1196.1,1098.1M1188.3,1095.8L1190.6,1096.7M1188.3,1101.4L1190.6,1103.7M1185.5,1092.5L1188.0,1090.0M1182.7,1104.2L1184.6,1106.2M1183.2,1106.1L1183.8,1107.8M1180.2,1106.5L1180.4,1110.4M1173.3,1107.1L1170.9,1109.5M1186.6,1094.1L1190.0,1093.2M1186.9,1106.5L1188.4,1107.5M1180.1,1109.2L1181.8,1112.0M1171.3,1106.3L1170.6,1108.3M1173.9,1092.1L1173.2,1088.5M1176.7,1089.5L1177.8,1085.7M1178.3,1100.7L1179.2,1103.1M1175.4,1099.6L1174.3,1102.6M1171.0,1093.7L1168.6,1092.0M1178.3,1100.4L1178.5,1103.3M1173.5,1108.3L1173.3,1111.3M1188.7,1096.7L1191.4,1098.1M1174.7,1102.1L1172.0,1104.5M1173.3,1098.5L1170.8,1098.4M1180.9,1099.2L1183.4,1100.7M1173.7,1092.3L1172.7,1088.8M1178.5,1088.8L1180.3,1086.0M1173.3,1095.9L1171.1,1094.9M1151.0,1110.5L1151.8,1112.3M1139.4,1105.4L1137.4,1107.4M1138.9,1101.4L1136.3,1101.2M1148.4,1089.8L1147.6,1086.3M1149.0,1097.5L1147.5,1095.4M1157.1,1097.2L1159.0,1096.8M1150.1,1101.7L1149.6,1105.1M1152.1,1107.2L1152.2,1108.9M1150.7,1096.0L1150.7,1093.4M1139.2,1098.6L1137.2,1099.0M1152.0,1107.1L1152.1,1108.8M1141.8,1102.8L1140.2,1104.4M1150.7,1110.3L1151.8,1114.3M1145.9,1103.9L1143.3,1105.3M1154.6,1101.6L1157.3,1104.1M1153.2,1105.5L1155.0,1108.5M1155.1,1102.6L1157.3,1105.5M1149.0,1088.9L1149.4,1087.1M1155.4,1103.4L1157.2,1104.7M1144.0,1096.0L1142.5,1094.1M1149.9,1113.0L1149.1,1115.9M1147.0,1102.5L1144.7,1104.3M1152.0,1096.8L1151.6,1093.4M1133.3,1128.6L1131.6,1129.8M1134.5,1131.0L1132.6,1131.9M1152.4,1120.6L1155.4,1119.5M1132.3,1126.9L1129.8,1127.9M1153.3,1126.3L1155.7,1127.7M1154.5,1124.8L1156.6,1125.9M1152.3,1124.8L1154.1,1126.1M1129.4,1124.6L1127.6,1124.1M1130.6,1123.5L1128.5,1124.1M1136.2,1125.3L1132.6,1124.9M1147.6,1128.9L1148.8,1130.3M1146.4,1129.4L1146.0,1133.1M1134.1,1120.0L1130.7,1120.2M1138.6,1130.6L1136.8,1132.1M1138.1,1125.7L1136.2,1125.5M1138.7,1119.1L1136.2,1118.4M1146.5,1120.8L1147.0,1118.0M1136.5,1123.2L1132.8,1124.1M1187.8,1120.4L1190.5,1120.4M1189.1,1130.1L1191.3,1130.8M1180.8,1134.2L1180.8,1136.2M1187.0,1120.7L1189.1,1118.5M1178.5,1118.7L1179.9,1116.7M1174.1,1132.9L1172.9,1135.0M1170.1,1133.3L1167.5,1135.3M1176.7,1123.2L1174.8,1119.7M1185.6,1129.5L1188.3,1131.4M1181.3,1123.7L1183.2,1121.7M1174.2,1133.7L1174.4,1136.6M1175.7,1125.8L1174.0,1126.5M1186.9,1129.0L1189.3,1130.2M1188.5,1136.1L1190.8,1137.9M1186.2,1127.6L1189.3,1129.4M1186.6,1131.1L1189.6,1133.7M1180.2,1130.9L1182.5,1134.0M1171.2,1124.2L1167.3,1124.0M1171.5,1130.5L1169.8,1132.4M1169.9,1126.0L1167.5,1127.0M1182.0,1136.5L1184.3,1138.3M1189.0,1125.8L1192.1,1125.5M1170.1,1127.5L1167.6,1129.9M1168.5,1131.8L1166.8,1133.9M1176.6,1132.7L1175.4,1136.1M1172.9,1121.7L1170.2,1118.9M1192.9,1127.7L1195.4,1128.6M1136.7,1152.5L1134.5,1153.8M1149.0,1150.3L1148.4,1153.9M1153.5,1145.5L1157.1,1143.9M1150.9,1141.8L1151.6,1140.2M1143.1,1140.7L1139.8,1139.4M1143.1,1152.7L1141.3,1154.4M1140.3,1156.2L1137.7,1157.2M1144.6,1138.4L1142.7,1137.0M1139.5,1141.6L1136.9,1138.6M1150.5,1152.7L1152.9,1155.5M1151.9,1158.8L1151.6,1162.3M1137.2,1146.1L1135.3,1145.5M1138.6,1158.0L1136.9,1161.0M1153.6,1149.5L1155.7,1150.5M1144.4,1155.1L1142.2,1157.0M1136.5,1145.2L1133.7,1144.6M1151.7,1145.2L1154.8,1143.3M1137.3,1148.0L1135.1,1149.0M1155.0,1153.8L1156.1,1155.4M1154.0,1152.4L1155.6,1153.1M1147.4,1139.0L1147.0,1137.2M1148.6,1158.8L1148.6,1161.5M1141.9,1146.5L1139.5,1147.0M1154.7,1142.8L1156.8,1139.5M1137.6,1140.0L1135.9,1139.1M1147.3,1147.8L1145.7,1148.5M1180.5,1148.2L1181.3,1145.3M1194.1,1155.2L1196.8,1154.8M1176.4,1152.1L1174.6,1150.4M1187.1,1162.4L1188.3,1165.0M1177.8,1156.1L1175.2,1158.8M1178.9,1146.6L1177.2,1144.1M1190.7,1156.5L1192.8,1157.9M1185.0,1149.5L1187.0,1146.6M1184.2,1155.6L1187.1,1155.9M1191.9,1148.0L1194.9,1145.6M1185.2,1161.6L1185.9,1164.8M1188.1,1161.8L1191.8,1162.9M1185.3,1161.2L1187.0,1163.6M1188.4,1160.1L1190.2,1160.8M1179.4,1165.7L1178.5,1168.0M1178.7,1158.3L1175.6,1160.7M1186.2,1161.7L1189.0,1163.6M1179.1,1149.6L1177.7,1148.0M1178.2,1163.7L1178.0,1166.8M1176.0,1154.8L1173.7,1153.8M1188.0,1165.1L1191.0,1167.7M1189.9,1167.8L1191.9,1169.0M1191.0,1152.6L1193.0,1150.9M1180.2,1158.0L1180.2,1160.8M1192.6,1163.0L1194.0,1164.8M1175.9,1161.4L1173.7,1164.7M1180.8,1161.9L1180.2,1164.0M1151.3,1165.8L1151.8,1162.3M1150.2,1173.0L1148.2,1175.0M1147.5,1171.8L1144.5,1173.2M1146.1,1165.7L1143.5,1162.6M1149.9,1165.1L1148.9,1161.5M1148.1,1174.9L1146.2,1175.7M1143.7,1173.2L1141.6,1174.3M1157.0,1169.6L1159.4,1169.8M1147.7,1180.6L1147.7,1183.5M1149.0,1178.1L1148.3,1181.1M1139.9,1172.1L1136.7,1172.5M1153.4,1178.2L1153.1,1181.5M1148.9,1180.9L1147.4,1184.7M1144.3,1172.1L1140.9,1171.6M1143.0,1175.4L1141.2,1176.2M1148.0,1181.8L1147.9,1184.5M1133.7,1185.4L1130.6,1185.3M1141.8,1192.2L1141.4,1194.7M1133.8,1189.0L1130.0,1190.2M1133.2,1195.2L1130.6,1197.9M1132.3,1194.4L1130.0,1195.2M1129.1,1193.4L1126.5,1194.5M1134.6,1184.5L1132.9,1182.8M1136.1,1188.1L1132.7,1187.1M1130.9,1196.2L1128.7,1197.1M1141.2,1190.6L1138.4,1191.9M1139.6,1183.5L1137.8,1181.0M1145.1,1198.4L1145.4,1200.8M1134.6,1192.0L1131.4,1191.7M1144.0,1197.9L1144.5,1200.6M1139.1,1189.2L1136.9,1188.4M1134.0,1197.4L1132.9,1198.8M1143.8,1189.9L1145.9,1189.4M1130.1,1192.4L1128.3,1192.3M1147.5,1194.2L1146.1,1195.9M1145.4,1183.4L1143.2,1183.4M1146.6,1190.0L1142.9,1190.2M1152.7,1195.1L1153.0,1198.9M1150.6,1186.4L1146.9,1186.6M1157.0,1187.6L1160.7,1188.2M1150.3,1194.3L1149.4,1197.5M1148.8,1191.1L1147.4,1193.0M1156.5,1192.7L1157.2,1195.4M1147.8,1182.9L1145.1,1181.9M1174.8,1189.9L1171.0,1190.4M1179.2,1187.0L1179.8,1185.0M1177.2,1195.6L1175.1,1197.7M1182.9,1208.3L1183.4,1211.2M1190.8,1200.0L1192.4,1200.5M1188.3,1188.9L1191.8,1188.6M1180.8,1186.3L1181.7,1183.7M1184.1,1205.3L1185.6,1207.0M1188.6,1200.3L1189.6,1202.4M1183.7,1187.2L1184.6,1185.2M1182.2,1207.1L1182.3,1209.2M1176.6,1202.4L1175.6,1204.4M1181.1,1207.6L1182.8,1210.5M1179.9,1178.0L1180.5,1174.7M1177.1,1193.3L1176.3,1196.2M1186.9,1202.5L1189.9,1205.0M1183.0,1199.6L1185.4,1202.0M1186.7,1182.5L1189.6,1180.6M1183.6,1195.4L1184.2,1197.0M1175.7,1183.8L1174.3,1182.7M1180.3,1187.8L1181.1,1185.9M1177.9,1199.8L1177.4,1201.5M1177.8,1187.7L1177.7,1184.7M1180.4,1178.4L1180.1,1176.6M1186.2,1189.7L1188.8,1190.3M1152.5,1209.1L1155.1,1207.3M1152.9,1206.6L1152.8,1202.7M1156.4,1216.9L1158.3,1218.3M1153.8,1213.3L1155.6,1215.1M1147.6,1214.1L1146.9,1215.6M1156.9,1217.3L1158.5,1218.8M1144.8,1219.7L1142.9,1221.2M1153.0,1212.8L1156.0,1213.6M1139.3,1210.0L1135.5,1211.3M1144.4,1206.7L1141.1,1205.0M1152.5,1214.5L1153.1,1216.2M1154.8,1219.6L1154.9,1223.0M1154.0,1212.9L1157.0,1214.8M1141.2,1209.3L1138.4,1210.0M1149.5,1208.4L1148.2,1205.9M1141.4,1218.1L1138.9,1218.3M1150.5,1217.0L1149.9,1219.6M1152.0,1210.7L1153.5,1209.9M1147.8,1211.1L1144.6,1211.7M1145.6,1217.2L1144.2,1220.4M1149.2,1209.2L1148.2,1207.7M1164.3,1247.1L1164.5,1261.1M1168.0,1204.6L1168.7,1225.6M1167.4,1171.0L1167.9,1193.1M1162.9,1114.7L1163.0,1128.7M1161.9,1131.3L1161.8,1150.9M1161.7,1205.3L1161.6,1216.3M1163.9,1161.5L1164.0,1176.2M1159.8,1137.4L1159.4,1161.2M1163.7,1180.7L1163.8,1201.4M1166.9,1182.7L1167.5,1206.4M1161.3,1145.3L1161.1,1164.2M1161.3,1134.3L1161.1,1156.2M1163.7,1140.7L1163.8,1153.7M1159.5,1127.3L1159.1,1148.4M1160.8,1089.8L1160.6,1108.5M1154.6,1236.4L1154.1,1249.4M1162.3,1134.4L1162.3,1146.6M1162.0,1122.6L1162.0,1136.0M1159.4,1219.4L1159.2,1231.6M1160.4,1090.3L1160.2,1111.3M1160.1,1180.9L1160.0,1190.7M1161.1,1147.3L1160.9,1171.0" fill="none" stroke="#c3c5ca" stroke-width="0.7" stroke-linecap="round" opacity="0.68"/><path d="M1171.2,1098.2 L1177.2,1106.6 L1167.9,1108.8Z" fill="#eff0f2" opacity="0.95"/><path d="M1151.2,1097.7 L1156.0,1098.8 L1153.0,1102.9Z" fill="#eff0f2" opacity="0.95"/><path d="M1170.8,1143.7 L1176.8,1152.9 L1170.1,1154.8Z" fill="#eff0f2" opacity="0.95"/><path d="M1145.6,1190.4 L1154.0,1192.8 L1147.5,1198.4Z" fill="#eff0f2" opacity="0.95"/><path d="M1170.8,1188.2 L1173.8,1192.8 L1171.2,1197.4Z" fill="#eff0f2" opacity="0.95"/></g>
<g opacity="0.8"><path d="M1465.5,1028.5 L1467.8,1028.5 L1469.7,1092.0 L1470.9,1169.1 L1472.0,1226.8 L1473.2,1277.3 L1462.4,1277.3 L1463.2,1226.8 L1463.9,1169.1 L1464.3,1092.0Z" fill="#505156"/><path d="M1466.6,1035.3 L1461.5,1033.4 L1462.0,1035.5 L1456.9,1033.9 L1457.4,1036.3 L1452.4,1035.3 L1452.8,1037.9 L1447.8,1037.3 L1446.6,1040.4 L1448.1,1040.0 L1454.2,1046.3 L1452.8,1042.6 L1458.9,1048.6 L1457.4,1044.5 L1461.5,1047.0 L1462.0,1045.3 L1466.7,1048.1 L1466.6,1045.5Z" fill="#505156" stroke="#2a2b2f" stroke-width="0.5"/><path d="M1466.6,1048.7 L1460.3,1045.9 L1461.0,1048.6 L1455.4,1047.2 L1455.3,1049.7 L1449.7,1049.1 L1448.1,1052.4 L1449.7,1052.0 L1454.0,1056.5 L1453.9,1054.8 L1458.8,1059.8 L1458.2,1056.9 L1462.4,1060.3 L1462.4,1058.0 L1466.9,1061.3 L1466.6,1058.4Z" fill="#505156" stroke="#2a2b2f" stroke-width="0.5"/><path d="M1466.6,1062.0 L1461.3,1060.8 L1461.6,1063.0 L1457.4,1062.7 L1456.7,1064.2 L1452.2,1063.8 L1451.7,1065.5 L1447.2,1065.2 L1446.7,1067.1 L1441.4,1066.3 L1441.7,1068.9 L1436.7,1068.6 L1436.8,1071.0 L1432.6,1071.5 L1430.2,1073.5 L1431.8,1073.2 L1438.0,1077.6 L1436.1,1073.9 L1440.7,1076.4 L1440.5,1074.6 L1446.0,1078.1 L1444.8,1075.0 L1449.2,1077.1 L1449.2,1075.3 L1453.2,1076.8 L1453.6,1075.2 L1459.1,1078.3 L1457.9,1075.0 L1462.2,1076.4 L1462.3,1074.5 L1466.4,1075.8 L1466.6,1073.9Z" fill="#505156" stroke="#2a2b2f" stroke-width="0.5"/><path d="M1466.6,1078.8 L1460.6,1077.1 L1461.6,1079.9 L1456.0,1078.5 L1456.6,1081.2 L1452.0,1080.9 L1451.6,1082.7 L1446.1,1081.9 L1446.6,1084.7 L1441.9,1084.7 L1441.6,1086.9 L1436.8,1087.0 L1435.0,1089.7 L1436.6,1089.3 L1441.3,1092.5 L1440.9,1090.4 L1447.2,1095.4 L1445.2,1091.4 L1450.7,1095.4 L1449.5,1092.1 L1455.4,1096.3 L1453.8,1092.5 L1459.4,1096.1 L1458.0,1092.5 L1462.4,1094.4 L1462.3,1092.3 L1466.7,1094.1 L1466.6,1091.9Z" fill="#505156" stroke="#2a2b2f" stroke-width="0.5"/><path d="M1466.6,1101.3 L1462.1,1099.4 L1461.8,1100.9 L1457.3,1099.1 L1456.9,1100.6 L1452.7,1099.2 L1452.1,1100.5 L1447.6,1099.0 L1447.3,1100.7 L1442.4,1098.9 L1442.4,1101.2 L1438.5,1100.6 L1437.6,1101.8 L1432.8,1100.4 L1431.2,1103.0 L1432.7,1102.6 L1437.1,1105.8 L1438.4,1105.3 L1442.6,1108.3 L1444.0,1108.1 L1448.5,1111.4 L1449.7,1110.8 L1445.4,1111.7 L1444.5,1113.5 L1440.5,1114.6 L1439.4,1116.3 L1435.4,1117.4 L1432.7,1119.6 L1434.3,1119.0 L1440.1,1123.4 L1438.3,1119.9 L1442.5,1122.3 L1442.4,1120.6 L1448.5,1125.2 L1446.4,1121.2 L1450.3,1123.1 L1450.5,1121.6 L1455.7,1124.9 L1454.5,1121.7 L1459.8,1124.9 L1458.5,1121.5 L1462.2,1122.7 L1462.6,1121.2 L1467.5,1123.7 L1466.6,1120.7Z" fill="#505156" stroke="#2a2b2f" stroke-width="0.5"/><path d="M1466.6,1125.1 L1461.4,1122.8 L1461.2,1124.6 L1455.7,1122.2 L1455.8,1124.5 L1451.4,1123.5 L1450.5,1124.8 L1446.1,1124.1 L1445.1,1125.6 L1440.6,1125.1 L1438.1,1127.1 L1439.7,1126.7 L1445.9,1134.7 L1444.2,1129.9 L1448.7,1134.7 L1448.7,1132.8 L1454.1,1139.1 L1453.1,1135.3 L1458.7,1141.5 L1457.6,1137.4 L1463.0,1143.0 L1462.1,1139.1 L1466.4,1142.6 L1466.6,1140.5Z" fill="#505156" stroke="#2a2b2f" stroke-width="0.5"/><path d="M1466.6,1143.7 L1461.7,1142.7 L1461.6,1144.6 L1456.5,1143.5 L1456.6,1145.6 L1451.2,1144.5 L1451.6,1147.0 L1447.4,1147.0 L1446.6,1148.7 L1441.6,1148.2 L1441.6,1150.7 L1436.7,1150.5 L1435.0,1153.3 L1436.6,1152.9 L1442.8,1158.8 L1440.9,1154.6 L1445.1,1157.7 L1445.2,1156.2 L1451.2,1161.6 L1449.5,1157.5 L1453.6,1160.2 L1453.8,1158.4 L1458.3,1161.4 L1458.0,1159.1 L1462.9,1162.4 L1462.3,1159.5 L1467.6,1163.1 L1466.6,1159.7Z" fill="#505156" stroke="#2a2b2f" stroke-width="0.5"/><path d="M1466.6,1165.2 L1461.6,1164.4 L1461.5,1166.3 L1455.6,1164.9 L1456.3,1167.6 L1451.2,1167.0 L1451.1,1169.2 L1446.5,1169.3 L1446.0,1171.2 L1441.4,1171.5 L1440.8,1173.5 L1436.5,1174.2 L1434.1,1176.4 L1435.6,1176.0 L1440.1,1179.4 L1440.1,1177.7 L1444.6,1181.1 L1444.5,1179.2 L1450.1,1183.9 L1448.9,1180.5 L1454.9,1185.6 L1453.3,1181.4 L1457.6,1183.9 L1457.8,1182.1 L1461.8,1184.0 L1462.2,1182.4 L1467.6,1186.1 L1466.6,1182.6Z" fill="#505156" stroke="#2a2b2f" stroke-width="0.5"/><path d="M1466.6,1186.7 L1461.5,1185.2 L1461.9,1187.4 L1457.1,1186.2 L1457.2,1188.2 L1452.8,1187.4 L1452.5,1189.1 L1447.5,1188.0 L1447.8,1190.2 L1442.6,1189.0 L1443.0,1191.5 L1438.5,1191.0 L1438.3,1193.0 L1433.9,1192.7 L1433.6,1194.7 L1429.8,1194.9 L1427.3,1196.8 L1428.9,1196.4 L1435.2,1202.6 L1433.1,1198.0 L1437.2,1201.2 L1437.3,1199.6 L1442.4,1204.0 L1441.5,1201.1 L1447.2,1206.2 L1445.7,1202.3 L1449.8,1205.2 L1449.9,1203.4 L1455.1,1207.6 L1454.0,1204.2 L1459.5,1208.7 L1458.2,1204.9 L1463.0,1208.3 L1462.4,1205.4 L1467.4,1208.9 L1466.6,1205.9Z" fill="#505156" stroke="#2a2b2f" stroke-width="0.5"/><path d="M1466.6,1209.8 L1462.2,1208.8 L1461.8,1210.2 L1456.9,1208.8 L1456.9,1210.8 L1452.6,1210.2 L1452.1,1211.8 L1446.8,1210.5 L1447.2,1213.0 L1442.9,1212.8 L1442.4,1214.6 L1438.0,1214.4 L1436.0,1216.8 L1437.6,1216.4 L1442.0,1220.3 L1442.4,1218.7 L1446.6,1222.0 L1447.2,1220.9 L1451.3,1224.1 L1452.1,1223.2 L1450.7,1224.3 L1450.8,1225.4 L1449.4,1226.5 L1449.5,1227.7 L1448.1,1228.8 L1446.6,1230.5 L1448.1,1229.9 L1453.7,1233.9 L1452.8,1231.3 L1457.7,1234.2 L1457.4,1232.0 L1462.3,1234.3 L1462.0,1231.7 L1466.2,1232.7 L1466.6,1230.7Z" fill="#505156" stroke="#2a2b2f" stroke-width="0.5"/><path d="M1466.6,1035.3 L1470.6,1034.9 L1470.5,1036.5 L1475.1,1036.2 L1474.3,1038.8 L1478.6,1039.6 L1479.7,1042.7 L1478.2,1042.3 L1472.9,1048.2 L1474.3,1044.9 L1469.7,1049.1 L1470.5,1046.0 L1466.4,1048.3 L1466.6,1045.6Z" fill="#505156" stroke="#2a2b2f" stroke-width="0.5"/><path d="M1466.6,1050.6 L1471.1,1048.9 L1471.5,1050.2 L1476.1,1048.3 L1476.3,1050.0 L1481.7,1047.5 L1481.2,1050.1 L1486.5,1047.9 L1486.0,1050.6 L1490.5,1049.5 L1490.9,1051.4 L1495.8,1050.0 L1497.2,1052.7 L1495.7,1052.4 L1489.8,1058.1 L1491.6,1054.1 L1486.0,1059.3 L1487.4,1055.7 L1482.0,1060.4 L1483.2,1057.0 L1477.9,1061.6 L1479.1,1058.0 L1474.6,1061.1 L1474.9,1058.7 L1470.0,1062.2 L1470.8,1059.1 L1466.7,1061.3 L1466.6,1059.3Z" fill="#505156" stroke="#2a2b2f" stroke-width="0.5"/><path d="M1466.6,1068.0 L1472.0,1065.9 L1471.9,1068.0 L1477.6,1065.8 L1477.1,1068.3 L1482.5,1066.7 L1482.3,1069.1 L1487.0,1068.5 L1487.6,1070.4 L1492.9,1069.3 L1494.4,1072.4 L1492.8,1072.0 L1487.1,1077.9 L1488.5,1074.3 L1483.1,1079.6 L1484.1,1076.4 L1480.0,1079.5 L1479.7,1078.1 L1474.8,1082.3 L1475.4,1079.3 L1471.1,1082.2 L1471.0,1080.2 L1466.2,1083.7 L1466.6,1080.7Z" fill="#505156" stroke="#2a2b2f" stroke-width="0.5"/><path d="M1466.6,1085.3 L1471.5,1084.0 L1471.3,1086.0 L1476.7,1084.5 L1475.9,1087.0 L1480.9,1086.0 L1480.6,1088.3 L1485.6,1087.4 L1485.2,1089.9 L1489.5,1089.9 L1489.9,1091.8 L1494.4,1091.7 L1496.1,1094.3 L1494.6,1094.0 L1490.5,1097.8 L1489.9,1096.6 L1485.9,1100.4 L1485.2,1099.3 L1481.7,1102.2 L1480.6,1102.0 L1485.6,1102.6 L1486.3,1104.7 L1491.2,1105.4 L1492.1,1107.4 L1496.6,1108.3 L1499.4,1110.7 L1497.8,1110.1 L1491.1,1114.8 L1493.4,1110.8 L1486.9,1115.1 L1488.9,1111.3 L1483.6,1114.2 L1484.5,1111.5 L1479.3,1114.1 L1480.0,1111.4 L1475.7,1112.8 L1475.5,1110.9 L1470.1,1113.4 L1471.1,1110.2 L1465.7,1112.5 L1466.6,1109.3Z" fill="#505156" stroke="#2a2b2f" stroke-width="0.5"/><path d="M1466.6,1113.1 L1471.8,1113.0 L1472.1,1115.1 L1477.4,1115.7 L1477.7,1118.4 L1482.7,1119.9 L1484.7,1123.2 L1483.2,1122.8 L1477.4,1128.3 L1479.0,1124.8 L1474.7,1128.0 L1474.9,1126.1 L1469.6,1129.9 L1470.8,1126.3 L1466.1,1128.7 L1466.6,1125.8Z" fill="#505156" stroke="#2a2b2f" stroke-width="0.5"/><path d="M1466.6,1125.2 L1472.1,1124.3 L1471.7,1126.7 L1476.7,1126.3 L1476.8,1128.4 L1482.0,1128.0 L1481.9,1130.4 L1487.1,1130.2 L1487.0,1132.7 L1491.9,1133.0 L1492.1,1135.4 L1497.0,1135.8 L1498.8,1138.6 L1497.2,1138.2 L1492.9,1140.9 L1492.9,1139.4 L1488.3,1142.2 L1488.5,1140.3 L1483.4,1143.7 L1484.1,1141.0 L1478.8,1144.5 L1479.8,1141.4 L1475.4,1143.5 L1475.4,1141.5 L1470.3,1144.2 L1471.0,1141.2 L1466.2,1143.6 L1466.6,1140.8Z" fill="#505156" stroke="#2a2b2f" stroke-width="0.5"/><path d="M1466.6,1144.7 L1470.7,1145.5 L1471.4,1147.2 L1476.0,1148.0 L1476.3,1150.2 L1480.3,1151.8 L1481.1,1154.1 L1484.8,1156.2 L1487.4,1158.8 L1485.9,1158.5 L1481.1,1162.1 L1481.1,1160.4 L1476.0,1164.0 L1476.3,1161.7 L1471.7,1164.0 L1471.4,1162.0 L1467.0,1163.5 L1466.6,1161.5Z" fill="#505156" stroke="#2a2b2f" stroke-width="0.5"/><path d="M1466.6,1163.4 L1471.2,1162.6 L1472.0,1163.9 L1477.3,1162.7 L1477.4,1164.8 L1482.4,1164.2 L1482.8,1166.2 L1488.0,1165.7 L1488.2,1168.0 L1493.1,1167.9 L1495.1,1170.6 L1493.6,1170.2 L1488.7,1174.4 L1489.1,1172.3 L1482.9,1178.2 L1484.6,1174.1 L1480.5,1176.9 L1480.1,1175.5 L1475.3,1179.0 L1475.6,1176.4 L1471.2,1179.1 L1471.1,1177.0 L1466.6,1179.6 L1466.6,1177.3Z" fill="#505156" stroke="#2a2b2f" stroke-width="0.5"/><path d="M1466.6,1183.2 L1471.0,1183.0 L1471.4,1184.7 L1476.9,1183.7 L1476.2,1186.2 L1480.8,1186.0 L1481.0,1188.0 L1485.0,1188.3 L1485.8,1189.9 L1490.6,1189.7 L1490.6,1192.0 L1494.6,1192.6 L1495.4,1194.3 L1499.9,1194.6 L1500.2,1196.8 L1504.3,1197.4 L1506.5,1199.7 L1504.9,1199.3 L1499.3,1203.7 L1500.7,1200.4 L1494.3,1205.6 L1496.4,1201.4 L1490.5,1206.0 L1492.2,1202.3 L1487.2,1205.6 L1487.9,1203.0 L1482.3,1207.0 L1483.7,1203.5 L1478.5,1206.8 L1479.4,1203.8 L1474.9,1206.2 L1475.1,1203.9 L1471.1,1205.6 L1470.9,1203.8 L1466.2,1206.3 L1466.6,1203.7Z" fill="#505156" stroke="#2a2b2f" stroke-width="0.5"/><path d="M1466.6,1206.6 L1471.7,1204.2 L1471.2,1206.3 L1476.8,1203.9 L1475.9,1206.7 L1481.2,1204.9 L1480.5,1207.8 L1485.0,1207.2 L1486.7,1209.9 L1485.1,1209.5 L1480.0,1215.0 L1480.5,1212.6 L1474.6,1219.1 L1475.9,1215.0 L1471.8,1217.8 L1471.2,1216.3 L1467.2,1218.7 L1466.6,1217.0Z" fill="#505156" stroke="#2a2b2f" stroke-width="0.5"/><path d="M1466.6,1217.8 L1471.6,1217.6 L1471.3,1219.8 L1476.2,1219.6 L1476.0,1221.9 L1480.1,1222.5 L1480.7,1224.3 L1485.3,1224.7 L1485.4,1227.0 L1490.2,1227.5 L1490.1,1230.1 L1494.2,1231.3 L1496.3,1233.8 L1494.7,1233.4 L1489.2,1237.1 L1490.1,1234.5 L1485.2,1237.3 L1485.4,1235.3 L1480.5,1238.0 L1480.7,1235.7 L1474.6,1239.5 L1476.0,1235.7 L1471.2,1237.7 L1471.3,1235.3 L1465.7,1238.0 L1466.6,1234.7Z" fill="#505156" stroke="#2a2b2f" stroke-width="0.5"/><path d="M1466.6,1025.0 L1468.0,1029.2 L1470.1,1031.2 L1468.6,1033.5 L1470.9,1035.8 L1466.6,1038.1 L1462.4,1035.8 L1464.7,1033.5 L1463.2,1031.2 L1465.3,1029.2Z" fill="#505156"/><path d="M1451.3,1040.2l-2.6,1.7M1457.7,1038.9l-3.2,0.2M1452.6,1038.8l-3.4,0.5M1462.8,1044.0l-2.7,1.1M1463.4,1042.2l-2.7,0.9M1459.7,1041.6l-3.5,0.1M1456.9,1037.7l-4.0,0.7M1457.3,1053.4l-3.6,0.8M1462.5,1051.4l-4.2,0.1M1454.4,1053.4l-2.3,0.8M1457.1,1053.9l-2.1,0.4M1455.2,1053.9l-4.6,1.2M1452.0,1052.4l-2.3,0.5M1459.2,1069.9l-2.0,0.2M1442.6,1072.8l-2.3,0.7M1453.1,1066.5l-3.8,0.3M1446.1,1069.7l-3.4,0.4M1453.2,1071.5l-2.4,1.2M1460.3,1069.5l-2.6,1.5M1443.1,1069.6l-2.3,1.6M1444.8,1072.5l-2.3,1.1M1453.9,1068.7l-2.3,1.4M1449.0,1070.9l-3.5,1.3M1462.7,1072.3l-3.2,1.3M1451.6,1069.7l-2.2,0.3M1459.5,1066.4l-2.7,0.3M1457.2,1083.9l-3.2,0.1M1447.6,1087.6l-4.5,0.2M1460.2,1082.8l-2.0,0.4M1456.5,1086.1l-2.7,1.3M1441.1,1089.0l-3.1,1.7M1463.1,1086.0l-4.6,0.9M1452.1,1090.0l-2.1,0.4M1454.2,1085.2l-2.1,0.1M1451.1,1084.5l-2.8,0.2M1458.9,1081.3l-3.4,0.8M1441.7,1088.1l-3.1,1.4M1442.5,1106.6l-2.8,0.2M1447.9,1103.8l-2.1,1.2M1461.2,1107.8l-2.8,1.3M1447.9,1105.6l-4.1,1.1M1441.3,1104.0l-2.3,0.1M1462.2,1113.8l-3.4,0.0M1437.5,1104.0l-2.5,0.7M1440.9,1105.6l-2.2,0.9M1441.8,1102.7l-2.8,1.6M1437.9,1103.9l-4.5,1.0M1436.7,1102.4l-3.5,0.8M1458.3,1109.4l-2.9,1.3M1440.6,1106.0l-3.6,0.7M1460.2,1117.3l-3.2,0.1M1458.8,1116.8l-2.8,1.2M1463.8,1111.3l-3.5,0.3M1453.9,1113.5l-3.8,0.7M1446.3,1116.0l-4.1,0.6M1462.0,1104.6l-2.9,1.0M1456.8,1115.9l-2.1,1.3M1441.8,1118.1l-3.6,0.4M1449.6,1113.9l-1.9,0.7M1447.8,1114.4l-2.2,1.2M1458.4,1109.7l-2.6,1.1M1458.1,1106.3l-3.5,1.4M1452.8,1132.5l-2.7,0.5M1461.9,1132.1l-3.6,0.3M1448.4,1126.3l-3.2,1.4M1444.0,1126.9l-3.8,1.5M1462.4,1126.8l-3.6,0.2M1448.7,1130.8l-4.5,1.1M1459.9,1129.4l-3.2,1.2M1456.2,1126.5l-3.5,0.6M1462.9,1135.0l-3.9,0.5M1444.2,1127.3l-2.7,0.9M1455.9,1155.4l-3.3,0.1M1457.5,1147.1l-3.2,1.7M1455.5,1154.9l-1.9,1.3M1454.8,1152.0l-2.1,0.4M1457.3,1156.7l-3.8,0.9M1449.6,1154.9l-3.7,1.1M1442.7,1153.6l-4.4,0.7M1445.0,1152.0l-4.5,1.7M1457.2,1153.5l-2.3,0.3M1442.4,1151.6l-2.0,1.4M1441.6,1153.8l-2.0,0.3M1444.4,1173.5l-3.3,1.7M1454.6,1172.9l-3.2,1.0M1450.3,1176.6l-2.3,0.8M1451.3,1175.6l-4.1,0.1M1463.6,1170.3l-3.1,1.1M1440.3,1176.8l-4.6,0.5M1445.4,1175.3l-3.0,1.6M1455.2,1174.2l-3.5,0.4M1460.5,1180.4l-2.6,0.5M1448.2,1174.1l-3.6,0.4M1459.6,1169.0l-2.1,1.3M1451.6,1178.0l-2.0,1.0M1460.0,1199.3l-3.6,1.1M1442.4,1193.3l-2.1,0.8M1443.7,1198.7l-2.3,1.3M1447.6,1199.9l-3.2,0.3M1460.9,1193.3l-2.1,0.7M1448.4,1197.9l-3.1,1.0M1447.0,1199.7l-3.4,1.1M1460.3,1191.9l-2.9,1.5M1460.0,1200.1l-2.8,0.2M1433.5,1196.0l-3.6,1.3M1461.6,1199.4l-3.0,1.5M1439.1,1198.3l-3.3,0.2M1454.6,1190.7l-3.3,1.6M1460.1,1196.4l-2.2,1.7M1441.1,1216.6l-2.5,0.9M1456.5,1222.7l-3.4,0.2M1442.4,1217.2l-3.3,0.5M1449.9,1214.5l-2.5,1.2M1460.3,1212.1l-3.1,1.1M1450.5,1215.5l-2.9,0.1M1450.2,1219.0l-3.2,1.5M1461.1,1217.6l-3.0,1.7M1464.3,1227.9l-2.8,1.5M1456.2,1221.5l-3.3,1.2M1464.3,1224.9l-4.0,1.5M1464.5,1221.4l-3.2,0.2M1452.6,1228.2l-3.0,1.1M1456.3,1227.6l-3.3,0.8M1453.7,1226.4l-3.8,0.1M1464.9,1225.6l-2.2,0.8M1464.8,1226.1l-4.0,1.1M1455.8,1221.4l-4.3,1.7M1469.5,1037.3l2.8,0.2M1471.6,1039.9l3.9,0.7M1469.6,1040.0l3.1,0.7M1475.7,1042.3l4.0,1.5M1484.6,1054.5l3.8,0.8M1487.3,1052.2l3.4,1.5M1472.4,1052.7l1.9,0.3M1491.8,1053.1l2.8,1.6M1483.3,1054.3l3.2,1.4M1473.0,1053.7l3.1,1.4M1481.8,1052.3l3.7,1.0M1489.4,1053.4l2.8,1.2M1490.8,1053.0l2.0,0.9M1479.7,1051.6l3.7,0.4M1475.9,1051.5l2.9,1.6M1470.6,1071.9l2.5,1.2M1483.5,1072.5l4.3,0.1M1479.5,1072.0l3.3,1.5M1477.4,1072.6l2.3,0.8M1481.4,1071.0l3.1,1.3M1470.2,1069.0l3.6,0.5M1475.9,1074.9l3.3,1.5M1478.9,1071.8l3.6,0.2M1488.9,1072.1l4.2,1.7M1474.7,1070.4l3.0,1.6M1478.1,1091.9l3.6,0.8M1487.6,1095.5l2.6,0.9M1475.9,1093.0l3.6,0.3M1480.9,1089.8l2.5,1.7M1471.7,1089.9l4.6,0.5M1485.8,1097.9l4.2,1.4M1472.9,1100.0l3.2,0.0M1485.6,1098.0l3.4,0.7M1479.3,1090.3l2.1,0.4M1485.9,1095.4l2.8,0.7M1476.7,1095.1l1.9,1.0M1474.4,1102.9l3.5,0.5M1484.3,1106.3l3.9,0.8M1473.9,1099.0l3.4,0.2M1490.6,1105.8l3.4,1.0M1484.5,1105.8l2.3,0.8M1469.7,1097.8l2.7,0.1M1471.2,1095.4l3.8,1.1M1480.4,1099.2l3.2,0.8M1482.9,1106.7l4.5,1.1M1486.6,1104.1l3.6,1.1M1487.1,1103.2l3.6,1.1M1468.8,1122.3l2.5,0.9M1480.7,1122.2l3.5,1.7M1478.5,1122.3l3.4,1.4M1477.4,1123.5l4.1,1.4M1478.2,1121.0l4.0,0.9M1481.1,1122.3l3.3,1.1M1481.6,1131.6l2.4,1.6M1485.8,1136.5l4.3,0.8M1472.1,1128.9l2.8,1.3M1484.9,1135.8l2.2,0.9M1480.1,1137.4l3.4,1.5M1479.7,1130.4l2.6,1.7M1476.8,1134.0l4.4,1.6M1471.2,1132.3l3.3,0.8M1488.6,1135.5l3.1,0.2M1486.0,1137.1l3.3,0.6M1469.3,1135.5l2.8,0.4M1475.8,1151.5l2.2,1.5M1482.2,1158.7l3.7,0.1M1471.9,1148.7l3.3,0.3M1480.5,1155.1l4.5,1.5M1473.3,1159.3l4.2,1.6M1482.5,1158.0l2.0,0.6M1474.1,1152.4l3.0,1.6M1488.2,1169.0l2.5,1.3M1478.2,1167.5l2.5,0.2M1477.9,1168.2l4.0,0.9M1478.9,1167.9l3.6,0.6M1479.6,1171.3l3.2,1.6M1481.8,1171.8l3.8,0.3M1476.1,1167.7l2.0,0.0M1488.8,1170.6l2.5,1.7M1488.4,1170.4l3.8,0.2M1475.9,1167.8l2.8,1.7M1477.9,1188.5l2.2,1.0M1500.7,1198.6l3.1,0.8M1499.7,1198.5l3.9,0.9M1492.7,1196.2l2.3,1.4M1493.6,1195.6l3.7,1.2M1488.2,1200.8l2.5,1.3M1486.9,1197.3l4.4,1.0M1478.1,1197.4l3.0,0.1M1485.1,1199.3l2.8,0.6M1470.5,1194.1l4.2,1.5M1480.0,1197.2l3.7,1.7M1471.9,1199.9l2.3,0.3M1477.3,1192.6l4.6,0.3M1492.6,1199.9l3.5,0.4M1471.2,1212.0l2.1,0.0M1476.6,1211.2l2.8,1.0M1476.7,1211.9l2.2,0.2M1477.3,1211.9l3.8,0.7M1472.2,1209.8l4.4,0.8M1471.1,1212.8l3.0,0.8M1471.5,1211.3l3.1,1.6M1472.2,1232.9l2.6,0.6M1488.1,1233.5l3.8,0.3M1472.7,1229.7l3.3,0.5M1470.6,1227.1l2.6,1.3M1474.1,1233.1l3.2,1.5M1477.4,1232.6l3.8,0.7M1482.3,1226.3l3.2,1.5M1491.9,1233.1l3.2,0.9M1484.2,1230.4l4.5,1.7M1476.7,1232.0l3.4,0.4M1465.7,1211.3l0.1,7.0M1467.4,1110.2l-0.1,13.3M1468.3,1175.9l-0.3,9.0M1467.3,1126.4l-0.1,6.5M1467.3,1172.1l0.0,10.0M1468.4,1104.0l-0.2,9.8M1467.9,1172.6l-0.3,13.4M1467.3,1104.2l-0.6,7.1M1468.5,1097.5l0.6,10.8" fill="none" stroke="#2a2b2f" stroke-width="0.8" stroke-linecap="round"/><path d="M1457.6,1039.6l-2.8,1.7M1455.7,1039.8l-2.7,1.4M1451.0,1040.5l-2.6,0.5M1458.0,1040.8l-3.6,1.3M1460.1,1038.7l-3.4,0.8M1461.3,1039.7l-4.4,1.5M1452.6,1052.0l-3.0,1.5M1453.7,1052.7l-3.1,0.5M1457.6,1052.6l-2.8,0.3M1453.9,1053.0l-3.7,0.0M1464.6,1056.0l-2.5,1.1M1452.5,1051.6l-3.6,0.7M1453.0,1066.6l-2.1,1.0M1454.8,1070.3l-3.2,1.6M1445.8,1070.9l-4.4,1.0M1442.4,1071.5l-2.3,0.4M1445.1,1069.1l-3.7,0.2M1450.1,1069.1l-4.1,0.1M1444.4,1069.9l-2.2,1.7M1453.7,1067.6l-2.8,1.1M1445.3,1072.4l-3.1,1.5M1452.5,1066.9l-2.0,0.4M1463.8,1067.7l-4.3,1.1M1459.3,1067.6l-3.0,1.5M1441.5,1088.3l-4.5,1.2M1447.8,1086.7l-3.7,1.3M1462.3,1084.4l-4.6,0.6M1446.5,1086.4l-2.6,1.2M1464.1,1080.0l-4.0,0.7M1455.6,1083.1l-2.1,1.6M1463.0,1084.3l-2.1,0.4M1440.3,1088.3l-3.3,0.7M1450.9,1089.9l-3.5,1.5M1450.1,1086.6l-3.6,1.3M1458.7,1082.3l-2.8,0.2M1461.6,1104.9l-2.2,0.7M1462.6,1104.2l-2.7,0.6M1448.5,1109.8l-3.7,1.3M1437.4,1104.3l-3.8,0.5M1459.2,1105.0l-3.7,0.5M1462.5,1103.0l-2.9,1.5M1453.8,1105.3l-2.0,1.0M1459.2,1111.8l-3.1,1.6M1451.1,1106.1l-3.1,1.3M1461.0,1114.2l-3.1,0.1M1439.4,1103.7l-2.5,0.5M1457.2,1106.1l-2.6,1.7M1459.5,1106.1l-3.9,1.6M1441.1,1117.7l-4.1,0.7M1453.7,1111.6l-2.0,0.5M1438.0,1118.7l-4.4,1.2M1448.3,1116.8l-3.3,0.5M1443.9,1117.7l-2.8,1.6M1446.3,1119.1l-4.3,1.2M1450.3,1118.5l-2.6,1.7M1459.3,1114.6l-4.4,1.6M1449.4,1116.9l-2.9,1.5M1440.2,1116.2l-3.6,1.3M1440.7,1118.1l-3.0,0.7M1451.1,1132.1l-2.4,0.1M1460.3,1132.1l-3.7,1.2M1443.3,1127.1l-4.2,1.1M1453.9,1126.4l-2.4,0.3M1447.7,1129.4l-4.1,1.4M1443.1,1126.6l-2.2,0.1M1448.0,1126.4l-3.0,0.9M1449.4,1128.7l-4.5,1.6M1461.9,1131.0l-2.9,1.3M1449.1,1130.2l-3.5,0.5M1453.9,1149.5l-3.7,0.1M1450.9,1151.2l-4.4,0.2M1455.3,1146.9l-2.6,0.8M1440.2,1152.6l-3.2,0.1M1462.9,1149.8l-4.0,0.8M1463.3,1144.5l-4.0,0.7M1439.6,1153.1l-4.3,0.3M1458.9,1150.7l-2.7,0.8M1453.0,1148.2l-3.0,1.6M1440.6,1152.9l-2.3,0.4M1453.7,1149.8l-4.0,0.6M1446.3,1172.6l-2.2,1.1M1439.6,1175.1l-3.5,0.5M1446.2,1172.1l-4.0,0.7M1451.4,1170.5l-3.0,0.6M1440.6,1175.2l-3.4,1.2M1459.9,1179.8l-2.1,0.8M1456.5,1174.8l-4.2,0.2M1452.6,1170.3l-2.2,0.6M1444.2,1176.4l-2.6,1.4M1457.5,1178.7l-3.1,1.6M1449.9,1170.8l-2.0,1.4M1456.8,1202.2l-2.2,0.1M1443.5,1199.0l-3.9,0.1M1455.6,1193.1l-1.9,1.3M1456.9,1192.4l-4.5,0.4M1444.4,1197.3l-2.4,0.2M1435.4,1195.1l-2.6,0.9M1450.6,1199.1l-4.2,0.5M1455.4,1197.6l-3.7,1.7M1444.0,1198.8l-3.5,0.1M1455.5,1194.6l-2.8,0.2M1461.7,1192.4l-2.4,1.6M1450.7,1192.9l-2.0,1.0M1434.3,1196.2l-2.2,1.3M1446.8,1195.5l-2.7,1.0M1442.4,1216.5l-3.6,1.6M1463.0,1227.2l-3.2,0.8M1446.6,1215.8l-3.2,1.3M1446.9,1214.7l-4.6,0.2M1443.9,1215.6l-3.8,0.2M1447.1,1214.8l-4.0,0.6M1442.4,1216.2l-2.8,1.5M1461.2,1221.6l-4.0,1.3M1448.5,1217.0l-4.2,1.2M1449.7,1220.3l-2.4,0.9M1462.1,1229.6l-4.2,0.4M1461.7,1218.8l-2.0,1.1M1460.5,1226.3l-2.9,1.0M1461.2,1227.6l-2.3,0.1M1458.5,1227.7l-3.2,0.9M1452.5,1228.0l-3.9,1.5M1471.1,1038.3l2.5,0.0M1469.1,1044.3l4.3,1.2M1467.8,1039.9l4.0,1.2M1476.2,1042.5l3.0,1.1M1473.5,1053.0l2.6,1.2M1477.7,1051.6l3.6,0.6M1479.1,1051.7l1.9,1.0M1470.9,1051.7l1.9,0.1M1479.7,1055.7l3.6,0.9M1474.4,1052.7l4.1,0.1M1471.2,1056.0l3.0,0.6M1471.9,1054.4l2.1,1.1M1480.1,1053.3l2.3,0.5M1475.9,1051.5l2.7,1.6M1478.6,1070.2l4.3,0.6M1473.6,1071.4l2.6,1.4M1481.0,1072.6l3.7,1.1M1487.6,1071.9l2.9,1.0M1469.6,1069.2l4.0,1.6M1482.8,1070.4l3.2,0.3M1486.8,1072.8l4.2,0.3M1487.7,1072.0l4.0,1.6M1471.5,1076.2l3.9,0.8M1482.9,1094.5l2.7,0.1M1482.2,1095.1l4.4,1.3M1490.3,1092.6l3.3,0.5M1486.9,1092.8l3.2,0.1M1474.5,1088.2l2.2,1.7M1474.7,1090.0l2.7,0.1M1475.8,1101.3l4.2,1.3M1482.0,1092.7l2.0,0.5M1477.3,1102.4l3.2,1.5M1476.1,1097.8l4.2,1.4M1475.0,1091.3l2.7,0.4M1487.8,1103.5l4.4,0.2M1491.4,1108.0l3.8,0.1M1488.1,1104.7l3.2,0.9M1485.9,1103.2l2.7,0.8M1483.5,1100.4l2.2,1.6M1476.0,1094.8l3.0,1.6M1469.7,1091.8l2.7,1.6M1472.9,1102.5l3.9,0.8M1470.3,1098.2l3.7,0.6M1486.3,1108.9l3.8,1.2M1475.1,1122.4l4.0,0.8M1472.3,1122.1l4.5,0.1M1479.6,1121.0l3.2,1.1M1468.8,1118.7l4.4,1.6M1477.0,1122.1l4.3,1.2M1475.6,1118.4l4.5,0.6M1476.0,1132.0l4.1,0.4M1477.3,1132.0l2.9,0.0M1492.7,1137.1l2.6,0.5M1475.8,1130.3l4.0,0.2M1477.0,1139.1l2.0,1.6M1487.1,1137.6l4.1,0.0M1472.8,1139.8l3.4,0.5M1476.9,1139.1l3.2,0.5M1475.1,1139.7l3.6,0.9M1472.8,1127.7l2.3,0.7M1477.0,1134.3l2.5,1.5M1477.3,1154.2l3.8,0.1M1474.9,1158.3l3.5,0.4M1475.2,1158.9l4.4,0.9M1475.8,1158.8l2.7,1.7M1479.6,1154.2l2.7,1.1M1473.6,1151.1l2.5,0.9M1477.6,1157.7l4.4,0.1M1485.4,1170.6l3.2,1.3M1469.6,1175.5l4.5,0.6M1472.6,1174.1l4.4,0.1M1475.4,1168.1l3.6,0.9M1478.5,1172.3l4.4,1.1M1478.0,1167.2l2.0,1.2M1483.6,1169.3l3.1,1.2M1472.8,1170.8l3.7,0.5M1487.2,1169.4l3.6,1.3M1483.3,1169.9l3.4,1.1M1488.5,1200.7l3.6,1.5M1481.4,1198.6l3.5,0.2M1488.2,1197.1l2.2,0.2M1493.2,1199.0l3.0,0.2M1478.3,1187.5l3.5,1.4M1483.4,1196.5l2.7,0.4M1485.4,1197.5l3.6,0.7M1475.0,1191.9l3.8,1.1M1493.3,1198.4l3.1,1.5M1475.8,1199.2l3.4,1.6M1480.4,1193.6l2.3,1.2M1499.5,1198.4l4.0,0.6M1498.1,1199.5l3.8,0.5M1488.9,1200.5l3.5,0.3M1473.8,1209.1l3.3,0.1M1476.1,1211.9l3.5,1.1M1481.2,1210.6l1.9,1.5M1469.8,1213.4l3.8,0.8M1471.3,1214.8l4.6,0.3M1478.5,1209.3l3.5,0.4M1471.3,1224.4l4.6,0.6M1478.8,1225.8l2.6,0.6M1474.7,1223.6l2.2,0.8M1475.0,1232.2l4.5,1.6M1479.6,1229.6l2.6,1.3M1469.6,1223.0l3.1,0.6M1490.8,1232.7l3.8,1.0M1490.5,1232.3l3.5,0.5M1491.8,1233.4l2.0,0.1M1471.2,1223.4l2.3,0.2M1469.8,1230.0l0.3,11.8M1469.3,1145.9l-0.5,7.7M1468.5,1150.7l0.1,8.2M1470.5,1192.6l0.1,9.1M1468.1,1095.3l0.2,8.6M1469.1,1139.7l-0.2,10.3M1468.3,1084.3l-0.0,9.6M1466.5,1210.0l0.3,13.9M1467.2,1243.1l-0.1,11.6" fill="none" stroke="#c3c5ca" stroke-width="0.6" stroke-linecap="round" opacity="0.6"/></g>
</svg>

</body>
</html>
